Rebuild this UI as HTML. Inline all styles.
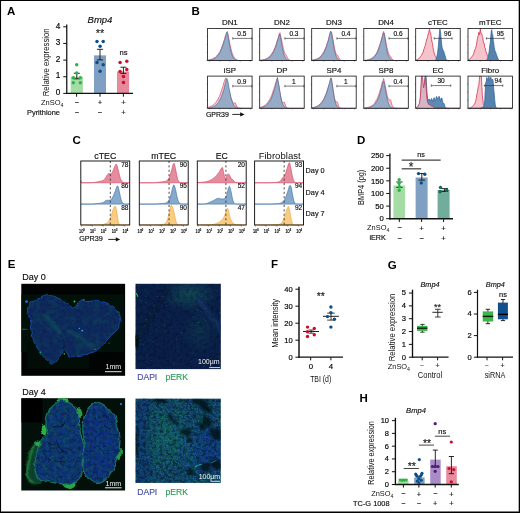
<!DOCTYPE html>
<html><head><meta charset="utf-8"><title>Figure</title>
<style>
html,body{margin:0;padding:0;background:#fff;}
body{width:520px;height:513px;overflow:hidden;position:relative;}
svg{position:absolute;left:0;top:0;display:block;font-family:"Liberation Sans", sans-serif;}
</style></head><body>
<svg width="520" height="513" viewBox="0 0 520 513">
<text x="7.00" y="15.30" font-size="11.5" text-anchor="start" font-weight="bold" font-style="normal" fill="#000" >A</text>
<text x="100.00" y="22.50" font-size="9.5" text-anchor="middle" font-weight="normal" font-style="italic" fill="#111"  stroke="#111" stroke-width="0.16">Bmp4</text>
<rect x="70.70" y="76.75" width="12.20" height="16.65" fill="#a3dca5" stroke="none" stroke-width="0.8" />
<rect x="94.00" y="55.35" width="12.00" height="38.05" fill="#7fa0c2" stroke="none" stroke-width="0.8" />
<rect x="117.00" y="71.51" width="12.10" height="21.89" fill="#e68a9c" stroke="none" stroke-width="0.8" />
<line x1="66.75" y1="24.50" x2="66.75" y2="94.00" stroke="#111" stroke-width="1.25" />
<line x1="66.15" y1="93.40" x2="133.00" y2="93.40" stroke="#111" stroke-width="1.25" />
<line x1="63.25" y1="93.40" x2="66.75" y2="93.40" stroke="#111" stroke-width="1.0" />
<text x="60.40" y="95.10" font-size="8.2" text-anchor="end" font-weight="normal" font-style="normal" fill="#000"  stroke="#000" stroke-width="0.16">0</text>
<line x1="63.25" y1="76.75" x2="66.75" y2="76.75" stroke="#111" stroke-width="1.0" />
<text x="60.40" y="78.45" font-size="8.2" text-anchor="end" font-weight="normal" font-style="normal" fill="#000"  stroke="#000" stroke-width="0.16">1</text>
<line x1="63.25" y1="60.10" x2="66.75" y2="60.10" stroke="#111" stroke-width="1.0" />
<text x="60.40" y="61.80" font-size="8.2" text-anchor="end" font-weight="normal" font-style="normal" fill="#000"  stroke="#000" stroke-width="0.16">2</text>
<line x1="63.25" y1="43.45" x2="66.75" y2="43.45" stroke="#111" stroke-width="1.0" />
<text x="60.40" y="45.15" font-size="8.2" text-anchor="end" font-weight="normal" font-style="normal" fill="#000"  stroke="#000" stroke-width="0.16">3</text>
<line x1="63.25" y1="26.80" x2="66.75" y2="26.80" stroke="#111" stroke-width="1.0" />
<text x="60.40" y="28.50" font-size="8.2" text-anchor="end" font-weight="normal" font-style="normal" fill="#000"  stroke="#000" stroke-width="0.16">4</text>
<line x1="76.60" y1="93.40" x2="76.60" y2="96.70" stroke="#111" stroke-width="1.0" />
<line x1="100.00" y1="93.40" x2="100.00" y2="96.70" stroke="#111" stroke-width="1.0" />
<line x1="123.40" y1="93.40" x2="123.40" y2="96.70" stroke="#111" stroke-width="1.0" />
<text transform="translate(48.90,62.30) rotate(-90) scale(0.8659,1)" font-size="9.0" text-anchor="middle" fill="#111">Relative expression</text>
<line x1="76.80" y1="73.30" x2="76.80" y2="78.80" stroke="#111" stroke-width="0.9" />
<line x1="73.80" y1="73.30" x2="79.80" y2="73.30" stroke="#111" stroke-width="0.9" />
<line x1="73.80" y1="78.80" x2="79.80" y2="78.80" stroke="#111" stroke-width="0.9" />
<line x1="100.00" y1="49.30" x2="100.00" y2="59.90" stroke="#111" stroke-width="0.9" />
<line x1="96.90" y1="49.30" x2="103.10" y2="49.30" stroke="#111" stroke-width="0.9" />
<line x1="96.90" y1="59.90" x2="103.10" y2="59.90" stroke="#111" stroke-width="0.9" />
<line x1="123.40" y1="67.20" x2="123.40" y2="73.40" stroke="#111" stroke-width="0.9" />
<line x1="120.40" y1="67.20" x2="126.40" y2="67.20" stroke="#111" stroke-width="0.9" />
<line x1="120.40" y1="73.40" x2="126.40" y2="73.40" stroke="#111" stroke-width="0.9" />
<circle cx="76.70" cy="64.80" r="1.75" fill="#2fb34a"/>
<circle cx="76.70" cy="73.00" r="1.75" fill="#2fb34a"/>
<circle cx="73.30" cy="77.70" r="1.75" fill="#2fb34a"/>
<circle cx="80.30" cy="77.70" r="1.75" fill="#2fb34a"/>
<circle cx="73.30" cy="82.70" r="1.75" fill="#2fb34a"/>
<circle cx="80.30" cy="82.70" r="1.75" fill="#2fb34a"/>
<circle cx="97.00" cy="41.40" r="1.75" fill="#0b4f8a"/>
<circle cx="103.20" cy="41.40" r="1.75" fill="#0b4f8a"/>
<circle cx="100.10" cy="46.20" r="1.75" fill="#0b4f8a"/>
<circle cx="97.00" cy="62.40" r="1.75" fill="#0b4f8a"/>
<circle cx="103.20" cy="64.80" r="1.75" fill="#0b4f8a"/>
<circle cx="100.10" cy="71.20" r="1.75" fill="#0b4f8a"/>
<circle cx="120.10" cy="62.40" r="1.75" fill="#c8102e"/>
<circle cx="126.80" cy="61.30" r="1.75" fill="#c8102e"/>
<circle cx="120.10" cy="71.50" r="1.75" fill="#c8102e"/>
<circle cx="126.80" cy="69.60" r="1.75" fill="#c8102e"/>
<circle cx="123.50" cy="76.50" r="1.75" fill="#c8102e"/>
<circle cx="123.50" cy="82.40" r="1.75" fill="#c8102e"/>
<text x="100.00" y="37.25" font-size="11" text-anchor="middle" font-weight="normal" font-style="normal" fill="#222" stroke="#222" stroke-width="0.15">**</text>
<text x="123.50" y="54.60" font-size="7.6" text-anchor="middle" font-weight="normal" font-style="normal" fill="#111"  stroke="#111" stroke-width="0.16">ns</text>
<text x="63.50" y="105.20" font-size="7.5" text-anchor="end" fill="#111">ZnSO<tspan font-size="5.25" dy="1.6">4</tspan></text>
<text x="59.90" y="114.80" font-size="7.4" text-anchor="end" font-weight="normal" font-style="normal" fill="#111"  stroke="#111" stroke-width="0.16">Pyrithione</text>
<text x="76.80" y="104.88" font-size="7.36" text-anchor="middle" font-weight="normal" font-style="normal" fill="#222"  stroke="#222" stroke-width="0.16">−</text>
<text x="76.80" y="114.98" font-size="7.36" text-anchor="middle" font-weight="normal" font-style="normal" fill="#222"  stroke="#222" stroke-width="0.16">−</text>
<text x="100.00" y="105.02" font-size="7.73" text-anchor="middle" font-weight="normal" font-style="normal" fill="#222"  stroke="#222" stroke-width="0.16">+</text>
<text x="100.00" y="114.98" font-size="7.36" text-anchor="middle" font-weight="normal" font-style="normal" fill="#222"  stroke="#222" stroke-width="0.16">−</text>
<text x="123.40" y="105.02" font-size="7.73" text-anchor="middle" font-weight="normal" font-style="normal" fill="#222"  stroke="#222" stroke-width="0.16">+</text>
<text x="123.40" y="115.12" font-size="7.73" text-anchor="middle" font-weight="normal" font-style="normal" fill="#222"  stroke="#222" stroke-width="0.16">+</text>
<text x="191.50" y="15.30" font-size="11.5" text-anchor="start" font-weight="bold" font-style="normal" fill="#000" >B</text>
<text x="229.85" y="24.80" font-size="7.9" text-anchor="middle" font-weight="normal" font-style="normal" fill="#111"  stroke="#111" stroke-width="0.16">DN1</text>
<clipPath id="cb00"><rect x="207.6" y="28.4" width="44.5" height="32.2"/></clipPath>
<g clip-path="url(#cb00)">
<path d="M207.60 60.70 L207.60 60.16 L208.09 60.08 L208.59 60.00 L209.08 59.90 L209.58 59.79 L210.07 59.71 L210.57 59.58 L211.06 59.37 L211.56 59.26 L212.05 59.08 L212.54 58.79 L213.04 58.62 L213.53 58.31 L214.03 58.08 L214.52 57.73 L215.02 57.48 L215.51 56.99 L216.01 56.50 L216.50 56.11 L216.99 55.53 L217.49 54.97 L217.98 54.56 L218.48 53.60 L218.97 52.92 L219.47 52.25 L219.96 51.52 L220.46 50.06 L220.95 49.27 L221.44 47.96 L221.94 46.61 L222.43 45.44 L222.93 43.85 L223.42 42.94 L223.92 40.96 L224.41 39.80 L224.91 37.51 L225.40 35.90 L225.89 35.44 L226.39 33.86 L226.88 32.41 L227.38 31.47 L227.87 34.14 L228.37 36.10 L228.86 39.02 L229.36 41.28 L229.85 43.88 L230.34 46.24 L230.84 48.21 L231.33 50.18 L231.83 51.76 L232.32 53.41 L232.82 54.65 L233.31 55.81 L233.81 56.74 L234.30 57.60 L234.79 58.32 L235.29 58.75 L235.78 59.17 L236.28 59.52 L236.77 59.81 L237.27 60.01 L237.76 60.19 L238.26 60.30 L238.75 60.41 L239.24 60.49 L239.74 60.54 L240.23 60.58 L240.73 60.61 L241.22 60.64 L241.72 60.65 L242.21 60.67 L242.71 60.68 L243.20 60.68 L243.69 60.69 L244.19 60.69 L244.68 60.69 L245.18 60.70 L245.67 60.70 L246.17 60.70 L246.66 60.70 L247.16 60.70 L247.65 60.70 L248.14 60.70 L248.64 60.70 L249.13 60.70 L249.63 60.70 L250.12 60.70 L250.62 60.70 L251.11 60.70 L251.61 60.70 L252.10 60.70 L252.10 60.70 Z" fill="#f5c3cb" stroke="#d9344f" stroke-width="0.6" stroke-linejoin="round" fill-opacity="1.0"/>
<path d="M207.60 60.70 L207.60 60.37 L208.09 60.32 L208.59 60.24 L209.08 60.19 L209.58 60.09 L210.07 60.00 L210.57 59.93 L211.06 59.81 L211.56 59.68 L212.05 59.52 L212.54 59.36 L213.04 59.17 L213.53 58.96 L214.03 58.68 L214.52 58.46 L215.02 58.17 L215.51 57.79 L216.01 57.50 L216.50 57.07 L216.99 56.43 L217.49 56.02 L217.98 55.43 L218.48 54.97 L218.97 54.11 L219.47 53.25 L219.96 52.66 L220.46 51.40 L220.95 50.34 L221.44 49.59 L221.94 47.96 L222.43 46.76 L222.93 45.14 L223.42 43.93 L223.92 41.94 L224.41 40.19 L224.91 39.35 L225.40 37.56 L225.89 34.88 L226.39 32.71 L226.88 32.50 L227.38 33.11 L227.87 35.15 L228.37 38.23 L228.86 41.01 L229.36 43.85 L229.85 46.44 L230.34 48.69 L230.84 51.03 L231.33 52.84 L231.83 54.27 L232.32 55.85 L232.82 56.79 L233.31 57.65 L233.81 58.42 L234.30 58.99 L234.79 59.37 L235.29 59.74 L235.78 60.00 L236.28 60.18 L236.77 60.32 L237.27 60.44 L237.76 60.51 L238.26 60.56 L238.75 60.60 L239.24 60.63 L239.74 60.65 L240.23 60.67 L240.73 60.68 L241.22 60.69 L241.72 60.69 L242.21 60.69 L242.71 60.70 L243.20 60.70 L243.69 60.70 L244.19 60.70 L244.68 60.70 L245.18 60.70 L245.67 60.70 L246.17 60.70 L246.66 60.70 L247.16 60.70 L247.65 60.70 L248.14 60.70 L248.64 60.70 L249.13 60.70 L249.63 60.70 L250.12 60.70 L250.62 60.70 L251.11 60.70 L251.61 60.70 L252.10 60.70 L252.10 60.70 Z" fill="#92aac6" stroke="#34679a" stroke-width="0.6" stroke-linejoin="round" fill-opacity="0.96"/>
</g>
<rect x="207.60" y="28.40" width="44.50" height="32.20" fill="none" stroke="#111" stroke-width="0.8" />
<line x1="209.60" y1="60.60" x2="209.60" y2="61.80" stroke="#333" stroke-width="0.4" />
<line x1="219.80" y1="60.60" x2="219.80" y2="61.80" stroke="#333" stroke-width="0.4" />
<line x1="230.00" y1="60.60" x2="230.00" y2="61.80" stroke="#333" stroke-width="0.4" />
<line x1="240.20" y1="60.60" x2="240.20" y2="61.80" stroke="#333" stroke-width="0.4" />
<line x1="250.40" y1="60.60" x2="250.40" y2="61.80" stroke="#333" stroke-width="0.4" />
<line x1="206.60" y1="60.60" x2="207.60" y2="60.60" stroke="#333" stroke-width="0.4" />
<line x1="206.60" y1="52.60" x2="207.60" y2="52.60" stroke="#333" stroke-width="0.4" />
<line x1="206.60" y1="44.60" x2="207.60" y2="44.60" stroke="#333" stroke-width="0.4" />
<line x1="206.60" y1="36.60" x2="207.60" y2="36.60" stroke="#333" stroke-width="0.4" />
<line x1="232.80" y1="38.40" x2="251.80" y2="38.40" stroke="#222" stroke-width="0.6" />
<line x1="232.80" y1="37.20" x2="232.80" y2="39.60" stroke="#222" stroke-width="0.6" />
<line x1="251.80" y1="37.20" x2="251.80" y2="39.60" stroke="#222" stroke-width="0.6" />
<text x="241.80" y="36.00" font-size="6.5" text-anchor="middle" font-weight="normal" font-style="normal" fill="#111"  stroke="#111" stroke-width="0.16">0.5</text>
<text x="281.95" y="24.80" font-size="7.9" text-anchor="middle" font-weight="normal" font-style="normal" fill="#111"  stroke="#111" stroke-width="0.16">DN2</text>
<clipPath id="cb01"><rect x="259.7" y="28.4" width="44.5" height="32.2"/></clipPath>
<g clip-path="url(#cb01)">
<path d="M259.70 60.70 L259.70 60.32 L260.19 60.29 L260.69 60.24 L261.18 60.14 L261.68 60.07 L262.17 59.97 L262.67 59.90 L263.16 59.76 L263.66 59.64 L264.15 59.55 L264.64 59.35 L265.14 59.17 L265.63 58.99 L266.13 58.78 L266.62 58.57 L267.12 58.29 L267.61 58.01 L268.11 57.70 L268.60 57.23 L269.09 56.88 L269.59 56.29 L270.08 55.99 L270.58 55.16 L271.07 54.60 L271.57 53.81 L272.06 53.06 L272.56 52.22 L273.05 51.49 L273.54 50.86 L274.04 49.35 L274.53 48.63 L275.03 47.33 L275.52 45.73 L276.02 44.46 L276.51 43.12 L277.01 41.00 L277.50 39.77 L277.99 38.50 L278.49 37.02 L278.98 34.52 L279.48 33.67 L279.97 32.67 L280.47 34.92 L280.96 37.30 L281.46 39.29 L281.95 41.53 L282.44 44.71 L282.94 46.51 L283.43 48.62 L283.93 50.63 L284.42 52.20 L284.92 53.70 L285.41 54.16 L285.91 54.61 L286.40 55.53 L286.89 56.41 L287.39 57.52 L287.88 58.49 L288.38 59.24 L288.87 59.70 L289.37 59.97 L289.86 60.19 L290.36 60.32 L290.85 60.42 L291.34 60.49 L291.84 60.55 L292.33 60.59 L292.83 60.62 L293.32 60.64 L293.82 60.66 L294.31 60.67 L294.81 60.68 L295.30 60.69 L295.79 60.69 L296.29 60.69 L296.78 60.70 L297.28 60.70 L297.77 60.70 L298.27 60.70 L298.76 60.70 L299.26 60.70 L299.75 60.70 L300.24 60.70 L300.74 60.70 L301.23 60.70 L301.73 60.70 L302.22 60.70 L302.72 60.70 L303.21 60.70 L303.71 60.70 L304.20 60.70 L304.20 60.70 Z" fill="#f5c3cb" stroke="#d9344f" stroke-width="0.6" stroke-linejoin="round" fill-opacity="1.0"/>
<path d="M259.70 60.70 L259.70 60.46 L260.19 60.42 L260.69 60.38 L261.18 60.33 L261.68 60.27 L262.17 60.21 L262.67 60.15 L263.16 60.05 L263.66 59.95 L264.15 59.87 L264.64 59.73 L265.14 59.59 L265.63 59.39 L266.13 59.20 L266.62 59.05 L267.12 58.76 L267.61 58.50 L268.11 58.28 L268.60 57.92 L269.09 57.62 L269.59 57.07 L270.08 56.63 L270.58 56.05 L271.07 55.49 L271.57 54.89 L272.06 54.15 L272.56 53.44 L273.05 52.80 L273.54 51.63 L274.04 50.95 L274.53 49.78 L275.03 48.13 L275.52 47.41 L276.02 46.01 L276.51 44.57 L277.01 42.20 L277.50 41.37 L277.99 39.93 L278.49 37.17 L278.98 36.59 L279.48 34.07 L279.97 34.62 L280.47 36.60 L280.96 39.25 L281.46 42.64 L281.95 45.31 L282.44 48.58 L282.94 50.44 L283.43 52.66 L283.93 54.32 L284.42 55.94 L284.92 56.93 L285.41 57.84 L285.91 58.68 L286.40 59.19 L286.89 59.59 L287.39 59.89 L287.88 60.15 L288.38 60.31 L288.87 60.43 L289.37 60.51 L289.86 60.57 L290.36 60.61 L290.85 60.64 L291.34 60.66 L291.84 60.67 L292.33 60.68 L292.83 60.69 L293.32 60.69 L293.82 60.70 L294.31 60.70 L294.81 60.70 L295.30 60.70 L295.79 60.70 L296.29 60.70 L296.78 60.70 L297.28 60.70 L297.77 60.70 L298.27 60.70 L298.76 60.70 L299.26 60.70 L299.75 60.70 L300.24 60.70 L300.74 60.70 L301.23 60.70 L301.73 60.70 L302.22 60.70 L302.72 60.70 L303.21 60.70 L303.71 60.70 L304.20 60.70 L304.20 60.70 Z" fill="#92aac6" stroke="#34679a" stroke-width="0.6" stroke-linejoin="round" fill-opacity="0.96"/>
</g>
<rect x="259.70" y="28.40" width="44.50" height="32.20" fill="none" stroke="#111" stroke-width="0.8" />
<line x1="261.70" y1="60.60" x2="261.70" y2="61.80" stroke="#333" stroke-width="0.4" />
<line x1="271.90" y1="60.60" x2="271.90" y2="61.80" stroke="#333" stroke-width="0.4" />
<line x1="282.10" y1="60.60" x2="282.10" y2="61.80" stroke="#333" stroke-width="0.4" />
<line x1="292.30" y1="60.60" x2="292.30" y2="61.80" stroke="#333" stroke-width="0.4" />
<line x1="302.50" y1="60.60" x2="302.50" y2="61.80" stroke="#333" stroke-width="0.4" />
<line x1="258.70" y1="60.60" x2="259.70" y2="60.60" stroke="#333" stroke-width="0.4" />
<line x1="258.70" y1="52.60" x2="259.70" y2="52.60" stroke="#333" stroke-width="0.4" />
<line x1="258.70" y1="44.60" x2="259.70" y2="44.60" stroke="#333" stroke-width="0.4" />
<line x1="258.70" y1="36.60" x2="259.70" y2="36.60" stroke="#333" stroke-width="0.4" />
<line x1="284.90" y1="38.40" x2="303.90" y2="38.40" stroke="#222" stroke-width="0.6" />
<line x1="284.90" y1="37.20" x2="284.90" y2="39.60" stroke="#222" stroke-width="0.6" />
<line x1="303.90" y1="37.20" x2="303.90" y2="39.60" stroke="#222" stroke-width="0.6" />
<text x="293.90" y="36.00" font-size="6.5" text-anchor="middle" font-weight="normal" font-style="normal" fill="#111"  stroke="#111" stroke-width="0.16">0.3</text>
<text x="333.95" y="24.80" font-size="7.9" text-anchor="middle" font-weight="normal" font-style="normal" fill="#111"  stroke="#111" stroke-width="0.16">DN3</text>
<clipPath id="cb02"><rect x="311.7" y="28.4" width="44.5" height="32.2"/></clipPath>
<g clip-path="url(#cb02)">
<path d="M311.70 60.70 L311.70 60.23 L312.19 60.16 L312.69 60.07 L313.18 59.97 L313.68 59.90 L314.17 59.77 L314.67 59.66 L315.16 59.49 L315.66 59.36 L316.15 59.21 L316.64 59.02 L317.14 58.82 L317.63 58.52 L318.13 58.26 L318.62 57.98 L319.12 57.61 L319.61 57.24 L320.11 56.71 L320.60 56.39 L321.09 55.63 L321.59 55.21 L322.08 54.52 L322.58 53.87 L323.07 52.94 L323.57 52.09 L324.06 51.30 L324.56 50.34 L325.05 49.10 L325.54 47.81 L326.04 46.90 L326.53 45.25 L327.03 43.56 L327.52 42.52 L328.02 41.19 L328.51 39.53 L329.01 37.15 L329.50 35.42 L329.99 33.20 L330.49 31.67 L330.98 31.33 L331.48 32.13 L331.97 34.19 L332.47 36.97 L332.96 39.16 L333.46 41.92 L333.95 44.70 L334.44 47.80 L334.94 49.63 L335.43 51.90 L335.93 53.36 L336.42 54.28 L336.92 55.09 L337.41 55.41 L337.91 55.65 L338.40 56.65 L338.89 57.74 L339.39 58.74 L339.88 59.49 L340.38 59.97 L340.87 60.21 L341.37 60.35 L341.86 60.45 L342.36 60.53 L342.85 60.57 L343.34 60.61 L343.84 60.64 L344.33 60.66 L344.83 60.67 L345.32 60.68 L345.82 60.69 L346.31 60.69 L346.81 60.69 L347.30 60.70 L347.79 60.70 L348.29 60.70 L348.78 60.70 L349.28 60.70 L349.77 60.70 L350.27 60.70 L350.76 60.70 L351.26 60.70 L351.75 60.70 L352.24 60.70 L352.74 60.70 L353.23 60.70 L353.73 60.70 L354.22 60.70 L354.72 60.70 L355.21 60.70 L355.71 60.70 L356.20 60.70 L356.20 60.70 Z" fill="#f5c3cb" stroke="#d9344f" stroke-width="0.6" stroke-linejoin="round" fill-opacity="1.0"/>
<path d="M311.70 60.70 L311.70 60.37 L312.19 60.32 L312.69 60.27 L313.18 60.19 L313.68 60.11 L314.17 60.04 L314.67 59.91 L315.16 59.81 L315.66 59.71 L316.15 59.51 L316.64 59.40 L317.14 59.19 L317.63 58.94 L318.13 58.71 L318.62 58.44 L319.12 58.12 L319.61 57.80 L320.11 57.44 L320.60 57.04 L321.09 56.59 L321.59 55.87 L322.08 55.24 L322.58 54.63 L323.07 53.81 L323.57 53.14 L324.06 52.29 L324.56 51.24 L325.05 49.84 L325.54 49.21 L326.04 47.59 L326.53 46.42 L327.03 44.44 L327.52 43.25 L328.02 41.59 L328.51 39.73 L329.01 37.71 L329.50 35.48 L329.99 34.26 L330.49 31.69 L330.98 31.68 L331.48 33.09 L331.97 36.11 L332.47 39.21 L332.96 41.65 L333.46 44.87 L333.95 48.17 L334.44 50.63 L334.94 52.62 L335.43 54.28 L335.93 55.75 L336.42 56.97 L336.92 57.93 L337.41 58.71 L337.91 59.22 L338.40 59.65 L338.89 59.93 L339.39 60.16 L339.88 60.33 L340.38 60.44 L340.87 60.52 L341.37 60.58 L341.86 60.62 L342.36 60.64 L342.85 60.66 L343.34 60.68 L343.84 60.68 L344.33 60.69 L344.83 60.69 L345.32 60.70 L345.82 60.70 L346.31 60.70 L346.81 60.70 L347.30 60.70 L347.79 60.70 L348.29 60.70 L348.78 60.70 L349.28 60.70 L349.77 60.70 L350.27 60.70 L350.76 60.70 L351.26 60.70 L351.75 60.70 L352.24 60.70 L352.74 60.70 L353.23 60.70 L353.73 60.70 L354.22 60.70 L354.72 60.70 L355.21 60.70 L355.71 60.70 L356.20 60.70 L356.20 60.70 Z" fill="#92aac6" stroke="#34679a" stroke-width="0.6" stroke-linejoin="round" fill-opacity="0.96"/>
</g>
<rect x="311.70" y="28.40" width="44.50" height="32.20" fill="none" stroke="#111" stroke-width="0.8" />
<line x1="313.70" y1="60.60" x2="313.70" y2="61.80" stroke="#333" stroke-width="0.4" />
<line x1="323.90" y1="60.60" x2="323.90" y2="61.80" stroke="#333" stroke-width="0.4" />
<line x1="334.10" y1="60.60" x2="334.10" y2="61.80" stroke="#333" stroke-width="0.4" />
<line x1="344.30" y1="60.60" x2="344.30" y2="61.80" stroke="#333" stroke-width="0.4" />
<line x1="354.50" y1="60.60" x2="354.50" y2="61.80" stroke="#333" stroke-width="0.4" />
<line x1="310.70" y1="60.60" x2="311.70" y2="60.60" stroke="#333" stroke-width="0.4" />
<line x1="310.70" y1="52.60" x2="311.70" y2="52.60" stroke="#333" stroke-width="0.4" />
<line x1="310.70" y1="44.60" x2="311.70" y2="44.60" stroke="#333" stroke-width="0.4" />
<line x1="310.70" y1="36.60" x2="311.70" y2="36.60" stroke="#333" stroke-width="0.4" />
<line x1="336.90" y1="38.40" x2="355.90" y2="38.40" stroke="#222" stroke-width="0.6" />
<line x1="336.90" y1="37.20" x2="336.90" y2="39.60" stroke="#222" stroke-width="0.6" />
<line x1="355.90" y1="37.20" x2="355.90" y2="39.60" stroke="#222" stroke-width="0.6" />
<text x="345.90" y="36.00" font-size="6.5" text-anchor="middle" font-weight="normal" font-style="normal" fill="#111"  stroke="#111" stroke-width="0.16">0.4</text>
<text x="386.05" y="24.80" font-size="7.9" text-anchor="middle" font-weight="normal" font-style="normal" fill="#111"  stroke="#111" stroke-width="0.16">DN4</text>
<clipPath id="cb03"><rect x="363.8" y="28.4" width="44.5" height="32.2"/></clipPath>
<g clip-path="url(#cb03)">
<path d="M363.80 60.70 L363.80 60.43 L364.29 60.39 L364.79 60.35 L365.28 60.29 L365.78 60.23 L366.27 60.16 L366.77 60.07 L367.26 59.95 L367.76 59.87 L368.25 59.72 L368.74 59.59 L369.24 59.47 L369.73 59.23 L370.23 59.05 L370.72 58.78 L371.22 58.54 L371.71 58.24 L372.21 57.97 L372.70 57.52 L373.19 57.07 L373.69 56.61 L374.18 56.20 L374.68 55.52 L375.17 54.97 L375.67 54.40 L376.16 53.66 L376.66 52.80 L377.15 51.80 L377.64 50.80 L378.14 49.46 L378.63 48.07 L379.13 46.85 L379.62 45.51 L380.12 43.74 L380.61 42.47 L381.11 40.57 L381.60 38.40 L382.09 37.04 L382.59 35.56 L383.08 32.66 L383.58 31.46 L384.07 32.72 L384.57 34.75 L385.06 37.02 L385.56 39.65 L386.05 42.79 L386.54 45.56 L387.04 47.74 L387.53 49.50 L388.03 51.76 L388.52 53.12 L389.02 54.35 L389.51 55.08 L390.01 55.63 L390.50 56.17 L390.99 57.07 L391.49 58.06 L391.98 58.90 L392.48 59.51 L392.97 59.88 L393.47 60.14 L393.96 60.29 L394.46 60.40 L394.95 60.48 L395.44 60.54 L395.94 60.59 L396.43 60.62 L396.93 60.64 L397.42 60.66 L397.92 60.67 L398.41 60.68 L398.91 60.69 L399.40 60.69 L399.89 60.69 L400.39 60.70 L400.88 60.70 L401.38 60.70 L401.87 60.70 L402.37 60.70 L402.86 60.70 L403.36 60.70 L403.85 60.70 L404.34 60.70 L404.84 60.70 L405.33 60.70 L405.83 60.70 L406.32 60.70 L406.82 60.70 L407.31 60.70 L407.81 60.70 L408.30 60.70 L408.30 60.70 Z" fill="#f5c3cb" stroke="#d9344f" stroke-width="0.6" stroke-linejoin="round" fill-opacity="1.0"/>
<path d="M363.80 60.70 L363.80 60.53 L364.29 60.50 L364.79 60.48 L365.28 60.44 L365.78 60.40 L366.27 60.34 L366.77 60.29 L367.26 60.22 L367.76 60.12 L368.25 60.01 L368.74 59.93 L369.24 59.77 L369.73 59.65 L370.23 59.46 L370.72 59.26 L371.22 59.03 L371.71 58.88 L372.21 58.57 L372.70 58.21 L373.19 57.78 L373.69 57.53 L374.18 57.02 L374.68 56.36 L375.17 55.97 L375.67 55.23 L376.16 54.51 L376.66 53.54 L377.15 52.49 L377.64 51.85 L378.14 50.40 L378.63 49.14 L379.13 47.69 L379.62 46.43 L380.12 44.49 L380.61 43.34 L381.11 41.49 L381.60 39.85 L382.09 37.18 L382.59 35.65 L383.08 34.15 L383.58 32.87 L384.07 33.38 L384.57 36.21 L385.06 39.14 L385.56 42.66 L386.05 45.54 L386.54 48.53 L387.04 50.57 L387.53 53.01 L388.03 54.54 L388.52 55.88 L389.02 57.06 L389.51 58.07 L390.01 58.74 L390.50 59.21 L390.99 59.64 L391.49 59.93 L391.98 60.16 L392.48 60.33 L392.97 60.44 L393.47 60.52 L393.96 60.58 L394.46 60.62 L394.95 60.65 L395.44 60.66 L395.94 60.68 L396.43 60.69 L396.93 60.69 L397.42 60.69 L397.92 60.70 L398.41 60.70 L398.91 60.70 L399.40 60.70 L399.89 60.70 L400.39 60.70 L400.88 60.70 L401.38 60.70 L401.87 60.70 L402.37 60.70 L402.86 60.70 L403.36 60.70 L403.85 60.70 L404.34 60.70 L404.84 60.70 L405.33 60.70 L405.83 60.70 L406.32 60.70 L406.82 60.70 L407.31 60.70 L407.81 60.70 L408.30 60.70 L408.30 60.70 Z" fill="#92aac6" stroke="#34679a" stroke-width="0.6" stroke-linejoin="round" fill-opacity="0.96"/>
</g>
<rect x="363.80" y="28.40" width="44.50" height="32.20" fill="none" stroke="#111" stroke-width="0.8" />
<line x1="365.80" y1="60.60" x2="365.80" y2="61.80" stroke="#333" stroke-width="0.4" />
<line x1="376.00" y1="60.60" x2="376.00" y2="61.80" stroke="#333" stroke-width="0.4" />
<line x1="386.20" y1="60.60" x2="386.20" y2="61.80" stroke="#333" stroke-width="0.4" />
<line x1="396.40" y1="60.60" x2="396.40" y2="61.80" stroke="#333" stroke-width="0.4" />
<line x1="406.60" y1="60.60" x2="406.60" y2="61.80" stroke="#333" stroke-width="0.4" />
<line x1="362.80" y1="60.60" x2="363.80" y2="60.60" stroke="#333" stroke-width="0.4" />
<line x1="362.80" y1="52.60" x2="363.80" y2="52.60" stroke="#333" stroke-width="0.4" />
<line x1="362.80" y1="44.60" x2="363.80" y2="44.60" stroke="#333" stroke-width="0.4" />
<line x1="362.80" y1="36.60" x2="363.80" y2="36.60" stroke="#333" stroke-width="0.4" />
<line x1="389.00" y1="38.40" x2="408.00" y2="38.40" stroke="#222" stroke-width="0.6" />
<line x1="389.00" y1="37.20" x2="389.00" y2="39.60" stroke="#222" stroke-width="0.6" />
<line x1="408.00" y1="37.20" x2="408.00" y2="39.60" stroke="#222" stroke-width="0.6" />
<text x="398.00" y="36.00" font-size="6.5" text-anchor="middle" font-weight="normal" font-style="normal" fill="#111"  stroke="#111" stroke-width="0.16">0.6</text>
<text x="437.95" y="24.80" font-size="7.9" text-anchor="middle" font-weight="normal" font-style="normal" fill="#111"  stroke="#111" stroke-width="0.16">cTEC</text>
<clipPath id="cb04"><rect x="415.7" y="28.4" width="44.5" height="32.2"/></clipPath>
<g clip-path="url(#cb04)">
<path d="M415.70 60.70 L415.70 60.13 L416.19 59.90 L416.69 59.82 L417.18 59.51 L417.68 59.41 L418.17 59.04 L418.67 58.77 L419.16 58.18 L419.66 57.77 L420.15 57.19 L420.64 56.47 L421.14 55.63 L421.63 55.16 L422.13 53.99 L422.62 53.07 L423.12 52.29 L423.61 49.99 L424.11 48.85 L424.60 46.81 L425.09 46.29 L425.59 43.75 L426.08 42.01 L426.58 39.26 L427.07 39.26 L427.57 36.47 L428.06 34.10 L428.56 34.05 L429.05 30.77 L429.54 29.32 L430.04 31.65 L430.53 32.72 L431.03 35.47 L431.52 39.58 L432.02 42.06 L432.51 43.45 L433.01 47.60 L433.50 49.85 L433.99 52.41 L434.49 54.00 L434.98 55.48 L435.48 56.19 L435.97 57.29 L436.47 58.00 L436.96 58.55 L437.46 59.06 L437.95 59.30 L438.44 59.58 L438.94 59.74 L439.43 59.78 L439.93 59.86 L440.42 59.91 L440.92 60.00 L441.41 60.01 L441.91 60.08 L442.40 60.07 L442.89 60.12 L443.39 60.21 L443.88 60.21 L444.38 60.30 L444.87 60.35 L445.37 60.36 L445.86 60.42 L446.36 60.45 L446.85 60.49 L447.34 60.53 L447.84 60.55 L448.33 60.58 L448.83 60.60 L449.32 60.62 L449.82 60.64 L450.31 60.65 L450.81 60.66 L451.30 60.67 L451.79 60.68 L452.29 60.68 L452.78 60.69 L453.28 60.69 L453.77 60.69 L454.27 60.70 L454.76 60.70 L455.26 60.70 L455.75 60.70 L456.24 60.70 L456.74 60.70 L457.23 60.70 L457.73 60.70 L458.22 60.70 L458.72 60.70 L459.21 60.70 L459.71 60.70 L460.20 60.70 L460.20 60.70 Z" fill="#f5c3cb" stroke="#d9344f" stroke-width="0.8" stroke-linejoin="round" fill-opacity="1.0"/>
<path d="M415.70 60.70 L415.70 60.70 L416.19 60.70 L416.69 60.70 L417.18 60.70 L417.68 60.70 L418.17 60.70 L418.67 60.70 L419.16 60.70 L419.66 60.70 L420.15 60.70 L420.64 60.70 L421.14 60.70 L421.63 60.70 L422.13 60.70 L422.62 60.70 L423.12 60.70 L423.61 60.70 L424.11 60.70 L424.60 60.70 L425.09 60.70 L425.59 60.70 L426.08 60.70 L426.58 60.70 L427.07 60.70 L427.57 60.70 L428.06 60.70 L428.56 60.70 L429.05 60.70 L429.54 60.70 L430.04 60.70 L430.53 60.70 L431.03 60.70 L431.52 60.70 L432.02 60.70 L432.51 60.70 L433.01 60.69 L433.50 60.68 L433.99 60.65 L434.49 60.57 L434.98 60.38 L435.48 60.02 L435.97 59.39 L436.47 58.13 L436.96 56.30 L437.46 53.66 L437.95 49.97 L438.44 45.55 L438.94 38.85 L439.43 32.91 L439.93 29.20 L440.42 31.39 L440.92 36.48 L441.41 41.95 L441.91 46.51 L442.40 48.99 L442.89 50.04 L443.39 50.42 L443.88 51.81 L444.38 53.43 L444.87 55.11 L445.37 57.02 L445.86 58.75 L446.36 59.77 L446.85 60.31 L447.34 60.55 L447.84 60.65 L448.33 60.69 L448.83 60.70 L449.32 60.70 L449.82 60.70 L450.31 60.70 L450.81 60.70 L451.30 60.70 L451.79 60.70 L452.29 60.70 L452.78 60.70 L453.28 60.70 L453.77 60.70 L454.27 60.70 L454.76 60.70 L455.26 60.70 L455.75 60.70 L456.24 60.70 L456.74 60.70 L457.23 60.70 L457.73 60.70 L458.22 60.70 L458.72 60.70 L459.21 60.70 L459.71 60.70 L460.20 60.70 L460.20 60.70 Z" fill="#4f7dab" stroke="#34679a" stroke-width="0.8" stroke-linejoin="round" fill-opacity="0.96"/>
</g>
<rect x="415.70" y="28.40" width="44.50" height="32.20" fill="none" stroke="#111" stroke-width="0.8" />
<line x1="417.70" y1="60.60" x2="417.70" y2="61.80" stroke="#333" stroke-width="0.4" />
<line x1="427.90" y1="60.60" x2="427.90" y2="61.80" stroke="#333" stroke-width="0.4" />
<line x1="438.10" y1="60.60" x2="438.10" y2="61.80" stroke="#333" stroke-width="0.4" />
<line x1="448.30" y1="60.60" x2="448.30" y2="61.80" stroke="#333" stroke-width="0.4" />
<line x1="458.50" y1="60.60" x2="458.50" y2="61.80" stroke="#333" stroke-width="0.4" />
<line x1="414.70" y1="60.60" x2="415.70" y2="60.60" stroke="#333" stroke-width="0.4" />
<line x1="414.70" y1="52.60" x2="415.70" y2="52.60" stroke="#333" stroke-width="0.4" />
<line x1="414.70" y1="44.60" x2="415.70" y2="44.60" stroke="#333" stroke-width="0.4" />
<line x1="414.70" y1="36.60" x2="415.70" y2="36.60" stroke="#333" stroke-width="0.4" />
<line x1="434.20" y1="38.40" x2="452.10" y2="38.40" stroke="#222" stroke-width="0.6" />
<line x1="434.20" y1="37.20" x2="434.20" y2="39.60" stroke="#222" stroke-width="0.6" />
<line x1="452.10" y1="37.20" x2="452.10" y2="39.60" stroke="#222" stroke-width="0.6" />
<text x="447.70" y="36.00" font-size="6.5" text-anchor="middle" font-weight="normal" font-style="normal" fill="#111"  stroke="#111" stroke-width="0.16">96</text>
<text x="490.25" y="24.80" font-size="7.9" text-anchor="middle" font-weight="normal" font-style="normal" fill="#111"  stroke="#111" stroke-width="0.16">mTEC</text>
<clipPath id="cb05"><rect x="468.0" y="28.4" width="44.5" height="32.2"/></clipPath>
<g clip-path="url(#cb05)">
<path d="M468.00 60.70 L468.00 59.95 L468.49 59.87 L468.99 59.61 L469.48 59.22 L469.98 59.01 L470.47 58.62 L470.97 57.80 L471.46 57.16 L471.96 56.84 L472.45 55.97 L472.94 55.14 L473.44 54.26 L473.93 52.91 L474.43 50.31 L474.92 50.41 L475.42 48.47 L475.91 46.79 L476.41 45.28 L476.90 41.86 L477.39 38.93 L477.89 36.34 L478.38 35.12 L478.88 32.30 L479.37 34.78 L479.87 32.23 L480.36 28.17 L480.86 33.46 L481.35 33.42 L481.84 33.83 L482.34 36.68 L482.83 37.59 L483.33 41.76 L483.82 43.31 L484.32 43.46 L484.81 47.88 L485.31 48.23 L485.80 51.51 L486.29 51.88 L486.79 53.81 L487.28 55.08 L487.78 56.51 L488.27 57.32 L488.77 57.53 L489.26 58.32 L489.76 58.70 L490.25 58.79 L490.74 59.04 L491.24 59.46 L491.73 59.43 L492.23 59.67 L492.72 59.83 L493.22 59.98 L493.71 60.05 L494.21 60.09 L494.70 60.25 L495.19 60.34 L495.69 60.41 L496.18 60.47 L496.68 60.51 L497.17 60.54 L497.67 60.60 L498.16 60.62 L498.66 60.64 L499.15 60.65 L499.64 60.67 L500.14 60.68 L500.63 60.69 L501.13 60.69 L501.62 60.69 L502.12 60.70 L502.61 60.70 L503.11 60.70 L503.60 60.70 L504.09 60.70 L504.59 60.70 L505.08 60.70 L505.58 60.70 L506.07 60.70 L506.57 60.70 L507.06 60.70 L507.56 60.70 L508.05 60.70 L508.54 60.70 L509.04 60.70 L509.53 60.70 L510.03 60.70 L510.52 60.70 L511.02 60.70 L511.51 60.70 L512.01 60.70 L512.50 60.70 L512.50 60.70 Z" fill="#f5c3cb" stroke="#d9344f" stroke-width="0.8" stroke-linejoin="round" fill-opacity="1.0"/>
<path d="M468.00 60.70 L468.00 60.70 L468.49 60.70 L468.99 60.70 L469.48 60.70 L469.98 60.70 L470.47 60.70 L470.97 60.70 L471.46 60.70 L471.96 60.70 L472.45 60.70 L472.94 60.70 L473.44 60.70 L473.93 60.70 L474.43 60.70 L474.92 60.70 L475.42 60.70 L475.91 60.70 L476.41 60.70 L476.90 60.70 L477.39 60.70 L477.89 60.70 L478.38 60.70 L478.88 60.70 L479.37 60.70 L479.87 60.70 L480.36 60.70 L480.86 60.70 L481.35 60.70 L481.84 60.70 L482.34 60.70 L482.83 60.70 L483.33 60.70 L483.82 60.69 L484.32 60.68 L484.81 60.66 L485.31 60.61 L485.80 60.49 L486.29 60.30 L486.79 59.92 L487.28 59.25 L487.78 58.01 L488.27 56.13 L488.77 53.89 L489.26 50.63 L489.76 46.11 L490.25 42.76 L490.74 37.12 L491.24 31.59 L491.73 29.61 L492.23 33.88 L492.72 34.57 L493.22 40.45 L493.71 42.97 L494.21 47.49 L494.70 49.98 L495.19 51.15 L495.69 52.20 L496.18 54.09 L496.68 55.20 L497.17 56.77 L497.67 58.19 L498.16 59.18 L498.66 59.83 L499.15 60.26 L499.64 60.50 L500.14 60.61 L500.63 60.67 L501.13 60.69 L501.62 60.70 L502.12 60.70 L502.61 60.70 L503.11 60.70 L503.60 60.70 L504.09 60.70 L504.59 60.70 L505.08 60.70 L505.58 60.70 L506.07 60.70 L506.57 60.70 L507.06 60.70 L507.56 60.70 L508.05 60.70 L508.54 60.70 L509.04 60.70 L509.53 60.70 L510.03 60.70 L510.52 60.70 L511.02 60.70 L511.51 60.70 L512.01 60.70 L512.50 60.70 L512.50 60.70 Z" fill="#4f7dab" stroke="#34679a" stroke-width="0.8" stroke-linejoin="round" fill-opacity="0.96"/>
</g>
<rect x="468.00" y="28.40" width="44.50" height="32.20" fill="none" stroke="#111" stroke-width="0.8" />
<line x1="470.00" y1="60.60" x2="470.00" y2="61.80" stroke="#333" stroke-width="0.4" />
<line x1="480.20" y1="60.60" x2="480.20" y2="61.80" stroke="#333" stroke-width="0.4" />
<line x1="490.40" y1="60.60" x2="490.40" y2="61.80" stroke="#333" stroke-width="0.4" />
<line x1="500.60" y1="60.60" x2="500.60" y2="61.80" stroke="#333" stroke-width="0.4" />
<line x1="510.80" y1="60.60" x2="510.80" y2="61.80" stroke="#333" stroke-width="0.4" />
<line x1="467.00" y1="60.60" x2="468.00" y2="60.60" stroke="#333" stroke-width="0.4" />
<line x1="467.00" y1="52.60" x2="468.00" y2="52.60" stroke="#333" stroke-width="0.4" />
<line x1="467.00" y1="44.60" x2="468.00" y2="44.60" stroke="#333" stroke-width="0.4" />
<line x1="467.00" y1="36.60" x2="468.00" y2="36.60" stroke="#333" stroke-width="0.4" />
<line x1="486.40" y1="38.40" x2="504.00" y2="38.40" stroke="#222" stroke-width="0.6" />
<line x1="486.40" y1="37.20" x2="486.40" y2="39.60" stroke="#222" stroke-width="0.6" />
<line x1="504.00" y1="37.20" x2="504.00" y2="39.60" stroke="#222" stroke-width="0.6" />
<text x="500.30" y="36.00" font-size="6.5" text-anchor="middle" font-weight="normal" font-style="normal" fill="#111"  stroke="#111" stroke-width="0.16">95</text>
<text x="229.85" y="73.10" font-size="7.9" text-anchor="middle" font-weight="normal" font-style="normal" fill="#111"  stroke="#111" stroke-width="0.16">iSP</text>
<clipPath id="cb10"><rect x="207.6" y="76.1" width="44.5" height="32.2"/></clipPath>
<g clip-path="url(#cb10)">
<path d="M207.60 108.40 L207.60 107.45 L208.09 107.34 L208.59 107.16 L209.08 107.02 L209.58 106.90 L210.07 106.72 L210.57 106.48 L211.06 106.30 L211.56 105.93 L212.05 105.74 L212.54 105.42 L213.04 105.05 L213.53 104.64 L214.03 104.24 L214.52 103.72 L215.02 103.20 L215.51 102.71 L216.01 102.22 L216.50 101.20 L216.99 100.58 L217.49 100.08 L217.98 99.04 L218.48 97.91 L218.97 96.72 L219.47 96.29 L219.96 95.20 L220.46 93.57 L220.95 92.30 L221.44 90.40 L221.94 88.96 L222.43 87.98 L222.93 86.27 L223.42 84.38 L223.92 82.22 L224.41 81.63 L224.91 79.73 L225.40 78.90 L225.89 77.83 L226.39 80.27 L226.88 80.54 L227.38 83.26 L227.87 85.37 L228.37 88.20 L228.86 90.15 L229.36 91.97 L229.85 93.61 L230.34 95.72 L230.84 97.58 L231.33 98.69 L231.83 100.24 L232.32 101.48 L232.82 102.54 L233.31 103.09 L233.81 103.02 L234.30 103.01 L234.79 102.63 L235.29 102.86 L235.78 103.88 L236.28 105.08 L236.77 106.24 L237.27 107.04 L237.76 107.49 L238.26 107.75 L238.75 107.90 L239.24 108.00 L239.74 108.09 L240.23 108.16 L240.73 108.20 L241.22 108.25 L241.72 108.28 L242.21 108.31 L242.71 108.33 L243.20 108.35 L243.69 108.36 L244.19 108.37 L244.68 108.38 L245.18 108.38 L245.67 108.39 L246.17 108.39 L246.66 108.39 L247.16 108.39 L247.65 108.40 L248.14 108.40 L248.64 108.40 L249.13 108.40 L249.63 108.40 L250.12 108.40 L250.62 108.40 L251.11 108.40 L251.61 108.40 L252.10 108.40 L252.10 108.40 Z" fill="#f5c3cb" stroke="#d9344f" stroke-width="0.6" stroke-linejoin="round" fill-opacity="1.0"/>
<path d="M207.60 108.40 L207.60 108.08 L208.09 108.02 L208.59 107.97 L209.08 107.89 L209.58 107.83 L210.07 107.73 L210.57 107.63 L211.06 107.54 L211.56 107.38 L212.05 107.26 L212.54 107.08 L213.04 106.89 L213.53 106.67 L214.03 106.45 L214.52 106.23 L215.02 105.83 L215.51 105.46 L216.01 105.14 L216.50 104.69 L216.99 104.28 L217.49 103.57 L217.98 103.02 L218.48 102.51 L218.97 101.54 L219.47 100.63 L219.96 100.03 L220.46 98.68 L220.95 97.88 L221.44 96.91 L221.94 95.23 L222.43 94.14 L222.93 92.28 L223.42 90.81 L223.92 89.65 L224.41 87.38 L224.91 85.07 L225.40 83.69 L225.89 81.70 L226.39 79.35 L226.88 78.59 L227.38 79.38 L227.87 81.33 L228.37 83.55 L228.86 87.14 L229.36 89.96 L229.85 91.88 L230.34 94.55 L230.84 96.97 L231.33 98.59 L231.83 100.36 L232.32 102.01 L232.82 103.13 L233.31 104.25 L233.81 105.14 L234.30 105.92 L234.79 106.51 L235.29 106.89 L235.78 107.24 L236.28 107.54 L236.77 107.75 L237.27 107.91 L237.76 108.05 L238.26 108.13 L238.75 108.21 L239.24 108.26 L239.74 108.30 L240.23 108.33 L240.73 108.35 L241.22 108.36 L241.72 108.38 L242.21 108.38 L242.71 108.39 L243.20 108.39 L243.69 108.39 L244.19 108.40 L244.68 108.40 L245.18 108.40 L245.67 108.40 L246.17 108.40 L246.66 108.40 L247.16 108.40 L247.65 108.40 L248.14 108.40 L248.64 108.40 L249.13 108.40 L249.63 108.40 L250.12 108.40 L250.62 108.40 L251.11 108.40 L251.61 108.40 L252.10 108.40 L252.10 108.40 Z" fill="#92aac6" stroke="#34679a" stroke-width="0.6" stroke-linejoin="round" fill-opacity="0.96"/>
</g>
<rect x="207.60" y="76.10" width="44.50" height="32.20" fill="none" stroke="#111" stroke-width="0.8" />
<line x1="209.60" y1="108.30" x2="209.60" y2="109.50" stroke="#333" stroke-width="0.4" />
<line x1="219.80" y1="108.30" x2="219.80" y2="109.50" stroke="#333" stroke-width="0.4" />
<line x1="230.00" y1="108.30" x2="230.00" y2="109.50" stroke="#333" stroke-width="0.4" />
<line x1="240.20" y1="108.30" x2="240.20" y2="109.50" stroke="#333" stroke-width="0.4" />
<line x1="250.40" y1="108.30" x2="250.40" y2="109.50" stroke="#333" stroke-width="0.4" />
<line x1="206.60" y1="108.30" x2="207.60" y2="108.30" stroke="#333" stroke-width="0.4" />
<line x1="206.60" y1="100.30" x2="207.60" y2="100.30" stroke="#333" stroke-width="0.4" />
<line x1="206.60" y1="92.30" x2="207.60" y2="92.30" stroke="#333" stroke-width="0.4" />
<line x1="206.60" y1="84.30" x2="207.60" y2="84.30" stroke="#333" stroke-width="0.4" />
<line x1="232.80" y1="86.10" x2="251.80" y2="86.10" stroke="#222" stroke-width="0.6" />
<line x1="232.80" y1="84.90" x2="232.80" y2="87.30" stroke="#222" stroke-width="0.6" />
<line x1="251.80" y1="84.90" x2="251.80" y2="87.30" stroke="#222" stroke-width="0.6" />
<text x="241.80" y="83.70" font-size="6.5" text-anchor="middle" font-weight="normal" font-style="normal" fill="#111"  stroke="#111" stroke-width="0.16">0.9</text>
<text x="281.95" y="73.10" font-size="7.9" text-anchor="middle" font-weight="normal" font-style="normal" fill="#111"  stroke="#111" stroke-width="0.16">DP</text>
<clipPath id="cb11"><rect x="259.7" y="76.1" width="44.5" height="32.2"/></clipPath>
<g clip-path="url(#cb11)">
<path d="M259.70 108.40 L259.70 107.46 L260.19 107.36 L260.69 107.23 L261.18 107.10 L261.68 106.87 L262.17 106.75 L262.67 106.50 L263.16 106.28 L263.66 106.06 L264.15 105.77 L264.64 105.32 L265.14 104.99 L265.63 104.60 L266.13 104.11 L266.62 103.84 L267.12 103.13 L267.61 102.52 L268.11 102.08 L268.60 101.28 L269.09 100.27 L269.59 99.75 L270.08 98.59 L270.58 97.97 L271.07 96.57 L271.57 95.71 L272.06 94.29 L272.56 93.09 L273.05 91.19 L273.54 89.80 L274.04 88.49 L274.53 86.62 L275.03 85.27 L275.52 83.00 L276.02 82.13 L276.51 80.01 L277.01 78.46 L277.50 78.71 L277.99 81.42 L278.49 84.00 L278.98 86.43 L279.48 90.05 L279.97 92.44 L280.47 95.39 L280.96 97.50 L281.46 99.66 L281.95 101.37 L282.44 102.59 L282.94 103.08 L283.43 102.67 L283.93 102.20 L284.42 102.28 L284.92 103.53 L285.41 105.05 L285.91 106.36 L286.40 107.36 L286.89 107.88 L287.39 108.10 L287.88 108.22 L288.38 108.28 L288.87 108.31 L289.37 108.34 L289.86 108.36 L290.36 108.37 L290.85 108.38 L291.34 108.39 L291.84 108.39 L292.33 108.40 L292.83 108.40 L293.32 108.40 L293.82 108.40 L294.31 108.40 L294.81 108.40 L295.30 108.40 L295.79 108.40 L296.29 108.40 L296.78 108.40 L297.28 108.40 L297.77 108.40 L298.27 108.40 L298.76 108.40 L299.26 108.40 L299.75 108.40 L300.24 108.40 L300.74 108.40 L301.23 108.40 L301.73 108.40 L302.22 108.40 L302.72 108.40 L303.21 108.40 L303.71 108.40 L304.20 108.40 L304.20 108.40 Z" fill="#f5c3cb" stroke="#d9344f" stroke-width="0.6" stroke-linejoin="round" fill-opacity="1.0"/>
<path d="M259.70 108.40 L259.70 107.89 L260.19 107.80 L260.69 107.73 L261.18 107.64 L261.68 107.51 L262.17 107.40 L262.67 107.24 L263.16 107.05 L263.66 106.86 L264.15 106.64 L264.64 106.43 L265.14 106.20 L265.63 105.89 L266.13 105.50 L266.62 105.14 L267.12 104.62 L267.61 104.21 L268.11 103.52 L268.60 102.95 L269.09 102.25 L269.59 101.46 L270.08 100.71 L270.58 99.84 L271.07 98.91 L271.57 97.98 L272.06 96.29 L272.56 95.19 L273.05 94.14 L273.54 91.86 L274.04 90.56 L274.53 88.79 L275.03 87.22 L275.52 85.79 L276.02 82.62 L276.51 82.02 L277.01 79.95 L277.50 77.46 L277.99 80.67 L278.49 82.84 L278.98 86.09 L279.48 89.65 L279.97 92.12 L280.47 95.47 L280.96 98.26 L281.46 100.15 L281.95 102.15 L282.44 103.39 L282.94 104.57 L283.43 105.52 L283.93 106.38 L284.42 106.87 L284.92 107.32 L285.41 107.62 L285.91 107.85 L286.40 108.02 L286.89 108.14 L287.39 108.22 L287.88 108.28 L288.38 108.31 L288.87 108.35 L289.37 108.36 L289.86 108.38 L290.36 108.38 L290.85 108.39 L291.34 108.39 L291.84 108.40 L292.33 108.40 L292.83 108.40 L293.32 108.40 L293.82 108.40 L294.31 108.40 L294.81 108.40 L295.30 108.40 L295.79 108.40 L296.29 108.40 L296.78 108.40 L297.28 108.40 L297.77 108.40 L298.27 108.40 L298.76 108.40 L299.26 108.40 L299.75 108.40 L300.24 108.40 L300.74 108.40 L301.23 108.40 L301.73 108.40 L302.22 108.40 L302.72 108.40 L303.21 108.40 L303.71 108.40 L304.20 108.40 L304.20 108.40 Z" fill="#92aac6" stroke="#34679a" stroke-width="0.6" stroke-linejoin="round" fill-opacity="0.96"/>
</g>
<rect x="259.70" y="76.10" width="44.50" height="32.20" fill="none" stroke="#111" stroke-width="0.8" />
<line x1="261.70" y1="108.30" x2="261.70" y2="109.50" stroke="#333" stroke-width="0.4" />
<line x1="271.90" y1="108.30" x2="271.90" y2="109.50" stroke="#333" stroke-width="0.4" />
<line x1="282.10" y1="108.30" x2="282.10" y2="109.50" stroke="#333" stroke-width="0.4" />
<line x1="292.30" y1="108.30" x2="292.30" y2="109.50" stroke="#333" stroke-width="0.4" />
<line x1="302.50" y1="108.30" x2="302.50" y2="109.50" stroke="#333" stroke-width="0.4" />
<line x1="258.70" y1="108.30" x2="259.70" y2="108.30" stroke="#333" stroke-width="0.4" />
<line x1="258.70" y1="100.30" x2="259.70" y2="100.30" stroke="#333" stroke-width="0.4" />
<line x1="258.70" y1="92.30" x2="259.70" y2="92.30" stroke="#333" stroke-width="0.4" />
<line x1="258.70" y1="84.30" x2="259.70" y2="84.30" stroke="#333" stroke-width="0.4" />
<line x1="284.90" y1="86.10" x2="303.90" y2="86.10" stroke="#222" stroke-width="0.6" />
<line x1="284.90" y1="84.90" x2="284.90" y2="87.30" stroke="#222" stroke-width="0.6" />
<line x1="303.90" y1="84.90" x2="303.90" y2="87.30" stroke="#222" stroke-width="0.6" />
<text x="293.90" y="83.70" font-size="6.5" text-anchor="middle" font-weight="normal" font-style="normal" fill="#111"  stroke="#111" stroke-width="0.16">1</text>
<text x="333.95" y="73.10" font-size="7.9" text-anchor="middle" font-weight="normal" font-style="normal" fill="#111"  stroke="#111" stroke-width="0.16">SP4</text>
<clipPath id="cb12"><rect x="311.7" y="76.1" width="44.5" height="32.2"/></clipPath>
<g clip-path="url(#cb12)">
<path d="M311.70 108.40 L311.70 107.80 L312.19 107.74 L312.69 107.66 L313.18 107.56 L313.68 107.46 L314.17 107.33 L314.67 107.16 L315.16 107.00 L315.66 106.86 L316.15 106.67 L316.64 106.47 L317.14 106.22 L317.63 105.90 L318.13 105.64 L318.62 105.19 L319.12 104.88 L319.61 104.52 L320.11 104.04 L320.60 103.66 L321.09 102.89 L321.59 102.27 L322.08 101.75 L322.58 100.87 L323.07 100.28 L323.57 99.45 L324.06 98.52 L324.56 97.54 L325.05 96.16 L325.54 94.93 L326.04 93.57 L326.53 92.80 L327.03 90.69 L327.52 89.47 L328.02 88.00 L328.51 86.19 L329.01 84.58 L329.50 83.23 L329.99 81.24 L330.49 79.21 L330.98 77.76 L331.48 78.70 L331.97 82.73 L332.47 85.05 L332.96 88.66 L333.46 92.09 L333.95 94.91 L334.44 98.10 L334.94 99.80 L335.43 101.17 L335.93 102.10 L336.42 101.89 L336.92 101.62 L337.41 102.34 L337.91 103.43 L338.40 105.10 L338.89 106.60 L339.39 107.50 L339.88 107.94 L340.38 108.13 L340.87 108.24 L341.37 108.29 L341.86 108.33 L342.36 108.35 L342.85 108.37 L343.34 108.38 L343.84 108.39 L344.33 108.39 L344.83 108.40 L345.32 108.40 L345.82 108.40 L346.31 108.40 L346.81 108.40 L347.30 108.40 L347.79 108.40 L348.29 108.40 L348.78 108.40 L349.28 108.40 L349.77 108.40 L350.27 108.40 L350.76 108.40 L351.26 108.40 L351.75 108.40 L352.24 108.40 L352.74 108.40 L353.23 108.40 L353.73 108.40 L354.22 108.40 L354.72 108.40 L355.21 108.40 L355.71 108.40 L356.20 108.40 L356.20 108.40 Z" fill="#f5c3cb" stroke="#d9344f" stroke-width="0.6" stroke-linejoin="round" fill-opacity="1.0"/>
<path d="M311.70 108.40 L311.70 107.92 L312.19 107.85 L312.69 107.74 L313.18 107.66 L313.68 107.55 L314.17 107.46 L314.67 107.36 L315.16 107.20 L315.66 107.07 L316.15 106.81 L316.64 106.67 L317.14 106.45 L317.63 106.11 L318.13 105.93 L318.62 105.50 L319.12 105.25 L319.61 104.79 L320.11 104.48 L320.60 103.80 L321.09 103.40 L321.59 102.84 L322.08 102.08 L322.58 101.38 L323.07 100.75 L323.57 99.97 L324.06 98.80 L324.56 98.13 L325.05 96.46 L325.54 95.65 L326.04 94.53 L326.53 93.03 L327.03 91.80 L327.52 90.05 L328.02 88.16 L328.51 86.62 L329.01 84.98 L329.50 83.28 L329.99 81.21 L330.49 79.04 L330.98 78.27 L331.48 79.04 L331.97 82.53 L332.47 86.51 L332.96 89.94 L333.46 92.63 L333.95 96.01 L334.44 98.70 L334.94 100.84 L335.43 102.54 L335.93 104.13 L336.42 105.26 L336.92 106.12 L337.41 106.80 L337.91 107.23 L338.40 107.59 L338.89 107.84 L339.39 108.02 L339.88 108.14 L340.38 108.23 L340.87 108.29 L341.37 108.32 L341.86 108.35 L342.36 108.37 L342.85 108.38 L343.34 108.39 L343.84 108.39 L344.33 108.40 L344.83 108.40 L345.32 108.40 L345.82 108.40 L346.31 108.40 L346.81 108.40 L347.30 108.40 L347.79 108.40 L348.29 108.40 L348.78 108.40 L349.28 108.40 L349.77 108.40 L350.27 108.40 L350.76 108.40 L351.26 108.40 L351.75 108.40 L352.24 108.40 L352.74 108.40 L353.23 108.40 L353.73 108.40 L354.22 108.40 L354.72 108.40 L355.21 108.40 L355.71 108.40 L356.20 108.40 L356.20 108.40 Z" fill="#92aac6" stroke="#34679a" stroke-width="0.6" stroke-linejoin="round" fill-opacity="0.96"/>
</g>
<rect x="311.70" y="76.10" width="44.50" height="32.20" fill="none" stroke="#111" stroke-width="0.8" />
<line x1="313.70" y1="108.30" x2="313.70" y2="109.50" stroke="#333" stroke-width="0.4" />
<line x1="323.90" y1="108.30" x2="323.90" y2="109.50" stroke="#333" stroke-width="0.4" />
<line x1="334.10" y1="108.30" x2="334.10" y2="109.50" stroke="#333" stroke-width="0.4" />
<line x1="344.30" y1="108.30" x2="344.30" y2="109.50" stroke="#333" stroke-width="0.4" />
<line x1="354.50" y1="108.30" x2="354.50" y2="109.50" stroke="#333" stroke-width="0.4" />
<line x1="310.70" y1="108.30" x2="311.70" y2="108.30" stroke="#333" stroke-width="0.4" />
<line x1="310.70" y1="100.30" x2="311.70" y2="100.30" stroke="#333" stroke-width="0.4" />
<line x1="310.70" y1="92.30" x2="311.70" y2="92.30" stroke="#333" stroke-width="0.4" />
<line x1="310.70" y1="84.30" x2="311.70" y2="84.30" stroke="#333" stroke-width="0.4" />
<line x1="336.90" y1="86.10" x2="355.90" y2="86.10" stroke="#222" stroke-width="0.6" />
<line x1="336.90" y1="84.90" x2="336.90" y2="87.30" stroke="#222" stroke-width="0.6" />
<line x1="355.90" y1="84.90" x2="355.90" y2="87.30" stroke="#222" stroke-width="0.6" />
<text x="345.90" y="83.70" font-size="6.5" text-anchor="middle" font-weight="normal" font-style="normal" fill="#111"  stroke="#111" stroke-width="0.16">1</text>
<text x="386.05" y="73.10" font-size="7.9" text-anchor="middle" font-weight="normal" font-style="normal" fill="#111"  stroke="#111" stroke-width="0.16">SP8</text>
<clipPath id="cb13"><rect x="363.8" y="76.1" width="44.5" height="32.2"/></clipPath>
<g clip-path="url(#cb13)">
<path d="M363.80 108.40 L363.80 108.11 L364.29 108.05 L364.79 108.01 L365.28 107.94 L365.78 107.86 L366.27 107.80 L366.77 107.69 L367.26 107.59 L367.76 107.47 L368.25 107.33 L368.74 107.18 L369.24 107.06 L369.73 106.85 L370.23 106.59 L370.72 106.29 L371.22 106.10 L371.71 105.73 L372.21 105.45 L372.70 104.91 L373.19 104.55 L373.69 104.02 L374.18 103.42 L374.68 102.97 L375.17 102.07 L375.67 101.26 L376.16 100.37 L376.66 99.72 L377.15 98.74 L377.64 97.69 L378.14 95.96 L378.63 94.99 L379.13 93.62 L379.62 91.97 L380.12 90.16 L380.61 88.88 L381.11 87.08 L381.60 84.65 L382.09 82.75 L382.59 81.68 L383.08 80.45 L383.58 78.53 L384.07 80.38 L384.57 82.64 L385.06 85.23 L385.56 86.94 L386.05 90.01 L386.54 92.54 L387.04 94.78 L387.53 96.53 L388.03 98.04 L388.52 99.40 L389.02 99.67 L389.51 99.78 L390.01 99.66 L390.50 99.91 L390.99 101.24 L391.49 103.14 L391.98 104.97 L392.48 106.23 L392.97 106.97 L393.47 107.37 L393.96 107.65 L394.46 107.81 L394.95 107.96 L395.44 108.05 L395.94 108.15 L396.43 108.21 L396.93 108.26 L397.42 108.29 L397.92 108.32 L398.41 108.34 L398.91 108.36 L399.40 108.37 L399.89 108.38 L400.39 108.38 L400.88 108.39 L401.38 108.39 L401.87 108.39 L402.37 108.40 L402.86 108.40 L403.36 108.40 L403.85 108.40 L404.34 108.40 L404.84 108.40 L405.33 108.40 L405.83 108.40 L406.32 108.40 L406.82 108.40 L407.31 108.40 L407.81 108.40 L408.30 108.40 L408.30 108.40 Z" fill="#f5c3cb" stroke="#d9344f" stroke-width="0.6" stroke-linejoin="round" fill-opacity="1.0"/>
<path d="M363.80 108.40 L363.80 108.24 L364.29 108.21 L364.79 108.18 L365.28 108.14 L365.78 108.10 L366.27 108.06 L366.77 108.01 L367.26 107.93 L367.76 107.85 L368.25 107.76 L368.74 107.66 L369.24 107.56 L369.73 107.43 L370.23 107.27 L370.72 107.09 L371.22 106.82 L371.71 106.61 L372.21 106.38 L372.70 106.01 L373.19 105.67 L373.69 105.38 L374.18 104.79 L374.68 104.41 L375.17 103.64 L375.67 103.25 L376.16 102.50 L376.66 101.73 L377.15 100.58 L377.64 99.60 L378.14 98.63 L378.63 97.72 L379.13 96.24 L379.62 94.60 L380.12 93.64 L380.61 91.17 L381.11 89.47 L381.60 87.50 L382.09 85.87 L382.59 84.06 L383.08 81.66 L383.58 81.23 L384.07 81.98 L384.57 84.66 L385.06 87.45 L385.56 89.77 L386.05 93.44 L386.54 95.61 L387.04 98.29 L387.53 100.14 L388.03 101.98 L388.52 103.48 L389.02 104.62 L389.51 105.70 L390.01 106.37 L390.50 106.90 L390.99 107.31 L391.49 107.61 L391.98 107.83 L392.48 108.01 L392.97 108.12 L393.47 108.21 L393.96 108.28 L394.46 108.32 L394.95 108.34 L395.44 108.36 L395.94 108.38 L396.43 108.38 L396.93 108.39 L397.42 108.39 L397.92 108.40 L398.41 108.40 L398.91 108.40 L399.40 108.40 L399.89 108.40 L400.39 108.40 L400.88 108.40 L401.38 108.40 L401.87 108.40 L402.37 108.40 L402.86 108.40 L403.36 108.40 L403.85 108.40 L404.34 108.40 L404.84 108.40 L405.33 108.40 L405.83 108.40 L406.32 108.40 L406.82 108.40 L407.31 108.40 L407.81 108.40 L408.30 108.40 L408.30 108.40 Z" fill="#92aac6" stroke="#34679a" stroke-width="0.6" stroke-linejoin="round" fill-opacity="0.96"/>
</g>
<rect x="363.80" y="76.10" width="44.50" height="32.20" fill="none" stroke="#111" stroke-width="0.8" />
<line x1="365.80" y1="108.30" x2="365.80" y2="109.50" stroke="#333" stroke-width="0.4" />
<line x1="376.00" y1="108.30" x2="376.00" y2="109.50" stroke="#333" stroke-width="0.4" />
<line x1="386.20" y1="108.30" x2="386.20" y2="109.50" stroke="#333" stroke-width="0.4" />
<line x1="396.40" y1="108.30" x2="396.40" y2="109.50" stroke="#333" stroke-width="0.4" />
<line x1="406.60" y1="108.30" x2="406.60" y2="109.50" stroke="#333" stroke-width="0.4" />
<line x1="362.80" y1="108.30" x2="363.80" y2="108.30" stroke="#333" stroke-width="0.4" />
<line x1="362.80" y1="100.30" x2="363.80" y2="100.30" stroke="#333" stroke-width="0.4" />
<line x1="362.80" y1="92.30" x2="363.80" y2="92.30" stroke="#333" stroke-width="0.4" />
<line x1="362.80" y1="84.30" x2="363.80" y2="84.30" stroke="#333" stroke-width="0.4" />
<line x1="389.00" y1="86.10" x2="408.00" y2="86.10" stroke="#222" stroke-width="0.6" />
<line x1="389.00" y1="84.90" x2="389.00" y2="87.30" stroke="#222" stroke-width="0.6" />
<line x1="408.00" y1="84.90" x2="408.00" y2="87.30" stroke="#222" stroke-width="0.6" />
<text x="398.00" y="83.70" font-size="6.5" text-anchor="middle" font-weight="normal" font-style="normal" fill="#111"  stroke="#111" stroke-width="0.16">0.4</text>
<text x="437.95" y="73.10" font-size="7.9" text-anchor="middle" font-weight="normal" font-style="normal" fill="#111"  stroke="#111" stroke-width="0.16">EC</text>
<clipPath id="cb14"><rect x="415.7" y="76.1" width="44.5" height="32.2"/></clipPath>
<g clip-path="url(#cb14)">
<path d="M415.70 108.40 L415.70 108.07 L416.19 107.89 L416.69 107.68 L417.18 107.37 L417.68 106.85 L418.17 106.32 L418.67 105.69 L419.16 104.75 L419.66 103.52 L420.15 100.95 L420.64 96.01 L421.14 88.46 L421.63 79.05 L422.13 77.36 L422.62 82.42 L423.12 89.42 L423.61 91.96 L424.11 88.62 L424.60 81.99 L425.09 75.47 L425.59 74.46 L426.08 77.09 L426.58 86.05 L427.07 93.94 L427.57 98.35 L428.06 100.35 L428.56 99.97 L429.05 99.02 L429.54 99.18 L430.04 101.22 L430.53 101.14 L431.03 99.48 L431.52 98.56 L432.02 99.34 L432.51 100.86 L433.01 101.78 L433.50 99.43 L433.99 97.67 L434.49 97.99 L434.98 100.10 L435.48 100.52 L435.97 99.16 L436.47 96.52 L436.96 96.93 L437.46 98.43 L437.95 99.88 L438.44 98.78 L438.94 96.29 L439.43 96.75 L439.93 98.90 L440.42 100.95 L440.92 99.68 L441.41 98.00 L441.91 98.07 L442.40 100.87 L442.89 102.46 L443.39 103.39 L443.88 103.20 L444.38 104.52 L444.87 106.42 L445.37 107.47 L445.86 107.87 L446.36 108.06 L446.85 108.22 L447.34 108.31 L447.84 108.37 L448.33 108.38 L448.83 108.39 L449.32 108.39 L449.82 108.40 L450.31 108.40 L450.81 108.40 L451.30 108.40 L451.79 108.40 L452.29 108.40 L452.78 108.40 L453.28 108.40 L453.77 108.40 L454.27 108.40 L454.76 108.40 L455.26 108.40 L455.75 108.40 L456.24 108.40 L456.74 108.40 L457.23 108.40 L457.73 108.40 L458.22 108.40 L458.72 108.40 L459.21 108.40 L459.71 108.40 L460.20 108.40 L460.20 108.40 Z" fill="#5f8ab4" stroke="#34679a" stroke-width="0.8" stroke-linejoin="round" fill-opacity="1.0"/>
<path d="M415.70 108.40 L415.70 108.13 L416.19 107.92 L416.69 107.68 L417.18 107.19 L417.68 106.67 L418.17 105.78 L418.67 104.76 L419.16 103.72 L419.66 101.58 L420.15 98.66 L420.64 92.85 L421.14 83.98 L421.63 73.10 L422.13 71.40 L422.62 77.69 L423.12 83.33 L423.61 87.85 L424.11 85.45 L424.60 82.10 L425.09 78.78 L425.59 79.56 L426.08 87.14 L426.58 94.76 L427.07 99.56 L427.57 101.96 L428.06 103.52 L428.56 104.00 L429.05 104.80 L429.54 104.84 L430.04 105.18 L430.53 105.34 L431.03 105.70 L431.52 106.02 L432.02 106.26 L432.51 106.46 L433.01 106.86 L433.50 107.13 L433.99 107.33 L434.49 107.57 L434.98 107.79 L435.48 107.97 L435.97 108.11 L436.47 108.20 L436.96 108.27 L437.46 108.32 L437.95 108.35 L438.44 108.37 L438.94 108.39 L439.43 108.39 L439.93 108.40 L440.42 108.40 L440.92 108.40 L441.41 108.40 L441.91 108.40 L442.40 108.40 L442.89 108.40 L443.39 108.40 L443.88 108.40 L444.38 108.40 L444.87 108.40 L445.37 108.40 L445.86 108.40 L446.36 108.40 L446.85 108.40 L447.34 108.40 L447.84 108.40 L448.33 108.40 L448.83 108.40 L449.32 108.40 L449.82 108.40 L450.31 108.40 L450.81 108.40 L451.30 108.40 L451.79 108.40 L452.29 108.40 L452.78 108.40 L453.28 108.40 L453.77 108.40 L454.27 108.40 L454.76 108.40 L455.26 108.40 L455.75 108.40 L456.24 108.40 L456.74 108.40 L457.23 108.40 L457.73 108.40 L458.22 108.40 L458.72 108.40 L459.21 108.40 L459.71 108.40 L460.20 108.40 L460.20 108.40 Z" fill="#f5c3cb" stroke="#d9344f" stroke-width="0.8" stroke-linejoin="round" fill-opacity="0.78"/>
</g>
<rect x="415.70" y="76.10" width="44.50" height="32.20" fill="none" stroke="#111" stroke-width="0.8" />
<line x1="417.70" y1="108.30" x2="417.70" y2="109.50" stroke="#333" stroke-width="0.4" />
<line x1="427.90" y1="108.30" x2="427.90" y2="109.50" stroke="#333" stroke-width="0.4" />
<line x1="438.10" y1="108.30" x2="438.10" y2="109.50" stroke="#333" stroke-width="0.4" />
<line x1="448.30" y1="108.30" x2="448.30" y2="109.50" stroke="#333" stroke-width="0.4" />
<line x1="458.50" y1="108.30" x2="458.50" y2="109.50" stroke="#333" stroke-width="0.4" />
<line x1="414.70" y1="108.30" x2="415.70" y2="108.30" stroke="#333" stroke-width="0.4" />
<line x1="414.70" y1="100.30" x2="415.70" y2="100.30" stroke="#333" stroke-width="0.4" />
<line x1="414.70" y1="92.30" x2="415.70" y2="92.30" stroke="#333" stroke-width="0.4" />
<line x1="414.70" y1="84.30" x2="415.70" y2="84.30" stroke="#333" stroke-width="0.4" />
<line x1="431.30" y1="85.60" x2="450.80" y2="85.60" stroke="#222" stroke-width="0.6" />
<line x1="431.30" y1="84.40" x2="431.30" y2="86.80" stroke="#222" stroke-width="0.6" />
<line x1="450.80" y1="84.40" x2="450.80" y2="86.80" stroke="#222" stroke-width="0.6" />
<text x="441.00" y="83.20" font-size="6.5" text-anchor="middle" font-weight="normal" font-style="normal" fill="#111"  stroke="#111" stroke-width="0.16">30</text>
<text x="490.25" y="73.10" font-size="7.9" text-anchor="middle" font-weight="normal" font-style="normal" fill="#111"  stroke="#111" stroke-width="0.16">Fibro</text>
<clipPath id="cb15"><rect x="468.0" y="76.1" width="44.5" height="32.2"/></clipPath>
<g clip-path="url(#cb15)">
<path d="M468.00 108.40 L468.00 108.36 L468.49 108.33 L468.99 108.27 L469.48 108.18 L469.98 108.04 L470.47 107.84 L470.97 107.61 L471.46 107.30 L471.96 106.94 L472.45 106.40 L472.94 106.05 L473.44 105.35 L473.93 104.98 L474.43 104.15 L474.92 103.18 L475.42 101.66 L475.91 100.20 L476.41 97.64 L476.90 94.07 L477.39 92.34 L477.89 88.80 L478.38 85.83 L478.88 85.24 L479.37 79.15 L479.87 74.37 L480.36 67.19 L480.86 69.94 L481.35 76.18 L481.84 86.29 L482.34 95.28 L482.83 99.96 L483.33 103.36 L483.82 105.66 L484.32 106.97 L484.81 107.72 L485.31 108.12 L485.80 108.29 L486.29 108.37 L486.79 108.39 L487.28 108.40 L487.78 108.40 L488.27 108.40 L488.77 108.40 L489.26 108.40 L489.76 108.40 L490.25 108.40 L490.74 108.40 L491.24 108.40 L491.73 108.40 L492.23 108.40 L492.72 108.40 L493.22 108.40 L493.71 108.40 L494.21 108.40 L494.70 108.40 L495.19 108.40 L495.69 108.40 L496.18 108.40 L496.68 108.40 L497.17 108.40 L497.67 108.40 L498.16 108.40 L498.66 108.40 L499.15 108.40 L499.64 108.40 L500.14 108.40 L500.63 108.40 L501.13 108.40 L501.62 108.40 L502.12 108.40 L502.61 108.40 L503.11 108.40 L503.60 108.40 L504.09 108.40 L504.59 108.40 L505.08 108.40 L505.58 108.40 L506.07 108.40 L506.57 108.40 L507.06 108.40 L507.56 108.40 L508.05 108.40 L508.54 108.40 L509.04 108.40 L509.53 108.40 L510.03 108.40 L510.52 108.40 L511.02 108.40 L511.51 108.40 L512.01 108.40 L512.50 108.40 L512.50 108.40 Z" fill="#f5c3cb" stroke="#d9344f" stroke-width="0.8" stroke-linejoin="round" fill-opacity="1.0"/>
<path d="M468.00 108.40 L468.00 108.40 L468.49 108.40 L468.99 108.40 L469.48 108.40 L469.98 108.40 L470.47 108.40 L470.97 108.40 L471.46 108.40 L471.96 108.40 L472.45 108.40 L472.94 108.40 L473.44 108.40 L473.93 108.40 L474.43 108.40 L474.92 108.40 L475.42 108.40 L475.91 108.40 L476.41 108.40 L476.90 108.40 L477.39 108.40 L477.89 108.40 L478.38 108.40 L478.88 108.39 L479.37 108.38 L479.87 108.33 L480.36 108.25 L480.86 108.09 L481.35 107.87 L481.84 107.61 L482.34 107.30 L482.83 107.17 L483.33 106.99 L483.82 106.86 L484.32 105.52 L484.81 99.69 L485.31 88.84 L485.80 82.24 L486.29 81.41 L486.79 77.46 L487.28 78.48 L487.78 80.62 L488.27 80.61 L488.77 76.65 L489.26 78.48 L489.76 80.40 L490.25 79.40 L490.74 77.19 L491.24 78.71 L491.73 79.45 L492.23 79.84 L492.72 79.22 L493.22 82.47 L493.71 88.98 L494.21 94.21 L494.70 99.83 L495.19 104.77 L495.69 106.79 L496.18 107.70 L496.68 108.13 L497.17 108.30 L497.67 108.36 L498.16 108.38 L498.66 108.39 L499.15 108.40 L499.64 108.40 L500.14 108.40 L500.63 108.40 L501.13 108.40 L501.62 108.40 L502.12 108.40 L502.61 108.40 L503.11 108.40 L503.60 108.40 L504.09 108.40 L504.59 108.40 L505.08 108.40 L505.58 108.40 L506.07 108.40 L506.57 108.40 L507.06 108.40 L507.56 108.40 L508.05 108.40 L508.54 108.40 L509.04 108.40 L509.53 108.40 L510.03 108.40 L510.52 108.40 L511.02 108.40 L511.51 108.40 L512.01 108.40 L512.50 108.40 L512.50 108.40 Z" fill="#4f7dab" stroke="#34679a" stroke-width="0.8" stroke-linejoin="round" fill-opacity="0.96"/>
</g>
<rect x="468.00" y="76.10" width="44.50" height="32.20" fill="none" stroke="#111" stroke-width="0.8" />
<line x1="470.00" y1="108.30" x2="470.00" y2="109.50" stroke="#333" stroke-width="0.4" />
<line x1="480.20" y1="108.30" x2="480.20" y2="109.50" stroke="#333" stroke-width="0.4" />
<line x1="490.40" y1="108.30" x2="490.40" y2="109.50" stroke="#333" stroke-width="0.4" />
<line x1="500.60" y1="108.30" x2="500.60" y2="109.50" stroke="#333" stroke-width="0.4" />
<line x1="510.80" y1="108.30" x2="510.80" y2="109.50" stroke="#333" stroke-width="0.4" />
<line x1="467.00" y1="108.30" x2="468.00" y2="108.30" stroke="#333" stroke-width="0.4" />
<line x1="467.00" y1="100.30" x2="468.00" y2="100.30" stroke="#333" stroke-width="0.4" />
<line x1="467.00" y1="92.30" x2="468.00" y2="92.30" stroke="#333" stroke-width="0.4" />
<line x1="467.00" y1="84.30" x2="468.00" y2="84.30" stroke="#333" stroke-width="0.4" />
<line x1="484.30" y1="85.60" x2="502.80" y2="85.60" stroke="#222" stroke-width="0.6" />
<line x1="484.30" y1="84.40" x2="484.30" y2="86.80" stroke="#222" stroke-width="0.6" />
<line x1="502.80" y1="84.40" x2="502.80" y2="86.80" stroke="#222" stroke-width="0.6" />
<text x="498.20" y="83.20" font-size="6.5" text-anchor="middle" font-weight="normal" font-style="normal" fill="#111"  stroke="#111" stroke-width="0.16">94</text>
<text x="205.90" y="116.80" font-size="7.0" text-anchor="start" font-weight="normal" font-style="normal" fill="#111"  stroke="#111" stroke-width="0.16">GPR39</text>
<line x1="232.30" y1="114.40" x2="241.50" y2="114.40" stroke="#111" stroke-width="0.9" />
<path d="M240.2 112.2 L244.6 114.4 L240.2 116.6 Z" fill="#111"/>
<text x="72.50" y="143.60" font-size="11.5" text-anchor="start" font-weight="bold" font-style="normal" fill="#000" >C</text>
<text x="105.25" y="158.70" font-size="8.8" text-anchor="middle" font-weight="normal" font-style="normal" fill="#111"  stroke="#111" stroke-width="0.16">cTEC</text>
<clipPath id="cc0"><rect x="80.8" y="161.0" width="48.9" height="64.0"/></clipPath>
<g clip-path="url(#cc0)">
<path d="M80.80 182.78 L80.80 180.66 L81.34 182.38 L81.89 182.78 L82.43 182.78 L82.97 182.78 L83.52 182.78 L84.06 182.78 L84.60 182.78 L85.15 182.78 L85.69 182.78 L86.23 182.77 L86.78 182.77 L87.32 182.77 L87.86 182.76 L88.41 182.75 L88.95 182.74 L89.49 182.73 L90.04 182.72 L90.58 182.70 L91.12 182.67 L91.67 182.65 L92.21 182.61 L92.75 182.57 L93.30 182.52 L93.84 182.44 L94.38 182.38 L94.93 182.31 L95.47 182.19 L96.01 182.11 L96.56 182.00 L97.10 181.90 L97.64 181.80 L98.19 181.68 L98.73 181.52 L99.27 181.45 L99.82 181.28 L100.36 181.22 L100.90 181.05 L101.45 181.01 L101.99 180.84 L102.53 180.70 L103.08 180.46 L103.62 180.06 L104.16 179.63 L104.71 178.99 L105.25 178.33 L105.79 177.45 L106.34 176.52 L106.88 175.37 L107.42 174.95 L107.97 174.18 L108.51 173.57 L109.05 173.56 L109.60 173.73 L110.14 173.38 L110.68 173.88 L111.23 173.73 L111.77 173.43 L112.31 172.48 L112.86 171.15 L113.40 170.20 L113.94 168.67 L114.49 166.69 L115.03 166.11 L115.57 165.25 L116.12 163.99 L116.66 164.96 L117.20 165.94 L117.75 168.29 L118.29 170.19 L118.83 172.41 L119.38 174.88 L119.92 176.94 L120.46 178.50 L121.01 179.82 L121.55 180.90 L122.09 181.58 L122.64 182.04 L123.18 182.35 L123.72 182.54 L124.27 182.65 L124.81 182.72 L125.35 182.75 L125.90 182.77 L126.44 182.78 L126.98 182.78 L127.53 182.78 L128.07 182.78 L128.61 182.78 L129.16 182.78 L129.70 182.78 L129.70 182.78 Z" fill="#e58c9e" stroke="#d8506a" stroke-width="0.7"/>
<path d="M80.80 204.12 L80.80 204.12 L81.34 204.12 L81.89 204.12 L82.43 204.12 L82.97 204.12 L83.52 204.12 L84.06 204.12 L84.60 204.12 L85.15 204.12 L85.69 204.12 L86.23 204.11 L86.78 204.11 L87.32 204.11 L87.86 204.11 L88.41 204.10 L88.95 204.10 L89.49 204.09 L90.04 204.08 L90.58 204.07 L91.12 204.06 L91.67 204.04 L92.21 204.01 L92.75 203.99 L93.30 203.96 L93.84 203.91 L94.38 203.87 L94.93 203.81 L95.47 203.76 L96.01 203.69 L96.56 203.63 L97.10 203.55 L97.64 203.49 L98.19 203.43 L98.73 203.35 L99.27 203.30 L99.82 203.26 L100.36 203.19 L100.90 203.13 L101.45 203.02 L101.99 202.86 L102.53 202.67 L103.08 202.46 L103.62 202.20 L104.16 201.83 L104.71 201.43 L105.25 201.01 L105.79 200.60 L106.34 200.48 L106.88 200.23 L107.42 200.21 L107.97 200.21 L108.51 200.26 L109.05 200.42 L109.60 200.34 L110.14 200.26 L110.68 199.89 L111.23 199.34 L111.77 198.86 L112.31 197.86 L112.86 196.87 L113.40 195.88 L113.94 194.59 L114.49 192.84 L115.03 191.68 L115.57 190.30 L116.12 188.71 L116.66 187.06 L117.20 186.04 L117.75 185.95 L118.29 187.25 L118.83 189.47 L119.38 191.85 L119.92 194.53 L120.46 197.29 L121.01 199.22 L121.55 200.95 L122.09 202.06 L122.64 202.90 L123.18 203.46 L123.72 203.76 L124.27 203.94 L124.81 204.03 L125.35 204.08 L125.90 204.10 L126.44 204.11 L126.98 204.11 L127.53 204.12 L128.07 204.12 L128.61 204.12 L129.16 204.12 L129.70 204.12 L129.70 204.12 Z" fill="#86a9cc" stroke="#4a7aaa" stroke-width="0.7"/>
<path d="M80.80 225.10 L80.80 225.10 L81.34 225.10 L81.89 225.10 L82.43 225.10 L82.97 225.10 L83.52 225.10 L84.06 225.10 L84.60 225.10 L85.15 225.10 L85.69 225.10 L86.23 225.10 L86.78 225.10 L87.32 225.10 L87.86 225.10 L88.41 225.10 L88.95 225.10 L89.49 225.10 L90.04 225.10 L90.58 225.10 L91.12 225.10 L91.67 225.10 L92.21 225.10 L92.75 225.10 L93.30 225.10 L93.84 225.10 L94.38 225.10 L94.93 225.10 L95.47 225.10 L96.01 225.10 L96.56 225.10 L97.10 225.09 L97.64 225.09 L98.19 225.07 L98.73 225.06 L99.27 225.04 L99.82 225.00 L100.36 224.95 L100.90 224.88 L101.45 224.80 L101.99 224.69 L102.53 224.58 L103.08 224.42 L103.62 224.30 L104.16 224.08 L104.71 223.94 L105.25 223.72 L105.79 223.54 L106.34 223.25 L106.88 223.01 L107.42 222.61 L107.97 222.20 L108.51 221.50 L109.05 220.73 L109.60 219.94 L110.14 218.58 L110.68 217.09 L111.23 215.88 L111.77 214.23 L112.31 211.91 L112.86 210.09 L113.40 209.28 L113.94 207.34 L114.49 206.30 L115.03 206.76 L115.57 206.54 L116.12 208.54 L116.66 210.93 L117.20 214.96 L117.75 218.75 L118.29 221.73 L118.83 223.45 L119.38 224.41 L119.92 224.85 L120.46 225.02 L121.01 225.08 L121.55 225.09 L122.09 225.10 L122.64 225.10 L123.18 225.10 L123.72 225.10 L124.27 225.10 L124.81 225.10 L125.35 225.10 L125.90 225.10 L126.44 225.10 L126.98 225.10 L127.53 225.10 L128.07 225.10 L128.61 225.10 L129.16 225.10 L129.70 225.10 L129.70 225.10 Z" fill="#f9cc84" stroke="#f2a63c" stroke-width="0.7"/>
</g>
<line x1="110.30" y1="161.00" x2="110.30" y2="225.00" stroke="#333" stroke-width="0.9" stroke-dasharray="2 2.4"/>
<rect x="80.80" y="161.00" width="48.90" height="64.00" fill="none" stroke="#111" stroke-width="0.95" />
<text x="128.40" y="166.90" font-size="6.5" text-anchor="end" font-weight="normal" font-style="normal" fill="#111"  stroke="#111" stroke-width="0.16">78</text>
<text x="128.40" y="188.23" font-size="6.5" text-anchor="end" font-weight="normal" font-style="normal" fill="#111"  stroke="#111" stroke-width="0.16">86</text>
<text x="128.40" y="209.57" font-size="6.5" text-anchor="end" font-weight="normal" font-style="normal" fill="#111"  stroke="#111" stroke-width="0.16">88</text>
<line x1="81.50" y1="225.00" x2="81.50" y2="226.60" stroke="#333" stroke-width="0.5" />
<text transform="translate(79.10,233.00) scale(0.64,1)" font-size="6" fill="#000" stroke="#000" stroke-width="0.22">10<tspan font-size="4" dy="-2.1">0</tspan></text>
<line x1="84.75" y1="225.00" x2="84.75" y2="225.90" stroke="#555" stroke-width="0.3" />
<line x1="86.71" y1="225.00" x2="86.71" y2="225.90" stroke="#555" stroke-width="0.3" />
<line x1="88.01" y1="225.00" x2="88.01" y2="225.90" stroke="#555" stroke-width="0.3" />
<line x1="89.09" y1="225.00" x2="89.09" y2="225.90" stroke="#555" stroke-width="0.3" />
<line x1="89.96" y1="225.00" x2="89.96" y2="225.90" stroke="#555" stroke-width="0.3" />
<line x1="90.72" y1="225.00" x2="90.72" y2="225.90" stroke="#555" stroke-width="0.3" />
<line x1="91.27" y1="225.00" x2="91.27" y2="225.90" stroke="#555" stroke-width="0.3" />
<line x1="91.81" y1="225.00" x2="91.81" y2="225.90" stroke="#555" stroke-width="0.3" />
<line x1="92.35" y1="225.00" x2="92.35" y2="226.60" stroke="#333" stroke-width="0.5" />
<text transform="translate(89.95,233.00) scale(0.64,1)" font-size="6" fill="#000" stroke="#000" stroke-width="0.22">10<tspan font-size="4" dy="-2.1">1</tspan></text>
<line x1="95.60" y1="225.00" x2="95.60" y2="225.90" stroke="#555" stroke-width="0.3" />
<line x1="97.56" y1="225.00" x2="97.56" y2="225.90" stroke="#555" stroke-width="0.3" />
<line x1="98.86" y1="225.00" x2="98.86" y2="225.90" stroke="#555" stroke-width="0.3" />
<line x1="99.94" y1="225.00" x2="99.94" y2="225.90" stroke="#555" stroke-width="0.3" />
<line x1="100.81" y1="225.00" x2="100.81" y2="225.90" stroke="#555" stroke-width="0.3" />
<line x1="101.57" y1="225.00" x2="101.57" y2="225.90" stroke="#555" stroke-width="0.3" />
<line x1="102.11" y1="225.00" x2="102.11" y2="225.90" stroke="#555" stroke-width="0.3" />
<line x1="102.66" y1="225.00" x2="102.66" y2="225.90" stroke="#555" stroke-width="0.3" />
<line x1="103.20" y1="225.00" x2="103.20" y2="226.60" stroke="#333" stroke-width="0.5" />
<text transform="translate(100.80,233.00) scale(0.64,1)" font-size="6" fill="#000" stroke="#000" stroke-width="0.22">10<tspan font-size="4" dy="-2.1">2</tspan></text>
<line x1="106.45" y1="225.00" x2="106.45" y2="225.90" stroke="#555" stroke-width="0.3" />
<line x1="108.41" y1="225.00" x2="108.41" y2="225.90" stroke="#555" stroke-width="0.3" />
<line x1="109.71" y1="225.00" x2="109.71" y2="225.90" stroke="#555" stroke-width="0.3" />
<line x1="110.80" y1="225.00" x2="110.80" y2="225.90" stroke="#555" stroke-width="0.3" />
<line x1="111.66" y1="225.00" x2="111.66" y2="225.90" stroke="#555" stroke-width="0.3" />
<line x1="112.42" y1="225.00" x2="112.42" y2="225.90" stroke="#555" stroke-width="0.3" />
<line x1="112.97" y1="225.00" x2="112.97" y2="225.90" stroke="#555" stroke-width="0.3" />
<line x1="113.51" y1="225.00" x2="113.51" y2="225.90" stroke="#555" stroke-width="0.3" />
<line x1="114.05" y1="225.00" x2="114.05" y2="226.60" stroke="#333" stroke-width="0.5" />
<text transform="translate(111.65,233.00) scale(0.64,1)" font-size="6" fill="#000" stroke="#000" stroke-width="0.22">10<tspan font-size="4" dy="-2.1">3</tspan></text>
<line x1="117.30" y1="225.00" x2="117.30" y2="225.90" stroke="#555" stroke-width="0.3" />
<line x1="119.26" y1="225.00" x2="119.26" y2="225.90" stroke="#555" stroke-width="0.3" />
<line x1="120.56" y1="225.00" x2="120.56" y2="225.90" stroke="#555" stroke-width="0.3" />
<line x1="121.64" y1="225.00" x2="121.64" y2="225.90" stroke="#555" stroke-width="0.3" />
<line x1="122.51" y1="225.00" x2="122.51" y2="225.90" stroke="#555" stroke-width="0.3" />
<line x1="123.27" y1="225.00" x2="123.27" y2="225.90" stroke="#555" stroke-width="0.3" />
<line x1="123.81" y1="225.00" x2="123.81" y2="225.90" stroke="#555" stroke-width="0.3" />
<line x1="124.36" y1="225.00" x2="124.36" y2="225.90" stroke="#555" stroke-width="0.3" />
<line x1="124.90" y1="225.00" x2="124.90" y2="226.60" stroke="#333" stroke-width="0.5" />
<text transform="translate(122.50,233.00) scale(0.64,1)" font-size="6" fill="#000" stroke="#000" stroke-width="0.22">10<tspan font-size="4" dy="-2.1">4</tspan></text>
<line x1="128.16" y1="225.00" x2="128.16" y2="225.90" stroke="#555" stroke-width="0.3" />
<text x="163.75" y="158.70" font-size="8.8" text-anchor="middle" font-weight="normal" font-style="normal" fill="#111"  stroke="#111" stroke-width="0.16">mTEC</text>
<clipPath id="cc1"><rect x="139.3" y="161.0" width="48.9" height="64.0"/></clipPath>
<g clip-path="url(#cc1)">
<path d="M139.30 182.78 L139.30 182.78 L139.84 182.78 L140.39 182.78 L140.93 182.78 L141.47 182.78 L142.02 182.78 L142.56 182.78 L143.10 182.78 L143.65 182.78 L144.19 182.78 L144.73 182.78 L145.28 182.78 L145.82 182.78 L146.36 182.78 L146.91 182.78 L147.45 182.78 L147.99 182.78 L148.54 182.78 L149.08 182.78 L149.62 182.77 L150.17 182.77 L150.71 182.77 L151.25 182.76 L151.80 182.75 L152.34 182.74 L152.88 182.73 L153.43 182.71 L153.97 182.69 L154.51 182.66 L155.06 182.63 L155.60 182.59 L156.14 182.55 L156.69 182.50 L157.23 182.45 L157.77 182.38 L158.32 182.32 L158.86 182.24 L159.40 182.19 L159.95 182.09 L160.49 182.01 L161.03 181.95 L161.58 181.91 L162.12 181.83 L162.66 181.72 L163.21 181.64 L163.75 181.58 L164.29 181.51 L164.84 181.41 L165.38 181.32 L165.92 181.11 L166.47 180.82 L167.01 180.59 L167.55 180.08 L168.10 179.43 L168.64 178.68 L169.18 177.75 L169.73 176.56 L170.27 174.85 L170.81 172.96 L171.36 171.00 L171.90 169.26 L172.44 166.88 L172.99 164.90 L173.53 163.97 L174.07 163.23 L174.62 164.79 L175.16 167.15 L175.70 170.10 L176.25 172.62 L176.79 175.49 L177.33 178.11 L177.88 179.86 L178.42 181.05 L178.96 181.84 L179.51 182.29 L180.05 182.55 L180.59 182.68 L181.14 182.74 L181.68 182.76 L182.22 182.78 L182.77 182.78 L183.31 182.78 L183.85 182.78 L184.40 182.78 L184.94 182.78 L185.48 182.78 L186.03 182.78 L186.57 182.78 L187.11 182.78 L187.66 182.78 L188.20 182.78 L188.20 182.78 Z" fill="#e58c9e" stroke="#d8506a" stroke-width="0.7"/>
<path d="M139.30 204.12 L139.30 204.12 L139.84 204.12 L140.39 204.12 L140.93 204.12 L141.47 204.12 L142.02 204.12 L142.56 204.12 L143.10 204.12 L143.65 204.12 L144.19 204.12 L144.73 204.12 L145.28 204.12 L145.82 204.12 L146.36 204.12 L146.91 204.12 L147.45 204.12 L147.99 204.11 L148.54 204.11 L149.08 204.11 L149.62 204.11 L150.17 204.11 L150.71 204.11 L151.25 204.10 L151.80 204.10 L152.34 204.09 L152.88 204.08 L153.43 204.07 L153.97 204.06 L154.51 204.04 L155.06 204.03 L155.60 204.00 L156.14 203.97 L156.69 203.94 L157.23 203.91 L157.77 203.88 L158.32 203.84 L158.86 203.79 L159.40 203.76 L159.95 203.72 L160.49 203.67 L161.03 203.61 L161.58 203.58 L162.12 203.52 L162.66 203.47 L163.21 203.43 L163.75 203.41 L164.29 203.32 L164.84 203.24 L165.38 203.13 L165.92 202.97 L166.47 202.75 L167.01 202.46 L167.55 202.00 L168.10 201.46 L168.64 200.78 L169.18 199.76 L169.73 198.29 L170.27 196.97 L170.81 195.11 L171.36 192.80 L171.90 190.69 L172.44 188.35 L172.99 186.62 L173.53 185.05 L174.07 185.22 L174.62 186.13 L175.16 188.10 L175.70 190.24 L176.25 192.96 L176.79 195.81 L177.33 197.85 L177.88 199.90 L178.42 201.28 L178.96 202.36 L179.51 203.03 L180.05 203.50 L180.59 203.76 L181.14 203.93 L181.68 204.02 L182.22 204.07 L182.77 204.10 L183.31 204.11 L183.85 204.11 L184.40 204.11 L184.94 204.12 L185.48 204.12 L186.03 204.12 L186.57 204.12 L187.11 204.12 L187.66 204.12 L188.20 204.12 L188.20 204.12 Z" fill="#86a9cc" stroke="#4a7aaa" stroke-width="0.7"/>
<path d="M139.30 225.10 L139.30 225.10 L139.84 225.10 L140.39 225.10 L140.93 225.10 L141.47 225.10 L142.02 225.10 L142.56 225.10 L143.10 225.10 L143.65 225.10 L144.19 225.10 L144.73 225.10 L145.28 225.10 L145.82 225.10 L146.36 225.10 L146.91 225.10 L147.45 225.10 L147.99 225.10 L148.54 225.10 L149.08 225.10 L149.62 225.10 L150.17 225.10 L150.71 225.10 L151.25 225.10 L151.80 225.10 L152.34 225.10 L152.88 225.10 L153.43 225.10 L153.97 225.10 L154.51 225.10 L155.06 225.09 L155.60 225.09 L156.14 225.08 L156.69 225.07 L157.23 225.05 L157.77 225.02 L158.32 224.99 L158.86 224.94 L159.40 224.89 L159.95 224.81 L160.49 224.75 L161.03 224.67 L161.58 224.60 L162.12 224.50 L162.66 224.40 L163.21 224.31 L163.75 224.17 L164.29 224.01 L164.84 223.75 L165.38 223.36 L165.92 222.74 L166.47 221.91 L167.01 220.72 L167.55 219.37 L168.10 217.64 L168.64 215.16 L169.18 212.86 L169.73 210.22 L170.27 207.86 L170.81 205.73 L171.36 205.18 L171.90 205.57 L172.44 207.14 L172.99 208.38 L173.53 210.44 L174.07 212.81 L174.62 215.88 L175.16 218.59 L175.70 220.62 L176.25 222.22 L176.79 223.50 L177.33 224.21 L177.88 224.67 L178.42 224.90 L178.96 225.01 L179.51 225.07 L180.05 225.09 L180.59 225.10 L181.14 225.10 L181.68 225.10 L182.22 225.10 L182.77 225.10 L183.31 225.10 L183.85 225.10 L184.40 225.10 L184.94 225.10 L185.48 225.10 L186.03 225.10 L186.57 225.10 L187.11 225.10 L187.66 225.10 L188.20 225.10 L188.20 225.10 Z" fill="#f9cc84" stroke="#f2a63c" stroke-width="0.7"/>
</g>
<line x1="169.05" y1="161.00" x2="169.05" y2="225.00" stroke="#333" stroke-width="0.9" stroke-dasharray="2 2.4"/>
<rect x="139.30" y="161.00" width="48.90" height="64.00" fill="none" stroke="#111" stroke-width="0.95" />
<text x="186.90" y="166.90" font-size="6.5" text-anchor="end" font-weight="normal" font-style="normal" fill="#111"  stroke="#111" stroke-width="0.16">90</text>
<text x="186.90" y="188.23" font-size="6.5" text-anchor="end" font-weight="normal" font-style="normal" fill="#111"  stroke="#111" stroke-width="0.16">95</text>
<text x="186.90" y="209.57" font-size="6.5" text-anchor="end" font-weight="normal" font-style="normal" fill="#111"  stroke="#111" stroke-width="0.16">90</text>
<line x1="140.00" y1="225.00" x2="140.00" y2="226.60" stroke="#333" stroke-width="0.5" />
<text transform="translate(137.60,233.00) scale(0.64,1)" font-size="6" fill="#000" stroke="#000" stroke-width="0.22">10<tspan font-size="4" dy="-2.1">0</tspan></text>
<line x1="143.25" y1="225.00" x2="143.25" y2="225.90" stroke="#555" stroke-width="0.3" />
<line x1="145.21" y1="225.00" x2="145.21" y2="225.90" stroke="#555" stroke-width="0.3" />
<line x1="146.51" y1="225.00" x2="146.51" y2="225.90" stroke="#555" stroke-width="0.3" />
<line x1="147.59" y1="225.00" x2="147.59" y2="225.90" stroke="#555" stroke-width="0.3" />
<line x1="148.46" y1="225.00" x2="148.46" y2="225.90" stroke="#555" stroke-width="0.3" />
<line x1="149.22" y1="225.00" x2="149.22" y2="225.90" stroke="#555" stroke-width="0.3" />
<line x1="149.76" y1="225.00" x2="149.76" y2="225.90" stroke="#555" stroke-width="0.3" />
<line x1="150.31" y1="225.00" x2="150.31" y2="225.90" stroke="#555" stroke-width="0.3" />
<line x1="150.85" y1="225.00" x2="150.85" y2="226.60" stroke="#333" stroke-width="0.5" />
<text transform="translate(148.45,233.00) scale(0.64,1)" font-size="6" fill="#000" stroke="#000" stroke-width="0.22">10<tspan font-size="4" dy="-2.1">1</tspan></text>
<line x1="154.10" y1="225.00" x2="154.10" y2="225.90" stroke="#555" stroke-width="0.3" />
<line x1="156.06" y1="225.00" x2="156.06" y2="225.90" stroke="#555" stroke-width="0.3" />
<line x1="157.36" y1="225.00" x2="157.36" y2="225.90" stroke="#555" stroke-width="0.3" />
<line x1="158.44" y1="225.00" x2="158.44" y2="225.90" stroke="#555" stroke-width="0.3" />
<line x1="159.31" y1="225.00" x2="159.31" y2="225.90" stroke="#555" stroke-width="0.3" />
<line x1="160.07" y1="225.00" x2="160.07" y2="225.90" stroke="#555" stroke-width="0.3" />
<line x1="160.62" y1="225.00" x2="160.62" y2="225.90" stroke="#555" stroke-width="0.3" />
<line x1="161.16" y1="225.00" x2="161.16" y2="225.90" stroke="#555" stroke-width="0.3" />
<line x1="161.70" y1="225.00" x2="161.70" y2="226.60" stroke="#333" stroke-width="0.5" />
<text transform="translate(159.30,233.00) scale(0.64,1)" font-size="6" fill="#000" stroke="#000" stroke-width="0.22">10<tspan font-size="4" dy="-2.1">2</tspan></text>
<line x1="164.95" y1="225.00" x2="164.95" y2="225.90" stroke="#555" stroke-width="0.3" />
<line x1="166.91" y1="225.00" x2="166.91" y2="225.90" stroke="#555" stroke-width="0.3" />
<line x1="168.21" y1="225.00" x2="168.21" y2="225.90" stroke="#555" stroke-width="0.3" />
<line x1="169.29" y1="225.00" x2="169.29" y2="225.90" stroke="#555" stroke-width="0.3" />
<line x1="170.16" y1="225.00" x2="170.16" y2="225.90" stroke="#555" stroke-width="0.3" />
<line x1="170.92" y1="225.00" x2="170.92" y2="225.90" stroke="#555" stroke-width="0.3" />
<line x1="171.46" y1="225.00" x2="171.46" y2="225.90" stroke="#555" stroke-width="0.3" />
<line x1="172.01" y1="225.00" x2="172.01" y2="225.90" stroke="#555" stroke-width="0.3" />
<line x1="172.55" y1="225.00" x2="172.55" y2="226.60" stroke="#333" stroke-width="0.5" />
<text transform="translate(170.15,233.00) scale(0.64,1)" font-size="6" fill="#000" stroke="#000" stroke-width="0.22">10<tspan font-size="4" dy="-2.1">3</tspan></text>
<line x1="175.81" y1="225.00" x2="175.81" y2="225.90" stroke="#555" stroke-width="0.3" />
<line x1="177.76" y1="225.00" x2="177.76" y2="225.90" stroke="#555" stroke-width="0.3" />
<line x1="179.06" y1="225.00" x2="179.06" y2="225.90" stroke="#555" stroke-width="0.3" />
<line x1="180.15" y1="225.00" x2="180.15" y2="225.90" stroke="#555" stroke-width="0.3" />
<line x1="181.01" y1="225.00" x2="181.01" y2="225.90" stroke="#555" stroke-width="0.3" />
<line x1="181.77" y1="225.00" x2="181.77" y2="225.90" stroke="#555" stroke-width="0.3" />
<line x1="182.31" y1="225.00" x2="182.31" y2="225.90" stroke="#555" stroke-width="0.3" />
<line x1="182.86" y1="225.00" x2="182.86" y2="225.90" stroke="#555" stroke-width="0.3" />
<line x1="183.40" y1="225.00" x2="183.40" y2="226.60" stroke="#333" stroke-width="0.5" />
<text transform="translate(181.00,233.00) scale(0.64,1)" font-size="6" fill="#000" stroke="#000" stroke-width="0.22">10<tspan font-size="4" dy="-2.1">4</tspan></text>
<line x1="186.66" y1="225.00" x2="186.66" y2="225.90" stroke="#555" stroke-width="0.3" />
<text x="221.75" y="158.70" font-size="8.8" text-anchor="middle" font-weight="normal" font-style="normal" fill="#111"  stroke="#111" stroke-width="0.16">EC</text>
<clipPath id="cc2"><rect x="197.3" y="161.0" width="48.9" height="64.0"/></clipPath>
<g clip-path="url(#cc2)">
<path d="M197.30 182.78 L197.30 182.59 L197.84 182.56 L198.39 182.54 L198.93 182.50 L199.47 182.47 L200.02 182.43 L200.56 182.40 L201.10 182.35 L201.65 182.31 L202.19 182.24 L202.73 182.18 L203.28 182.11 L203.82 182.02 L204.36 181.93 L204.91 181.88 L205.45 181.73 L205.99 181.65 L206.54 181.52 L207.08 181.42 L207.62 181.20 L208.17 181.10 L208.71 180.91 L209.25 180.71 L209.80 180.51 L210.34 180.26 L210.88 180.00 L211.43 179.68 L211.97 179.40 L212.51 178.98 L213.06 178.56 L213.60 178.15 L214.14 177.87 L214.69 177.31 L215.23 176.79 L215.77 176.24 L216.32 175.79 L216.86 175.27 L217.40 174.34 L217.95 173.69 L218.49 173.12 L219.03 172.15 L219.58 171.74 L220.12 170.40 L220.66 169.45 L221.21 168.52 L221.75 168.44 L222.29 167.34 L222.84 168.58 L223.38 171.57 L223.92 174.00 L224.47 176.44 L225.01 177.79 L225.55 178.23 L226.10 177.70 L226.64 176.48 L227.18 175.38 L227.73 174.30 L228.27 173.76 L228.81 174.39 L229.36 174.83 L229.90 175.93 L230.44 177.14 L230.99 178.12 L231.53 178.75 L232.07 179.12 L232.62 179.58 L233.16 180.15 L233.70 180.75 L234.25 181.42 L234.79 181.99 L235.33 182.37 L235.88 182.59 L236.42 182.71 L236.96 182.76 L237.51 182.78 L238.05 182.78 L238.59 182.78 L239.14 182.78 L239.68 182.78 L240.22 182.78 L240.77 182.78 L241.31 182.78 L241.85 182.78 L242.40 182.78 L242.94 182.78 L243.48 182.78 L244.03 182.78 L244.57 182.78 L245.11 182.78 L245.66 182.78 L246.20 182.78 L246.20 182.78 Z" fill="#e58c9e" stroke="#d8506a" stroke-width="0.7"/>
<path d="M197.30 204.12 L197.30 204.12 L197.84 204.12 L198.39 204.12 L198.93 204.12 L199.47 204.11 L200.02 204.11 L200.56 204.11 L201.10 204.10 L201.65 204.09 L202.19 204.08 L202.73 204.06 L203.28 204.03 L203.82 203.99 L204.36 203.93 L204.91 203.85 L205.45 203.76 L205.99 203.64 L206.54 203.49 L207.08 203.31 L207.62 203.13 L208.17 202.89 L208.71 202.66 L209.25 202.39 L209.80 202.17 L210.34 201.93 L210.88 201.67 L211.43 201.44 L211.97 201.16 L212.51 201.04 L213.06 200.79 L213.60 200.57 L214.14 200.21 L214.69 199.81 L215.23 199.56 L215.77 199.23 L216.32 198.84 L216.86 198.60 L217.40 198.56 L217.95 198.45 L218.49 198.29 L219.03 198.43 L219.58 198.42 L220.12 198.75 L220.66 198.81 L221.21 198.84 L221.75 199.07 L222.29 199.11 L222.84 198.87 L223.38 198.95 L223.92 198.58 L224.47 198.47 L225.01 198.03 L225.55 197.55 L226.10 196.59 L226.64 195.27 L227.18 193.50 L227.73 190.60 L228.27 188.93 L228.81 187.32 L229.36 186.19 L229.90 187.44 L230.44 189.07 L230.99 191.17 L231.53 194.03 L232.07 196.94 L232.62 199.24 L233.16 200.99 L233.70 202.31 L234.25 203.18 L234.79 203.66 L235.33 203.91 L235.88 204.03 L236.42 204.08 L236.96 204.11 L237.51 204.11 L238.05 204.12 L238.59 204.12 L239.14 204.12 L239.68 204.12 L240.22 204.12 L240.77 204.12 L241.31 204.12 L241.85 204.12 L242.40 204.12 L242.94 204.12 L243.48 204.12 L244.03 204.12 L244.57 204.12 L245.11 204.12 L245.66 204.12 L246.20 204.12 L246.20 204.12 Z" fill="#86a9cc" stroke="#4a7aaa" stroke-width="0.7"/>
<path d="M197.30 225.10 L197.30 225.10 L197.84 225.10 L198.39 225.10 L198.93 225.10 L199.47 225.10 L200.02 225.10 L200.56 225.10 L201.10 225.10 L201.65 225.10 L202.19 225.10 L202.73 225.10 L203.28 225.09 L203.82 225.09 L204.36 225.09 L204.91 225.08 L205.45 225.08 L205.99 225.07 L206.54 225.06 L207.08 225.05 L207.62 225.03 L208.17 225.01 L208.71 224.98 L209.25 224.95 L209.80 224.91 L210.34 224.86 L210.88 224.80 L211.43 224.74 L211.97 224.65 L212.51 224.55 L213.06 224.48 L213.60 224.32 L214.14 224.17 L214.69 224.02 L215.23 223.84 L215.77 223.69 L216.32 223.47 L216.86 223.30 L217.40 222.98 L217.95 222.73 L218.49 222.49 L219.03 222.25 L219.58 221.91 L220.12 221.51 L220.66 220.99 L221.21 220.65 L221.75 220.03 L222.29 219.65 L222.84 218.94 L223.38 218.14 L223.92 217.16 L224.47 215.76 L225.01 214.68 L225.55 213.24 L226.10 211.34 L226.64 209.88 L227.18 208.17 L227.73 208.90 L228.27 209.74 L228.81 211.95 L229.36 214.66 L229.90 217.14 L230.44 218.77 L230.99 220.14 L231.53 221.27 L232.07 222.09 L232.62 222.79 L233.16 223.18 L233.70 223.60 L234.25 223.92 L234.79 224.17 L235.33 224.34 L235.88 224.49 L236.42 224.62 L236.96 224.72 L237.51 224.79 L238.05 224.85 L238.59 224.91 L239.14 224.95 L239.68 224.98 L240.22 225.01 L240.77 225.03 L241.31 225.05 L241.85 225.06 L242.40 225.07 L242.94 225.08 L243.48 225.08 L244.03 225.09 L244.57 225.09 L245.11 225.09 L245.66 225.10 L246.20 225.10 L246.20 225.10 Z" fill="#f9cc84" stroke="#f2a63c" stroke-width="0.7"/>
</g>
<line x1="225.90" y1="161.00" x2="225.90" y2="225.00" stroke="#333" stroke-width="0.9" stroke-dasharray="2 2.4"/>
<rect x="197.30" y="161.00" width="48.90" height="64.00" fill="none" stroke="#111" stroke-width="0.95" />
<text x="244.90" y="166.90" font-size="6.5" text-anchor="end" font-weight="normal" font-style="normal" fill="#111"  stroke="#111" stroke-width="0.16">20</text>
<text x="244.90" y="188.23" font-size="6.5" text-anchor="end" font-weight="normal" font-style="normal" fill="#111"  stroke="#111" stroke-width="0.16">52</text>
<text x="244.90" y="209.57" font-size="6.5" text-anchor="end" font-weight="normal" font-style="normal" fill="#111"  stroke="#111" stroke-width="0.16">47</text>
<line x1="198.00" y1="225.00" x2="198.00" y2="226.60" stroke="#333" stroke-width="0.5" />
<text transform="translate(195.60,233.00) scale(0.64,1)" font-size="6" fill="#000" stroke="#000" stroke-width="0.22">10<tspan font-size="4" dy="-2.1">0</tspan></text>
<line x1="201.25" y1="225.00" x2="201.25" y2="225.90" stroke="#555" stroke-width="0.3" />
<line x1="203.21" y1="225.00" x2="203.21" y2="225.90" stroke="#555" stroke-width="0.3" />
<line x1="204.51" y1="225.00" x2="204.51" y2="225.90" stroke="#555" stroke-width="0.3" />
<line x1="205.59" y1="225.00" x2="205.59" y2="225.90" stroke="#555" stroke-width="0.3" />
<line x1="206.46" y1="225.00" x2="206.46" y2="225.90" stroke="#555" stroke-width="0.3" />
<line x1="207.22" y1="225.00" x2="207.22" y2="225.90" stroke="#555" stroke-width="0.3" />
<line x1="207.76" y1="225.00" x2="207.76" y2="225.90" stroke="#555" stroke-width="0.3" />
<line x1="208.31" y1="225.00" x2="208.31" y2="225.90" stroke="#555" stroke-width="0.3" />
<line x1="208.85" y1="225.00" x2="208.85" y2="226.60" stroke="#333" stroke-width="0.5" />
<text transform="translate(206.45,233.00) scale(0.64,1)" font-size="6" fill="#000" stroke="#000" stroke-width="0.22">10<tspan font-size="4" dy="-2.1">1</tspan></text>
<line x1="212.10" y1="225.00" x2="212.10" y2="225.90" stroke="#555" stroke-width="0.3" />
<line x1="214.06" y1="225.00" x2="214.06" y2="225.90" stroke="#555" stroke-width="0.3" />
<line x1="215.36" y1="225.00" x2="215.36" y2="225.90" stroke="#555" stroke-width="0.3" />
<line x1="216.44" y1="225.00" x2="216.44" y2="225.90" stroke="#555" stroke-width="0.3" />
<line x1="217.31" y1="225.00" x2="217.31" y2="225.90" stroke="#555" stroke-width="0.3" />
<line x1="218.07" y1="225.00" x2="218.07" y2="225.90" stroke="#555" stroke-width="0.3" />
<line x1="218.62" y1="225.00" x2="218.62" y2="225.90" stroke="#555" stroke-width="0.3" />
<line x1="219.16" y1="225.00" x2="219.16" y2="225.90" stroke="#555" stroke-width="0.3" />
<line x1="219.70" y1="225.00" x2="219.70" y2="226.60" stroke="#333" stroke-width="0.5" />
<text transform="translate(217.30,233.00) scale(0.64,1)" font-size="6" fill="#000" stroke="#000" stroke-width="0.22">10<tspan font-size="4" dy="-2.1">2</tspan></text>
<line x1="222.95" y1="225.00" x2="222.95" y2="225.90" stroke="#555" stroke-width="0.3" />
<line x1="224.91" y1="225.00" x2="224.91" y2="225.90" stroke="#555" stroke-width="0.3" />
<line x1="226.21" y1="225.00" x2="226.21" y2="225.90" stroke="#555" stroke-width="0.3" />
<line x1="227.29" y1="225.00" x2="227.29" y2="225.90" stroke="#555" stroke-width="0.3" />
<line x1="228.16" y1="225.00" x2="228.16" y2="225.90" stroke="#555" stroke-width="0.3" />
<line x1="228.92" y1="225.00" x2="228.92" y2="225.90" stroke="#555" stroke-width="0.3" />
<line x1="229.46" y1="225.00" x2="229.46" y2="225.90" stroke="#555" stroke-width="0.3" />
<line x1="230.01" y1="225.00" x2="230.01" y2="225.90" stroke="#555" stroke-width="0.3" />
<line x1="230.55" y1="225.00" x2="230.55" y2="226.60" stroke="#333" stroke-width="0.5" />
<text transform="translate(228.15,233.00) scale(0.64,1)" font-size="6" fill="#000" stroke="#000" stroke-width="0.22">10<tspan font-size="4" dy="-2.1">3</tspan></text>
<line x1="233.81" y1="225.00" x2="233.81" y2="225.90" stroke="#555" stroke-width="0.3" />
<line x1="235.76" y1="225.00" x2="235.76" y2="225.90" stroke="#555" stroke-width="0.3" />
<line x1="237.06" y1="225.00" x2="237.06" y2="225.90" stroke="#555" stroke-width="0.3" />
<line x1="238.15" y1="225.00" x2="238.15" y2="225.90" stroke="#555" stroke-width="0.3" />
<line x1="239.01" y1="225.00" x2="239.01" y2="225.90" stroke="#555" stroke-width="0.3" />
<line x1="239.77" y1="225.00" x2="239.77" y2="225.90" stroke="#555" stroke-width="0.3" />
<line x1="240.31" y1="225.00" x2="240.31" y2="225.90" stroke="#555" stroke-width="0.3" />
<line x1="240.86" y1="225.00" x2="240.86" y2="225.90" stroke="#555" stroke-width="0.3" />
<line x1="241.40" y1="225.00" x2="241.40" y2="226.60" stroke="#333" stroke-width="0.5" />
<text transform="translate(239.00,233.00) scale(0.64,1)" font-size="6" fill="#000" stroke="#000" stroke-width="0.22">10<tspan font-size="4" dy="-2.1">4</tspan></text>
<line x1="244.66" y1="225.00" x2="244.66" y2="225.90" stroke="#555" stroke-width="0.3" />
<text transform="translate(279.65,158.70) scale(1.0871,1)" font-size="8.8" text-anchor="middle" fill="#111">Fibroblast</text>
<clipPath id="cc3"><rect x="254.6" y="161.0" width="48.9" height="64.0"/></clipPath>
<g clip-path="url(#cc3)">
<path d="M254.60 182.78 L254.60 182.78 L255.14 182.78 L255.69 182.78 L256.23 182.78 L256.77 182.78 L257.32 182.78 L257.86 182.78 L258.40 182.78 L258.95 182.78 L259.49 182.78 L260.03 182.78 L260.58 182.78 L261.12 182.78 L261.66 182.78 L262.21 182.78 L262.75 182.78 L263.29 182.78 L263.84 182.78 L264.38 182.78 L264.92 182.78 L265.47 182.77 L266.01 182.77 L266.55 182.77 L267.10 182.76 L267.64 182.75 L268.18 182.75 L268.73 182.74 L269.27 182.72 L269.81 182.71 L270.36 182.69 L270.90 182.68 L271.44 182.65 L271.99 182.63 L272.53 182.60 L273.07 182.56 L273.62 182.54 L274.16 182.50 L274.70 182.47 L275.25 182.42 L275.79 182.38 L276.33 182.32 L276.88 182.27 L277.42 182.19 L277.96 182.10 L278.51 181.99 L279.05 181.84 L279.59 181.63 L280.14 181.23 L280.68 180.59 L281.22 179.87 L281.77 178.93 L282.31 178.22 L282.85 177.41 L283.40 177.09 L283.94 176.54 L284.48 175.58 L285.03 174.83 L285.57 173.53 L286.11 171.70 L286.66 169.96 L287.20 168.49 L287.74 166.53 L288.29 164.59 L288.83 163.23 L289.37 162.64 L289.92 163.60 L290.46 166.33 L291.00 168.77 L291.55 171.79 L292.09 174.96 L292.63 177.21 L293.18 179.34 L293.72 180.68 L294.26 181.62 L294.81 182.20 L295.35 182.50 L295.89 182.65 L296.44 182.73 L296.98 182.76 L297.52 182.78 L298.07 182.78 L298.61 182.78 L299.15 182.78 L299.70 182.78 L300.24 182.78 L300.78 182.78 L301.33 182.78 L301.87 182.78 L302.41 182.78 L302.96 182.78 L303.50 182.78 L303.50 182.78 Z" fill="#e58c9e" stroke="#d8506a" stroke-width="0.7"/>
<path d="M254.60 204.12 L254.60 204.12 L255.14 204.12 L255.69 204.12 L256.23 204.12 L256.77 204.12 L257.32 204.12 L257.86 204.12 L258.40 204.12 L258.95 204.12 L259.49 204.12 L260.03 204.12 L260.58 204.12 L261.12 204.12 L261.66 204.12 L262.21 204.12 L262.75 204.11 L263.29 204.11 L263.84 204.11 L264.38 204.11 L264.92 204.11 L265.47 204.11 L266.01 204.10 L266.55 204.10 L267.10 204.09 L267.64 204.09 L268.18 204.08 L268.73 204.07 L269.27 204.06 L269.81 204.04 L270.36 204.02 L270.90 204.01 L271.44 203.99 L271.99 203.96 L272.53 203.94 L273.07 203.91 L273.62 203.88 L274.16 203.84 L274.70 203.81 L275.25 203.78 L275.79 203.74 L276.33 203.70 L276.88 203.67 L277.42 203.61 L277.96 203.55 L278.51 203.50 L279.05 203.44 L279.59 203.34 L280.14 203.22 L280.68 203.06 L281.22 202.86 L281.77 202.53 L282.31 202.24 L282.85 201.81 L283.40 201.19 L283.94 200.63 L284.48 199.72 L285.03 198.66 L285.57 197.39 L286.11 196.28 L286.66 194.95 L287.20 192.77 L287.74 191.75 L288.29 189.73 L288.83 188.00 L289.37 186.05 L289.92 185.65 L290.46 185.50 L291.00 186.63 L291.55 188.94 L292.09 192.21 L292.63 194.98 L293.18 198.08 L293.72 200.31 L294.26 201.99 L294.81 202.96 L295.35 203.55 L295.89 203.87 L296.44 204.01 L296.98 204.08 L297.52 204.10 L298.07 204.11 L298.61 204.12 L299.15 204.12 L299.70 204.12 L300.24 204.12 L300.78 204.12 L301.33 204.12 L301.87 204.12 L302.41 204.12 L302.96 204.12 L303.50 204.12 L303.50 204.12 Z" fill="#86a9cc" stroke="#4a7aaa" stroke-width="0.7"/>
<path d="M254.60 225.10 L254.60 225.10 L255.14 225.10 L255.69 225.10 L256.23 225.10 L256.77 225.10 L257.32 225.10 L257.86 225.10 L258.40 225.10 L258.95 225.10 L259.49 225.10 L260.03 225.10 L260.58 225.10 L261.12 225.10 L261.66 225.10 L262.21 225.10 L262.75 225.10 L263.29 225.10 L263.84 225.10 L264.38 225.10 L264.92 225.09 L265.47 225.09 L266.01 225.09 L266.55 225.08 L267.10 225.08 L267.64 225.07 L268.18 225.06 L268.73 225.05 L269.27 225.04 L269.81 225.03 L270.36 225.01 L270.90 224.99 L271.44 224.97 L271.99 224.95 L272.53 224.92 L273.07 224.90 L273.62 224.87 L274.16 224.83 L274.70 224.81 L275.25 224.77 L275.79 224.72 L276.33 224.68 L276.88 224.63 L277.42 224.60 L277.96 224.51 L278.51 224.43 L279.05 224.33 L279.59 224.12 L280.14 223.95 L280.68 223.57 L281.22 223.26 L281.77 222.74 L282.31 221.99 L282.85 221.09 L283.40 220.03 L283.94 218.67 L284.48 217.50 L285.03 215.54 L285.57 214.02 L286.11 211.71 L286.66 210.17 L287.20 208.50 L287.74 207.84 L288.29 206.37 L288.83 207.64 L289.37 209.61 L289.92 212.20 L290.46 215.11 L291.00 218.31 L291.55 220.69 L292.09 222.46 L292.63 223.69 L293.18 224.39 L293.72 224.76 L294.26 224.95 L294.81 225.04 L295.35 225.08 L295.89 225.09 L296.44 225.10 L296.98 225.10 L297.52 225.10 L298.07 225.10 L298.61 225.10 L299.15 225.10 L299.70 225.10 L300.24 225.10 L300.78 225.10 L301.33 225.10 L301.87 225.10 L302.41 225.10 L302.96 225.10 L303.50 225.10 L303.50 225.10 Z" fill="#f9cc84" stroke="#f2a63c" stroke-width="0.7"/>
</g>
<line x1="284.15" y1="161.00" x2="284.15" y2="225.00" stroke="#333" stroke-width="0.9" stroke-dasharray="2 2.4"/>
<rect x="254.60" y="161.00" width="48.90" height="64.00" fill="none" stroke="#111" stroke-width="0.95" />
<text x="302.20" y="166.90" font-size="6.5" text-anchor="end" font-weight="normal" font-style="normal" fill="#111"  stroke="#111" stroke-width="0.16">93</text>
<text x="302.20" y="188.23" font-size="6.5" text-anchor="end" font-weight="normal" font-style="normal" fill="#111"  stroke="#111" stroke-width="0.16">94</text>
<text x="302.20" y="209.57" font-size="6.5" text-anchor="end" font-weight="normal" font-style="normal" fill="#111"  stroke="#111" stroke-width="0.16">92</text>
<line x1="255.30" y1="225.00" x2="255.30" y2="226.60" stroke="#333" stroke-width="0.5" />
<text transform="translate(252.90,233.00) scale(0.64,1)" font-size="6" fill="#000" stroke="#000" stroke-width="0.22">10<tspan font-size="4" dy="-2.1">0</tspan></text>
<line x1="258.56" y1="225.00" x2="258.56" y2="225.90" stroke="#555" stroke-width="0.3" />
<line x1="260.51" y1="225.00" x2="260.51" y2="225.90" stroke="#555" stroke-width="0.3" />
<line x1="261.81" y1="225.00" x2="261.81" y2="225.90" stroke="#555" stroke-width="0.3" />
<line x1="262.89" y1="225.00" x2="262.89" y2="225.90" stroke="#555" stroke-width="0.3" />
<line x1="263.76" y1="225.00" x2="263.76" y2="225.90" stroke="#555" stroke-width="0.3" />
<line x1="264.52" y1="225.00" x2="264.52" y2="225.90" stroke="#555" stroke-width="0.3" />
<line x1="265.06" y1="225.00" x2="265.06" y2="225.90" stroke="#555" stroke-width="0.3" />
<line x1="265.61" y1="225.00" x2="265.61" y2="225.90" stroke="#555" stroke-width="0.3" />
<line x1="266.15" y1="225.00" x2="266.15" y2="226.60" stroke="#333" stroke-width="0.5" />
<text transform="translate(263.75,233.00) scale(0.64,1)" font-size="6" fill="#000" stroke="#000" stroke-width="0.22">10<tspan font-size="4" dy="-2.1">1</tspan></text>
<line x1="269.40" y1="225.00" x2="269.40" y2="225.90" stroke="#555" stroke-width="0.3" />
<line x1="271.36" y1="225.00" x2="271.36" y2="225.90" stroke="#555" stroke-width="0.3" />
<line x1="272.66" y1="225.00" x2="272.66" y2="225.90" stroke="#555" stroke-width="0.3" />
<line x1="273.75" y1="225.00" x2="273.75" y2="225.90" stroke="#555" stroke-width="0.3" />
<line x1="274.61" y1="225.00" x2="274.61" y2="225.90" stroke="#555" stroke-width="0.3" />
<line x1="275.37" y1="225.00" x2="275.37" y2="225.90" stroke="#555" stroke-width="0.3" />
<line x1="275.91" y1="225.00" x2="275.91" y2="225.90" stroke="#555" stroke-width="0.3" />
<line x1="276.46" y1="225.00" x2="276.46" y2="225.90" stroke="#555" stroke-width="0.3" />
<line x1="277.00" y1="225.00" x2="277.00" y2="226.60" stroke="#333" stroke-width="0.5" />
<text transform="translate(274.60,233.00) scale(0.64,1)" font-size="6" fill="#000" stroke="#000" stroke-width="0.22">10<tspan font-size="4" dy="-2.1">2</tspan></text>
<line x1="280.25" y1="225.00" x2="280.25" y2="225.90" stroke="#555" stroke-width="0.3" />
<line x1="282.21" y1="225.00" x2="282.21" y2="225.90" stroke="#555" stroke-width="0.3" />
<line x1="283.51" y1="225.00" x2="283.51" y2="225.90" stroke="#555" stroke-width="0.3" />
<line x1="284.60" y1="225.00" x2="284.60" y2="225.90" stroke="#555" stroke-width="0.3" />
<line x1="285.46" y1="225.00" x2="285.46" y2="225.90" stroke="#555" stroke-width="0.3" />
<line x1="286.22" y1="225.00" x2="286.22" y2="225.90" stroke="#555" stroke-width="0.3" />
<line x1="286.76" y1="225.00" x2="286.76" y2="225.90" stroke="#555" stroke-width="0.3" />
<line x1="287.31" y1="225.00" x2="287.31" y2="225.90" stroke="#555" stroke-width="0.3" />
<line x1="287.85" y1="225.00" x2="287.85" y2="226.60" stroke="#333" stroke-width="0.5" />
<text transform="translate(285.45,233.00) scale(0.64,1)" font-size="6" fill="#000" stroke="#000" stroke-width="0.22">10<tspan font-size="4" dy="-2.1">3</tspan></text>
<line x1="291.10" y1="225.00" x2="291.10" y2="225.90" stroke="#555" stroke-width="0.3" />
<line x1="293.06" y1="225.00" x2="293.06" y2="225.90" stroke="#555" stroke-width="0.3" />
<line x1="294.36" y1="225.00" x2="294.36" y2="225.90" stroke="#555" stroke-width="0.3" />
<line x1="295.44" y1="225.00" x2="295.44" y2="225.90" stroke="#555" stroke-width="0.3" />
<line x1="296.31" y1="225.00" x2="296.31" y2="225.90" stroke="#555" stroke-width="0.3" />
<line x1="297.07" y1="225.00" x2="297.07" y2="225.90" stroke="#555" stroke-width="0.3" />
<line x1="297.61" y1="225.00" x2="297.61" y2="225.90" stroke="#555" stroke-width="0.3" />
<line x1="298.16" y1="225.00" x2="298.16" y2="225.90" stroke="#555" stroke-width="0.3" />
<line x1="298.70" y1="225.00" x2="298.70" y2="226.60" stroke="#333" stroke-width="0.5" />
<text transform="translate(296.30,233.00) scale(0.64,1)" font-size="6" fill="#000" stroke="#000" stroke-width="0.22">10<tspan font-size="4" dy="-2.1">4</tspan></text>
<line x1="301.95" y1="225.00" x2="301.95" y2="225.90" stroke="#555" stroke-width="0.3" />
<text x="305.60" y="172.90" font-size="7.3" text-anchor="start" font-weight="normal" font-style="normal" fill="#111"  stroke="#111" stroke-width="0.16">Day 0</text>
<text x="305.60" y="194.50" font-size="7.3" text-anchor="start" font-weight="normal" font-style="normal" fill="#111"  stroke="#111" stroke-width="0.16">Day 4</text>
<text x="305.60" y="216.10" font-size="7.3" text-anchor="start" font-weight="normal" font-style="normal" fill="#111"  stroke="#111" stroke-width="0.16">Day 7</text>
<text x="79.20" y="241.30" font-size="7.2" text-anchor="start" font-weight="normal" font-style="normal" fill="#111"  stroke="#111" stroke-width="0.16">GPR39</text>
<line x1="108.20" y1="239.40" x2="117.00" y2="239.40" stroke="#111" stroke-width="0.9" />
<path d="M115.8 237.2 L120.2 239.4 L115.8 241.6 Z" fill="#111"/>
<text x="357.00" y="143.60" font-size="11.5" text-anchor="start" font-weight="bold" font-style="normal" fill="#000" >D</text>
<rect x="393.40" y="185.50" width="11.70" height="33.20" fill="#a3dca5" stroke="none" stroke-width="0.8" />
<rect x="415.60" y="177.50" width="12.00" height="41.20" fill="#7fa0c2" stroke="none" stroke-width="0.8" />
<rect x="437.60" y="190.00" width="12.00" height="28.70" fill="#72ad9c" stroke="none" stroke-width="0.8" />
<line x1="389.90" y1="153.50" x2="389.90" y2="219.40" stroke="#111" stroke-width="1.3" />
<line x1="389.25" y1="218.70" x2="453.00" y2="218.70" stroke="#111" stroke-width="1.4" />
<line x1="386.20" y1="218.70" x2="389.90" y2="218.70" stroke="#111" stroke-width="1.0" />
<text x="383.80" y="221.40" font-size="7.7" text-anchor="end" font-weight="normal" font-style="normal" fill="#000"  stroke="#000" stroke-width="0.16">0</text>
<line x1="386.20" y1="206.08" x2="389.90" y2="206.08" stroke="#111" stroke-width="1.0" />
<text x="383.80" y="208.78" font-size="7.7" text-anchor="end" font-weight="normal" font-style="normal" fill="#000"  stroke="#000" stroke-width="0.16">50</text>
<line x1="386.20" y1="193.46" x2="389.90" y2="193.46" stroke="#111" stroke-width="1.0" />
<text x="383.80" y="196.16" font-size="7.7" text-anchor="end" font-weight="normal" font-style="normal" fill="#000"  stroke="#000" stroke-width="0.16">100</text>
<line x1="386.20" y1="180.84" x2="389.90" y2="180.84" stroke="#111" stroke-width="1.0" />
<text x="383.80" y="183.54" font-size="7.7" text-anchor="end" font-weight="normal" font-style="normal" fill="#000"  stroke="#000" stroke-width="0.16">150</text>
<line x1="386.20" y1="168.22" x2="389.90" y2="168.22" stroke="#111" stroke-width="1.0" />
<text x="383.80" y="170.92" font-size="7.7" text-anchor="end" font-weight="normal" font-style="normal" fill="#000"  stroke="#000" stroke-width="0.16">200</text>
<line x1="386.20" y1="155.60" x2="389.90" y2="155.60" stroke="#111" stroke-width="1.0" />
<text x="383.80" y="158.30" font-size="7.7" text-anchor="end" font-weight="normal" font-style="normal" fill="#000"  stroke="#000" stroke-width="0.16">250</text>
<line x1="399.30" y1="218.70" x2="399.30" y2="222.00" stroke="#111" stroke-width="1.0" />
<line x1="421.60" y1="218.70" x2="421.60" y2="222.00" stroke="#111" stroke-width="1.0" />
<line x1="443.60" y1="218.70" x2="443.60" y2="222.00" stroke="#111" stroke-width="1.0" />
<text transform="translate(364.10,187.30) rotate(-90) scale(0.8466,1)" font-size="8.7" text-anchor="middle" fill="#111">BMP4 (pg)</text>
<line x1="399.40" y1="182.00" x2="399.40" y2="187.40" stroke="#111" stroke-width="0.9" />
<line x1="396.30" y1="182.00" x2="402.50" y2="182.00" stroke="#111" stroke-width="0.9" />
<line x1="396.30" y1="187.40" x2="402.50" y2="187.40" stroke="#111" stroke-width="0.9" />
<line x1="421.80" y1="173.50" x2="421.80" y2="180.10" stroke="#111" stroke-width="0.9" />
<line x1="418.50" y1="173.50" x2="425.10" y2="173.50" stroke="#111" stroke-width="0.9" />
<line x1="418.50" y1="180.10" x2="425.10" y2="180.10" stroke="#111" stroke-width="0.9" />
<line x1="444.60" y1="188.60" x2="444.60" y2="191.40" stroke="#111" stroke-width="0.9" />
<line x1="441.20" y1="188.60" x2="448.00" y2="188.60" stroke="#111" stroke-width="0.9" />
<line x1="441.20" y1="191.40" x2="448.00" y2="191.40" stroke="#111" stroke-width="0.9" />
<circle cx="399.20" cy="179.60" r="1.7" fill="#2fb34a"/>
<circle cx="399.10" cy="183.30" r="1.7" fill="#2fb34a"/>
<circle cx="399.40" cy="186.80" r="1.7" fill="#2fb34a"/>
<circle cx="399.20" cy="190.20" r="1.7" fill="#2fb34a"/>
<circle cx="418.50" cy="173.60" r="1.7" fill="#0b4f8a"/>
<circle cx="424.80" cy="174.20" r="1.7" fill="#0b4f8a"/>
<circle cx="421.30" cy="182.90" r="1.7" fill="#0b4f8a"/>
<circle cx="440.50" cy="187.40" r="1.7" fill="#0f6b55"/>
<circle cx="440.10" cy="191.80" r="1.7" fill="#0f6b55"/>
<circle cx="446.80" cy="190.20" r="1.7" fill="#0f6b55"/>
<line x1="401.70" y1="160.00" x2="440.70" y2="160.00" stroke="#444" stroke-width="1.25" />
<line x1="401.70" y1="168.80" x2="421.20" y2="168.80" stroke="#444" stroke-width="1.25" />
<text x="421.00" y="157.00" font-size="7.2" text-anchor="middle" font-weight="normal" font-style="normal" fill="#111"  stroke="#111" stroke-width="0.16">ns</text>
<text x="411.20" y="171.00" font-size="12" text-anchor="middle" font-weight="normal" font-style="normal" fill="#222" stroke="#222" stroke-width="0.15">*</text>
<text x="389.30" y="230.40" font-size="7.4" text-anchor="end" fill="#111">ZnSO<tspan font-size="5.18" dy="1.6">4</tspan></text>
<text x="385.80" y="240.20" font-size="7.2" text-anchor="end" font-weight="normal" font-style="normal" fill="#111"  stroke="#111" stroke-width="0.16">iERK</text>
<text x="399.60" y="230.48" font-size="7.36" text-anchor="middle" font-weight="normal" font-style="normal" fill="#222"  stroke="#222" stroke-width="0.16">−</text>
<text x="399.60" y="240.78" font-size="7.36" text-anchor="middle" font-weight="normal" font-style="normal" fill="#222"  stroke="#222" stroke-width="0.16">−</text>
<text x="421.60" y="230.62" font-size="7.73" text-anchor="middle" font-weight="normal" font-style="normal" fill="#222"  stroke="#222" stroke-width="0.16">+</text>
<text x="421.60" y="240.78" font-size="7.36" text-anchor="middle" font-weight="normal" font-style="normal" fill="#222"  stroke="#222" stroke-width="0.16">−</text>
<text x="443.60" y="230.62" font-size="7.73" text-anchor="middle" font-weight="normal" font-style="normal" fill="#222"  stroke="#222" stroke-width="0.16">+</text>
<text x="443.60" y="240.92" font-size="7.73" text-anchor="middle" font-weight="normal" font-style="normal" fill="#222"  stroke="#222" stroke-width="0.16">+</text>
<text x="7.80" y="267.60" font-size="11.5" text-anchor="start" font-weight="bold" font-style="normal" fill="#000" >E</text>
<text x="22.30" y="279.80" font-size="9.0" text-anchor="start" font-weight="normal" font-style="normal" fill="#111"  stroke="#111" stroke-width="0.16">Day 0</text>
<text x="22.30" y="395.00" font-size="9.0" text-anchor="start" font-weight="normal" font-style="normal" fill="#111"  stroke="#111" stroke-width="0.16">Day 4</text>
<defs>
<filter id="nzA" x="0" y="0" width="100%" height="100%" color-interpolation-filters="sRGB">
 <feTurbulence type="fractalNoise" baseFrequency="0.28" numOctaves="3" seed="4" result="n"/>
 <feColorMatrix in="n" type="matrix" values="0 0 0 0 0.07  0 0 0 0 0.40  0 0 0 0 0.30  0 2.6 0 0 -1.0"/>
</filter>
<filter id="nzB" x="0" y="0" width="100%" height="100%" color-interpolation-filters="sRGB">
 <feTurbulence type="fractalNoise" baseFrequency="0.6" numOctaves="2" seed="11" result="n"/>
 <feColorMatrix in="n" type="matrix" values="0 0 0 0 0.12  0 0 0 0 0.62  0 0 0 0 0.32  0 3.4 0 0 -1.35"/>
 <feGaussianBlur stdDeviation="0.35"/>
</filter>
<filter id="nzD" x="0" y="0" width="100%" height="100%" color-interpolation-filters="sRGB">
 <feTurbulence type="fractalNoise" baseFrequency="0.3" numOctaves="3" seed="23" result="n"/>
 <feColorMatrix in="n" type="matrix" values="0 0 0 0 0.0  0 0 0 0 0.03  0 0 0 0 0.08  2.8 0 0 0 -1.25"/>
</filter>
<filter id="nzL" x="0" y="0" width="100%" height="100%" color-interpolation-filters="sRGB">
 <feTurbulence type="fractalNoise" baseFrequency="0.18" numOctaves="3" seed="5" result="n"/>
 <feColorMatrix in="n" type="matrix" values="0 0 0 0 0.08  0 0 0 0 0.28  0 0 0 0 0.78  0 0 2.4 0 -0.95"/>
</filter>
<filter id="nzT" x="0" y="0" width="100%" height="100%" color-interpolation-filters="sRGB">
 <feTurbulence type="fractalNoise" baseFrequency="0.12" numOctaves="2" seed="9" result="n"/>
 <feColorMatrix in="n" type="matrix" values="0 0 0 0 0.06  0 0 0 0 0.36  0 0 0 0 0.34  0 2.4 0 0 -0.95"/>
</filter>
<filter id="org" x="-5%" y="-5%" width="110%" height="110%">
 <feTurbulence type="fractalNoise" baseFrequency="0.09" numOctaves="3" seed="2" result="t"/>
 <feDisplacementMap in="SourceGraphic" in2="t" scale="5" xChannelSelector="R" yChannelSelector="G" result="d"/>
 <feGaussianBlur in="d" stdDeviation="0.35"/>
</filter>
<filter id="org2" x="-5%" y="-5%" width="110%" height="110%">
 <feTurbulence type="fractalNoise" baseFrequency="0.12" numOctaves="3" seed="8" result="t"/>
 <feDisplacementMap in="SourceGraphic" in2="t" scale="3" xChannelSelector="R" yChannelSelector="G" result="d"/>
 <feGaussianBlur in="d" stdDeviation="0.3"/>
</filter>
<filter id="bl1"><feGaussianBlur stdDeviation="0.9"/></filter>
<filter id="bl05"><feGaussianBlur stdDeviation="0.4"/></filter>
<filter id="bl2"><feGaussianBlur stdDeviation="1.6"/></filter>
<filter id="bl4"><feGaussianBlur stdDeviation="4"/></filter>
<radialGradient id="gglow" cx="0.5" cy="0.5" r="0.5"><stop offset="0" stop-color="#1f8a6a" stop-opacity="0.65"/><stop offset="1" stop-color="#1f8a6a" stop-opacity="0"/></radialGradient>
</defs>
<clipPath id="ci1"><rect x="21.3" y="283.8" width="103.8" height="92.0"/></clipPath>
<rect x="21.3" y="283.8" width="103.8" height="92.0" fill="#010402"/>
<g clip-path="url(#ci1)">
<rect x="21.3" y="294.3" width="102.8" height="58.0" fill="#02100a"/>
<rect x="27.3" y="341.8" width="62" height="27" fill="#020d08"/>
<clipPath id="ct1"><path d="M27.69 312.31 C27.26 309.72 27.73 307.14 28.34 305.41 C28.95 303.69 29.49 303.15 31.35 301.97 C33.22 300.78 36.56 299.38 39.54 298.31 C42.52 297.23 45.82 295.40 49.23 295.51 C52.64 295.61 56.59 297.41 60.00 298.95 C63.41 300.50 67.29 303.33 69.69 304.77 C72.10 306.20 72.89 308.11 74.43 307.57 C75.97 307.03 77.59 302.79 78.95 301.54 C80.32 300.28 81.36 300.03 82.61 300.03 C83.87 300.03 84.87 301.36 86.49 301.54 C88.11 301.72 89.90 301.04 92.31 301.11 C94.71 301.18 97.87 301.18 100.92 301.97 C103.97 302.76 107.81 304.19 110.61 305.85 C113.41 307.50 116.00 309.65 117.72 311.88 C119.44 314.10 120.88 316.43 120.95 319.20 C121.02 321.96 119.87 325.66 118.15 328.46 C116.43 331.26 113.13 333.31 110.61 336.00 C108.10 338.69 105.59 342.10 103.07 344.61 C100.56 347.13 98.23 349.46 95.54 351.07 C92.84 352.69 90.15 353.52 86.92 354.31 C83.69 355.10 79.02 355.45 76.15 355.81 C73.28 356.17 71.31 357.07 69.69 356.46 C68.08 355.85 67.47 353.34 66.46 352.15 C65.45 350.97 64.38 349.17 63.66 349.35 C62.94 349.53 63.12 351.51 62.15 353.23 C61.18 354.95 59.75 357.90 57.84 359.69 C55.94 361.48 52.78 364.07 50.74 364.00 C48.69 363.93 47.43 361.41 45.57 359.26 C43.70 357.11 41.44 353.87 39.54 351.07 C37.64 348.27 35.41 345.69 34.15 342.46 C32.90 339.23 32.54 335.28 32.00 331.69 C31.46 328.10 31.64 324.15 30.92 320.92 C30.20 317.69 28.12 314.89 27.69 312.31 Z"/></clipPath>
<g filter="url(#org2)">
<path d="M27.69 312.31 C27.26 309.72 27.73 307.14 28.34 305.41 C28.95 303.69 29.49 303.15 31.35 301.97 C33.22 300.78 36.56 299.38 39.54 298.31 C42.52 297.23 45.82 295.40 49.23 295.51 C52.64 295.61 56.59 297.41 60.00 298.95 C63.41 300.50 67.29 303.33 69.69 304.77 C72.10 306.20 72.89 308.11 74.43 307.57 C75.97 307.03 77.59 302.79 78.95 301.54 C80.32 300.28 81.36 300.03 82.61 300.03 C83.87 300.03 84.87 301.36 86.49 301.54 C88.11 301.72 89.90 301.04 92.31 301.11 C94.71 301.18 97.87 301.18 100.92 301.97 C103.97 302.76 107.81 304.19 110.61 305.85 C113.41 307.50 116.00 309.65 117.72 311.88 C119.44 314.10 120.88 316.43 120.95 319.20 C121.02 321.96 119.87 325.66 118.15 328.46 C116.43 331.26 113.13 333.31 110.61 336.00 C108.10 338.69 105.59 342.10 103.07 344.61 C100.56 347.13 98.23 349.46 95.54 351.07 C92.84 352.69 90.15 353.52 86.92 354.31 C83.69 355.10 79.02 355.45 76.15 355.81 C73.28 356.17 71.31 357.07 69.69 356.46 C68.08 355.85 67.47 353.34 66.46 352.15 C65.45 350.97 64.38 349.17 63.66 349.35 C62.94 349.53 63.12 351.51 62.15 353.23 C61.18 354.95 59.75 357.90 57.84 359.69 C55.94 361.48 52.78 364.07 50.74 364.00 C48.69 363.93 47.43 361.41 45.57 359.26 C43.70 357.11 41.44 353.87 39.54 351.07 C37.64 348.27 35.41 345.69 34.15 342.46 C32.90 339.23 32.54 335.28 32.00 331.69 C31.46 328.10 31.64 324.15 30.92 320.92 C30.20 317.69 28.12 314.89 27.69 312.31 Z" fill="#0b2b5e" stroke="#174aa6" stroke-width="1.0" filter="url(#bl05)"/>
<g clip-path="url(#ct1)">
<rect x="21.3" y="283.8" width="103.8" height="92.0" filter="url(#nzT)" opacity="0.3"/>
<rect x="21.3" y="283.8" width="103.8" height="92.0" filter="url(#nzD)" opacity="0.2"/>
<path d="M43.85 314.46 C44.92 315.54 48.15 318.59 50.31 320.92 C52.46 323.26 54.97 326.31 56.77 328.46 C58.56 330.61 60.36 332.95 61.08 333.84" fill="none" stroke="#1c6a5a" stroke-width="3" opacity="0.55" filter="url(#bl2)"/>
<path d="M67.54 330.61 C68.97 331.33 72.92 332.95 76.15 334.92 C79.38 336.90 84.05 340.13 86.92 342.46 C89.79 344.79 92.31 347.84 93.38 348.92" fill="none" stroke="#1c6a5a" stroke-width="2.5" opacity="0.5" filter="url(#bl2)"/>
</g>
<path d="M63.23 338.15 C63.37 338.87 64.05 340.59 64.09 342.46 C64.13 344.33 63.55 348.20 63.44 349.35" fill="none" stroke="#020812" stroke-width="0.7" opacity="0.55"/>
</g>
<circle cx="74.43" cy="301.54" r="1.0" fill="#2fd060"/>
<circle cx="82.18" cy="330.61" r="0.9" fill="#3aa0ff"/>
<circle cx="79.38" cy="328.46" r="0.6" fill="#30d070"/>
<circle cx="64.31" cy="353.87" r="0.8" fill="#28b850"/>
<circle cx="40.61" cy="352.15" r="0.6" fill="#30d070"/>
<circle cx="26.62" cy="301.54" r="1.4" fill="#2a6ad8"/>
<circle cx="24.03" cy="329.11" r="0.5" fill="#1fa040"/>
<circle cx="109.10" cy="343.11" r="0.7" fill="#2a6ad8"/>
<circle cx="83.69" cy="299.81" r="0.9" fill="#1f8a50"/>
<circle cx="95.11" cy="349.35" r="0.6" fill="#28b850"/>
<line x1="21.88" y1="329.32" x2="27.69" y2="329.32" stroke="#1a8a3a" stroke-width="0.6"/>
</g>
<text x="113.3" y="369.2" font-size="7" text-anchor="middle" fill="#f4f4f4">1mm</text>
<line x1="105" y1="371.7" x2="121.6" y2="371.7" stroke="#fff" stroke-width="0.9"/>
<clipPath id="ci2"><rect x="135.5" y="283.8" width="85.3" height="85.3"/></clipPath>
<rect x="135.5" y="283.8" width="85.3" height="85.3" fill="#0a2049"/>
<g clip-path="url(#ci2)">
<ellipse cx="189.35" cy="294.33" rx="28" ry="18" fill="url(#gglow)" opacity="0.55"/>
<ellipse cx="199.59" cy="331.17" rx="18" ry="22" fill="url(#gglow)" opacity="0.25"/>
<path d="M168.89 288.19 C166.84 291.26 160.70 300.13 156.61 306.61 C152.51 313.09 147.74 321.62 144.33 327.07 C140.92 332.53 137.50 337.31 136.14 339.35" fill="none" stroke="#071c34" stroke-width="4" opacity="0.8" filter="url(#bl2)"/>
<path d="M197.54 296.37 C199.25 299.10 204.36 307.97 207.77 312.75 C211.18 317.52 215.62 321.62 218.01 325.03 C220.39 328.44 221.42 331.85 222.10 333.21" fill="none" stroke="#12386a" stroke-width="5" opacity="0.7" filter="url(#bl2)"/>
<ellipse cx="136.14" cy="341.40" rx="2.2" ry="7" fill="#020806" filter="url(#bl1)"/>
<ellipse cx="156.61" cy="351.63" rx="7" ry="4" fill="#081c44" opacity="0.8" filter="url(#bl2)"/>
<rect x="135.5" y="283.8" width="85.3" height="85.3" filter="url(#nzD)" opacity="0.3"/>
<circle cx="163.1" cy="296.7" r="0.45" fill="#27a060" opacity="0.52"/>
<circle cx="205.6" cy="291.8" r="0.45" fill="#27a060" opacity="0.53"/>
<circle cx="178.8" cy="287.0" r="0.35" fill="#27a060" opacity="0.69"/>
<circle cx="156.0" cy="330.8" r="0.3" fill="#27a060" opacity="0.87"/>
<circle cx="146.1" cy="302.8" r="0.45" fill="#27a060" opacity="0.76"/>
<circle cx="140.8" cy="333.7" r="0.3" fill="#27a060" opacity="0.94"/>
<circle cx="139.5" cy="357.0" r="0.35" fill="#27a060" opacity="0.69"/>
<circle cx="181.6" cy="332.5" r="0.45" fill="#27a060" opacity="0.87"/>
<circle cx="150.9" cy="333.4" r="0.45" fill="#27a060" opacity="0.58"/>
<circle cx="143.8" cy="344.5" r="0.45" fill="#27a060" opacity="0.53"/>
<circle cx="153.1" cy="341.8" r="0.35" fill="#27a060" opacity="0.85"/>
<circle cx="175.2" cy="362.6" r="0.35" fill="#27a060" opacity="0.63"/>
<circle cx="203.3" cy="343.4" r="0.3" fill="#27a060" opacity="0.54"/>
<circle cx="161.1" cy="326.0" r="0.35" fill="#27a060" opacity="0.83"/>
<circle cx="160.1" cy="367.4" r="0.3" fill="#27a060" opacity="0.73"/>
<circle cx="149.6" cy="313.0" r="0.35" fill="#27a060" opacity="0.69"/>
<circle cx="217.6" cy="290.4" r="0.45" fill="#27a060" opacity="0.76"/>
<circle cx="210.2" cy="310.6" r="0.45" fill="#27a060" opacity="0.66"/>
<circle cx="177.9" cy="351.8" r="0.3" fill="#27a060" opacity="0.88"/>
<circle cx="216.1" cy="324.2" r="0.45" fill="#27a060" opacity="0.53"/>
<circle cx="197.9" cy="310.2" r="0.45" fill="#27a060" opacity="0.95"/>
<circle cx="205.6" cy="308.1" r="0.35" fill="#27a060" opacity="0.90"/>
<circle cx="165.1" cy="364.0" r="0.35" fill="#27a060" opacity="0.58"/>
<circle cx="145.5" cy="288.8" r="0.35" fill="#27a060" opacity="0.56"/>
<circle cx="156.6" cy="317.1" r="0.35" fill="#27a060" opacity="0.54"/>
<circle cx="173.8" cy="330.7" r="0.3" fill="#27a060" opacity="0.87"/>
<circle cx="209.2" cy="307.5" r="0.35" fill="#27a060" opacity="0.94"/>
<circle cx="193.7" cy="316.3" r="0.3" fill="#27a060" opacity="0.57"/>
<circle cx="150.5" cy="303.6" r="0.3" fill="#27a060" opacity="0.51"/>
<circle cx="206.4" cy="299.4" r="0.35" fill="#27a060" opacity="0.50"/>
<circle cx="171.2" cy="315.3" r="0.45" fill="#27a060" opacity="0.64"/>
<circle cx="146.2" cy="357.1" r="0.45" fill="#27a060" opacity="0.79"/>
<circle cx="198.6" cy="322.8" r="0.45" fill="#27a060" opacity="0.86"/>
<circle cx="169.0" cy="317.8" r="0.3" fill="#27a060" opacity="0.72"/>
<circle cx="169.7" cy="300.1" r="0.3" fill="#27a060" opacity="0.70"/>
<circle cx="144.9" cy="335.0" r="0.3" fill="#27a060" opacity="0.50"/>
<circle cx="148.4" cy="292.5" r="0.35" fill="#27a060" opacity="0.78"/>
<circle cx="141.5" cy="301.5" r="0.35" fill="#27a060" opacity="0.57"/>
<circle cx="157.0" cy="313.4" r="0.35" fill="#27a060" opacity="0.71"/>
<circle cx="145.3" cy="325.4" r="0.35" fill="#27a060" opacity="0.72"/>
<circle cx="162.1" cy="296.1" r="0.45" fill="#27a060" opacity="0.65"/>
<circle cx="158.1" cy="354.5" r="0.3" fill="#27a060" opacity="0.73"/>
<circle cx="153.0" cy="365.0" r="0.35" fill="#27a060" opacity="0.57"/>
<circle cx="181.8" cy="286.1" r="0.45" fill="#27a060" opacity="0.63"/>
<circle cx="190.3" cy="291.6" r="0.35" fill="#27a060" opacity="0.73"/>
<circle cx="213.0" cy="314.1" r="0.3" fill="#27a060" opacity="0.74"/>
<circle cx="202.0" cy="311.9" r="0.3" fill="#27a060" opacity="0.78"/>
<circle cx="202.8" cy="348.5" r="0.3" fill="#27a060" opacity="0.86"/>
<circle cx="205.3" cy="346.9" r="0.3" fill="#27a060" opacity="0.59"/>
<circle cx="177.5" cy="346.2" r="0.3" fill="#27a060" opacity="0.86"/>
<circle cx="175.8" cy="300.3" r="0.45" fill="#27a060" opacity="0.93"/>
<circle cx="173.6" cy="363.7" r="0.35" fill="#27a060" opacity="0.93"/>
<circle cx="166.6" cy="302.6" r="0.3" fill="#27a060" opacity="0.71"/>
<circle cx="164.3" cy="325.0" r="0.45" fill="#27a060" opacity="0.88"/>
<circle cx="176.4" cy="339.5" r="0.45" fill="#27a060" opacity="0.54"/>
<circle cx="191.8" cy="361.4" r="0.45" fill="#27a060" opacity="0.84"/>
<circle cx="176.3" cy="299.0" r="0.45" fill="#27a060" opacity="0.65"/>
<circle cx="203.8" cy="366.7" r="0.35" fill="#27a060" opacity="0.71"/>
<circle cx="198.9" cy="291.0" r="0.3" fill="#27a060" opacity="0.58"/>
<circle cx="146.3" cy="296.7" r="0.35" fill="#27a060" opacity="0.86"/>
<circle cx="148.0" cy="354.3" r="0.35" fill="#27a060" opacity="0.80"/>
<circle cx="165.4" cy="330.6" r="0.3" fill="#27a060" opacity="0.51"/>
<circle cx="203.7" cy="345.8" r="0.3" fill="#27a060" opacity="0.74"/>
<circle cx="215.1" cy="320.8" r="0.3" fill="#27a060" opacity="0.87"/>
<circle cx="153.5" cy="305.3" r="0.35" fill="#27a060" opacity="0.73"/>
<circle cx="200.6" cy="311.6" r="0.45" fill="#27a060" opacity="0.69"/>
<circle cx="146.7" cy="361.4" r="0.35" fill="#27a060" opacity="0.90"/>
<circle cx="192.0" cy="353.3" r="0.45" fill="#27a060" opacity="0.69"/>
<circle cx="213.8" cy="326.6" r="0.45" fill="#27a060" opacity="0.57"/>
<circle cx="179.0" cy="358.3" r="0.3" fill="#27a060" opacity="0.77"/>
<circle cx="201.7" cy="296.6" r="0.3" fill="#27a060" opacity="0.71"/>
<circle cx="197.4" cy="331.3" r="0.35" fill="#27a060" opacity="0.81"/>
<circle cx="180.8" cy="325.0" r="0.3" fill="#27a060" opacity="0.90"/>
<circle cx="140.3" cy="300.1" r="0.3" fill="#27a060" opacity="0.85"/>
<circle cx="178.8" cy="331.7" r="0.3" fill="#27a060" opacity="0.70"/>
<circle cx="187.7" cy="326.9" r="0.45" fill="#27a060" opacity="0.59"/>
<circle cx="159.1" cy="327.1" r="0.35" fill="#27a060" opacity="0.73"/>
<circle cx="156.6" cy="328.4" r="0.35" fill="#27a060" opacity="0.92"/>
<circle cx="211.7" cy="301.1" r="0.35" fill="#27a060" opacity="0.56"/>
<circle cx="145.9" cy="321.5" r="0.3" fill="#27a060" opacity="0.80"/>
<circle cx="172.0" cy="301.9" r="0.35" fill="#27a060" opacity="0.85"/>
<circle cx="212.0" cy="297.0" r="0.45" fill="#27a060" opacity="0.79"/>
<circle cx="166.7" cy="305.4" r="0.3" fill="#27a060" opacity="0.94"/>
<circle cx="154.2" cy="365.0" r="0.35" fill="#27a060" opacity="0.90"/>
<circle cx="149.4" cy="340.8" r="0.3" fill="#27a060" opacity="0.57"/>
<circle cx="172.3" cy="327.8" r="0.35" fill="#27a060" opacity="0.69"/>
<circle cx="165.9" cy="291.7" r="0.35" fill="#27a060" opacity="0.51"/>
<circle cx="182.8" cy="321.4" r="0.3" fill="#27a060" opacity="0.67"/>
<circle cx="179.6" cy="309.0" r="0.3" fill="#27a060" opacity="0.55"/>
<circle cx="213.9" cy="303.3" r="0.3" fill="#27a060" opacity="0.54"/>
<circle cx="158.7" cy="361.1" r="0.3" fill="#27a060" opacity="0.62"/>
<circle cx="146.6" cy="319.8" r="0.45" fill="#27a060" opacity="0.87"/>
<circle cx="157.6" cy="296.5" r="0.45" fill="#27a060" opacity="0.76"/>
<circle cx="195.2" cy="291.4" r="0.3" fill="#27a060" opacity="0.86"/>
<circle cx="151.1" cy="360.2" r="0.35" fill="#27a060" opacity="0.92"/>
<circle cx="189.6" cy="352.2" r="0.3" fill="#27a060" opacity="0.77"/>
<circle cx="154.5" cy="306.4" r="0.3" fill="#27a060" opacity="0.70"/>
<circle cx="164.4" cy="331.0" r="0.35" fill="#27a060" opacity="0.78"/>
<circle cx="139.2" cy="344.3" r="0.3" fill="#27a060" opacity="0.94"/>
<circle cx="157.8" cy="299.3" r="0.35" fill="#27a060" opacity="0.78"/>
<circle cx="180.8" cy="301.4" r="0.35" fill="#27a060" opacity="0.73"/>
<circle cx="150.7" cy="313.4" r="0.3" fill="#27a060" opacity="0.95"/>
<circle cx="138.7" cy="285.4" r="0.45" fill="#27a060" opacity="0.75"/>
<circle cx="151.7" cy="324.3" r="0.35" fill="#27a060" opacity="0.55"/>
<circle cx="205.4" cy="320.7" r="0.35" fill="#27a060" opacity="0.75"/>
<circle cx="211.3" cy="366.6" r="0.35" fill="#27a060" opacity="0.81"/>
<circle cx="219.3" cy="313.0" r="0.45" fill="#27a060" opacity="0.83"/>
<circle cx="147.4" cy="368.2" r="0.3" fill="#27a060" opacity="0.88"/>
<circle cx="136.7" cy="337.2" r="0.35" fill="#27a060" opacity="0.69"/>
<circle cx="140.2" cy="340.5" r="0.35" fill="#27a060" opacity="0.89"/>
<circle cx="192.7" cy="307.8" r="0.3" fill="#27a060" opacity="0.81"/>
<circle cx="139.4" cy="299.6" r="0.35" fill="#27a060" opacity="0.70"/>
<circle cx="158.0" cy="365.8" r="0.45" fill="#27a060" opacity="0.65"/>
<circle cx="138.4" cy="359.1" r="0.3" fill="#27a060" opacity="0.66"/>
<circle cx="135.6" cy="316.4" r="0.35" fill="#27a060" opacity="0.63"/>
<circle cx="191.5" cy="305.0" r="0.3" fill="#27a060" opacity="0.54"/>
<circle cx="205.2" cy="296.1" r="0.45" fill="#27a060" opacity="0.52"/>
<circle cx="137.4" cy="309.8" r="0.3" fill="#27a060" opacity="0.54"/>
<circle cx="217.2" cy="356.6" r="0.3" fill="#27a060" opacity="0.80"/>
<circle cx="196.6" cy="358.8" r="0.35" fill="#27a060" opacity="0.84"/>
<path d="M135.5 292.69 l1.6 2.2 l0.8 1.8" stroke="#22c040" stroke-width="1.1" fill="none"/>
</g>
<text x="208.8" y="364.0" font-size="7" text-anchor="middle" fill="#f4f4f4">100µm</text>
<line x1="209.2" y1="367.6" x2="220" y2="367.6" stroke="#e8e8f0" stroke-width="0.9"/>
<clipPath id="ci3"><rect x="21.3" y="398.2" width="103.8" height="92.3"/></clipPath>
<rect x="21.3" y="398.2" width="103.8" height="92.3" fill="#03100a"/>
<g clip-path="url(#ci3)">
<rect x="21.3" y="398.2" width="21.2" height="24.2" fill="#000"/>
<g filter="url(#org)">
<path d="M40.22 441.88 C39.38 441.16 35.70 443.03 34.04 445.06 C32.39 447.09 31.39 451.31 30.30 454.05 C29.21 456.80 28.21 458.73 27.49 461.54 C26.77 464.35 25.93 467.85 25.99 470.91 C26.05 473.97 26.62 477.71 27.87 479.90 C29.11 482.08 31.20 483.48 33.48 484.01 C35.76 484.55 40.51 484.33 41.54 483.08 C42.57 481.83 40.60 478.55 39.66 476.52 C38.73 474.50 36.70 473.09 35.92 470.91 C35.14 468.72 34.83 465.91 34.98 463.42 C35.14 460.92 36.17 458.27 36.85 455.93 C37.54 453.58 38.54 451.71 39.10 449.37 C39.66 447.03 41.07 442.60 40.22 441.88 Z" fill="#14583e" opacity="0.7" filter="url(#bl05)"/>
<path d="M34.61 445.06 C33.89 446.56 31.49 451.31 30.30 454.05 C29.11 456.80 28.21 458.73 27.49 461.54 C26.77 464.35 25.93 467.85 25.99 470.91 C26.05 473.97 26.62 477.71 27.87 479.90 C29.11 482.08 32.55 483.33 33.48 484.01" fill="none" stroke="#2fb84c" stroke-width="1.5" stroke-linecap="round" filter="url(#bl1)"/>
<path d="M31.24 457.80 C31.55 458.73 33.05 461.23 33.11 463.42 C33.17 465.60 31.45 468.41 31.61 470.91 C31.77 473.40 33.64 477.15 34.04 478.40" fill="none" stroke="#0c3a30" stroke-width="1.6" opacity="0.8" filter="url(#bl05)"/>
<path d="M40.22 425.96 C40.91 424.87 42.91 423.62 43.97 424.09 C45.03 424.56 46.28 427.05 46.59 428.77 C46.90 430.49 46.59 433.45 45.84 434.39 C45.09 435.33 43.10 435.01 42.10 434.39 C41.10 433.77 40.16 432.05 39.85 430.64 C39.54 429.24 39.54 427.05 40.22 425.96 Z" fill="#2fbf4c" opacity="0.92" filter="url(#bl05)"/>
<path d="M56.52 401.24 C56.20 400.62 58.61 399.06 60.26 398.62 C61.92 398.18 65.29 398.12 66.44 398.62 C67.60 399.12 67.91 400.99 67.19 401.62 C66.47 402.24 63.91 402.43 62.13 402.37 C60.36 402.30 56.83 401.87 56.52 401.24 Z" fill="#33c650" opacity="0.92" filter="url(#bl05)"/>
<path d="M77.12 407.61 C77.49 406.71 79.21 407.17 79.93 408.36 C80.64 409.55 81.49 413.10 81.42 414.73 C81.36 416.35 80.17 418.25 79.55 418.10 C78.93 417.94 78.08 415.54 77.68 413.79 C77.27 412.04 76.74 408.52 77.12 407.61 Z" fill="#2aa84c" opacity="0.92" filter="url(#bl05)"/>
<path d="M62.13 484.01 C62.45 483.23 65.57 483.33 67.75 483.08 C69.94 482.83 73.84 482.05 75.24 482.52 C76.65 482.99 76.80 484.83 76.18 485.89 C75.56 486.95 73.21 488.57 71.50 488.88 C69.78 489.20 67.44 488.57 65.88 487.76 C64.32 486.95 61.82 484.80 62.13 484.01 Z" fill="#2db54c" opacity="0.92" filter="url(#bl05)"/>
<path d="M34.04 442.82 C34.04 441.88 36.70 440.63 37.79 440.57 C38.88 440.51 40.60 441.51 40.60 442.44 C40.60 443.38 38.88 446.12 37.79 446.19 C36.70 446.25 34.04 443.75 34.04 442.82 Z" fill="#2fae55" opacity="0.92" filter="url(#bl05)"/>
<path d="M118.80 448.84 C119.37 447.84 121.53 449.81 121.81 451.43 C122.10 453.04 121.09 457.53 120.52 458.54 C119.95 459.54 118.65 459.07 118.37 457.46 C118.08 455.84 118.22 449.85 118.80 448.84 Z" fill="#2aa84c" opacity="0.9" filter="url(#bl05)"/>
<clipPath id="ct3"><path d="M54.64 403.49 C56.20 402.40 58.08 400.99 60.26 400.68 C62.45 400.37 65.41 400.68 67.75 401.62 C70.09 402.55 72.59 404.11 74.31 406.30 C76.02 408.48 77.18 411.76 78.05 414.73 C78.93 417.69 79.18 420.97 79.55 424.09 C79.93 427.21 79.77 430.64 80.30 433.45 C80.83 436.26 82.02 438.29 82.73 440.94 C83.45 443.60 84.45 446.56 84.61 449.37 C84.76 452.18 83.98 454.83 83.67 457.80 C83.36 460.76 83.20 464.04 82.73 467.16 C82.27 470.28 81.95 474.03 80.86 476.52 C79.77 479.02 78.21 480.89 76.18 482.14 C74.15 483.39 71.19 483.77 68.69 484.01 C66.19 484.26 63.70 483.89 61.20 483.64 C58.70 483.39 56.20 482.92 53.71 482.52 C51.21 482.11 48.56 481.89 46.22 481.21 C43.88 480.52 41.38 479.80 39.66 478.40 C37.95 476.99 36.76 474.96 35.92 472.78 C35.07 470.59 34.61 467.79 34.61 465.29 C34.61 462.79 35.23 460.29 35.92 457.80 C36.60 455.30 38.10 452.49 38.73 450.31 C39.35 448.12 39.19 446.41 39.66 444.69 C40.13 442.97 40.44 441.41 41.54 440.01 C42.63 438.60 45.12 437.51 46.22 436.26 C47.31 435.01 48.09 433.92 48.09 432.52 C48.09 431.11 46.53 429.86 46.22 427.84 C45.91 425.81 45.91 422.84 46.22 420.34 C46.53 417.85 47.31 415.04 48.09 412.85 C48.87 410.67 49.81 408.80 50.90 407.24 C51.99 405.68 53.08 404.58 54.64 403.49 Z"/><path d="M86.92 410.08 C88.36 407.74 90.15 405.77 92.31 404.69 C94.46 403.62 97.33 403.08 99.84 403.62 C102.36 404.15 105.05 405.77 107.38 407.92 C109.72 410.08 112.05 413.31 113.84 416.54 C115.64 419.77 117.15 423.72 118.15 427.31 C119.16 430.90 119.69 434.49 119.87 438.08 C120.05 441.67 119.69 445.25 119.23 448.84 C118.76 452.43 118.15 456.02 117.07 459.61 C116.00 463.20 114.56 467.15 112.77 470.38 C110.97 473.61 108.64 476.84 106.30 479.00 C103.97 481.15 101.28 482.95 98.77 483.30 C96.25 483.66 93.38 482.59 91.23 481.15 C89.07 479.72 87.10 477.56 85.84 474.69 C84.59 471.82 84.23 467.51 83.69 463.92 C83.15 460.33 82.43 456.56 82.61 453.15 C82.79 449.74 84.73 447.05 84.77 443.46 C84.80 439.87 83.01 435.74 82.83 431.61 C82.65 427.49 83.01 422.28 83.69 418.69 C84.37 415.10 85.49 412.41 86.92 410.08 Z"/></clipPath>
<path d="M54.64 403.49 C56.20 402.40 58.08 400.99 60.26 400.68 C62.45 400.37 65.41 400.68 67.75 401.62 C70.09 402.55 72.59 404.11 74.31 406.30 C76.02 408.48 77.18 411.76 78.05 414.73 C78.93 417.69 79.18 420.97 79.55 424.09 C79.93 427.21 79.77 430.64 80.30 433.45 C80.83 436.26 82.02 438.29 82.73 440.94 C83.45 443.60 84.45 446.56 84.61 449.37 C84.76 452.18 83.98 454.83 83.67 457.80 C83.36 460.76 83.20 464.04 82.73 467.16 C82.27 470.28 81.95 474.03 80.86 476.52 C79.77 479.02 78.21 480.89 76.18 482.14 C74.15 483.39 71.19 483.77 68.69 484.01 C66.19 484.26 63.70 483.89 61.20 483.64 C58.70 483.39 56.20 482.92 53.71 482.52 C51.21 482.11 48.56 481.89 46.22 481.21 C43.88 480.52 41.38 479.80 39.66 478.40 C37.95 476.99 36.76 474.96 35.92 472.78 C35.07 470.59 34.61 467.79 34.61 465.29 C34.61 462.79 35.23 460.29 35.92 457.80 C36.60 455.30 38.10 452.49 38.73 450.31 C39.35 448.12 39.19 446.41 39.66 444.69 C40.13 442.97 40.44 441.41 41.54 440.01 C42.63 438.60 45.12 437.51 46.22 436.26 C47.31 435.01 48.09 433.92 48.09 432.52 C48.09 431.11 46.53 429.86 46.22 427.84 C45.91 425.81 45.91 422.84 46.22 420.34 C46.53 417.85 47.31 415.04 48.09 412.85 C48.87 410.67 49.81 408.80 50.90 407.24 C51.99 405.68 53.08 404.58 54.64 403.49 Z" fill="#0d3078" stroke="#1d7a62" stroke-width="1.3" filter="url(#bl05)"/>
<path d="M86.92 410.08 C88.36 407.74 90.15 405.77 92.31 404.69 C94.46 403.62 97.33 403.08 99.84 403.62 C102.36 404.15 105.05 405.77 107.38 407.92 C109.72 410.08 112.05 413.31 113.84 416.54 C115.64 419.77 117.15 423.72 118.15 427.31 C119.16 430.90 119.69 434.49 119.87 438.08 C120.05 441.67 119.69 445.25 119.23 448.84 C118.76 452.43 118.15 456.02 117.07 459.61 C116.00 463.20 114.56 467.15 112.77 470.38 C110.97 473.61 108.64 476.84 106.30 479.00 C103.97 481.15 101.28 482.95 98.77 483.30 C96.25 483.66 93.38 482.59 91.23 481.15 C89.07 479.72 87.10 477.56 85.84 474.69 C84.59 471.82 84.23 467.51 83.69 463.92 C83.15 460.33 82.43 456.56 82.61 453.15 C82.79 449.74 84.73 447.05 84.77 443.46 C84.80 439.87 83.01 435.74 82.83 431.61 C82.65 427.49 83.01 422.28 83.69 418.69 C84.37 415.10 85.49 412.41 86.92 410.08 Z" fill="#0c2f80" stroke="#1d7668" stroke-width="1.3" filter="url(#bl05)"/>
<g clip-path="url(#ct3)">
<rect x="21.3" y="398.2" width="103.8" height="92.3" filter="url(#nzA)" opacity="0.55"/>
<rect x="21.3" y="398.2" width="103.8" height="92.3" filter="url(#nzL)" opacity="0.15"/>
<rect x="21.3" y="398.2" width="103.8" height="92.3" filter="url(#nzD)" opacity="0.4"/>
<path d="M52.77 427.46 C53.55 427.15 55.89 426.15 57.45 425.59 C59.01 425.03 60.89 424.65 62.13 424.09 C63.38 423.53 64.48 422.53 64.94 422.22" fill="none" stroke="#030c16" stroke-width="0.9" opacity="0.75" filter="url(#bl05)"/>
<path d="M48.09 442.82 C49.03 442.97 51.99 443.28 53.71 443.75 C55.42 444.22 56.67 444.47 58.39 445.63 C60.11 446.78 63.07 449.84 64.01 450.68" fill="none" stroke="#030c16" stroke-width="0.9" opacity="0.75" filter="url(#bl05)"/>
<path d="M56.52 461.92 C57.30 461.86 59.79 461.36 61.20 461.54 C62.60 461.73 64.32 462.79 64.94 463.04" fill="none" stroke="#030c16" stroke-width="0.9" opacity="0.75" filter="url(#bl05)"/>
<path d="M42.47 452.18 C43.41 453.12 46.69 456.24 48.09 457.80 C49.49 459.36 50.43 460.92 50.90 461.54" fill="none" stroke="#030c16" stroke-width="0.9" opacity="0.75" filter="url(#bl05)"/>
<path d="M60.26 452.18 C60.89 451.87 62.92 450.31 64.01 450.31 C65.10 450.31 66.35 451.87 66.82 452.18" fill="none" stroke="#030c16" stroke-width="0.9" opacity="0.75" filter="url(#bl05)"/>
<path d="M102.00 416.54 C102.72 416.36 105.41 415.10 106.30 415.46 C107.20 415.82 107.20 418.15 107.38 418.69" fill="none" stroke="#030c16" stroke-width="0.8" opacity="0.7" filter="url(#bl05)"/>
<path d="M104.15 425.15 C105.23 425.51 109.18 427.13 110.61 427.31 C112.05 427.49 112.41 426.41 112.77 426.23" fill="none" stroke="#030c16" stroke-width="0.8" opacity="0.7" filter="url(#bl05)"/>
</g>
</g>
<circle cx="120.95" cy="404.05" r="1.1" fill="#2a7af0"/>
</g>
<text x="113.3" y="485.7" font-size="7" text-anchor="middle" fill="#f4f4f4">1mm</text>
<line x1="105" y1="487.8" x2="121.6" y2="487.8" stroke="#fff" stroke-width="0.9"/>
<clipPath id="ci4"><rect x="135.6" y="398.7" width="85.1" height="84.2"/></clipPath>
<rect x="135.6" y="398.7" width="85.1" height="84.2" fill="#0f3862"/>
<g clip-path="url(#ci4)">
<ellipse cx="166.59" cy="436.45" rx="30" ry="38" fill="url(#gglow)" opacity="0.6"/>
<ellipse cx="202.61" cy="448.46" rx="22" ry="20" fill="#1244a0" opacity="0.35" filter="url(#bl4)"/>
<rect x="135.6" y="398.7" width="85.1" height="84.2" filter="url(#nzL)" opacity="0.35"/>
<rect x="135.6" y="398.7" width="85.1" height="84.2" filter="url(#nzB)" opacity="0.42"/>
<rect x="135.6" y="398.7" width="14" height="84.2" fill="#0c2f78" opacity="0.45" filter="url(#bl4)"/>
<rect x="197.6" y="428.7" width="24" height="40" fill="#0c2f88" opacity="0.4" filter="url(#bl4)"/>
<rect x="135.6" y="398.7" width="85.1" height="84.2" filter="url(#nzD)" opacity="0.55"/>
<path d="M153.21 398.72 C153.84 398.09 157.44 398.14 159.73 398.37 C162.02 398.60 165.85 399.17 166.93 400.09 C168.02 401.00 167.16 403.35 166.25 403.86 C165.33 404.38 163.16 403.46 161.44 403.17 C159.73 402.89 157.33 402.89 155.96 402.15 C154.58 401.40 152.58 399.34 153.21 398.72 Z" fill="#03100f" opacity="0.72" filter="url(#bl1)"/>
<path d="M191.98 399.06 C192.98 398.34 196.78 398.34 199.18 398.72 C201.58 399.09 204.95 400.00 206.38 401.29 C207.81 402.57 208.39 405.66 207.76 406.43 C207.13 407.21 204.27 406.21 202.61 405.92 C200.95 405.63 199.38 405.20 197.81 404.72 C196.24 404.23 194.15 403.95 193.18 403.00 C192.20 402.06 190.98 399.77 191.98 399.06 Z" fill="#03100f" opacity="0.72" filter="url(#bl1)"/>
<path d="M200.04 404.72 C200.32 403.66 204.13 404.52 206.04 405.23 C207.96 405.95 210.82 407.75 211.53 409.01 C212.24 410.26 211.53 412.35 210.33 412.78 C209.13 413.21 206.04 412.92 204.33 411.58 C202.61 410.24 199.75 405.78 200.04 404.72 Z" fill="#03100f" opacity="0.72" filter="url(#bl1)"/>
<path d="M167.62 414.15 C168.11 413.35 171.16 413.70 172.08 414.50 C172.99 415.30 173.59 418.15 173.11 418.96 C172.62 419.76 170.08 420.10 169.16 419.30 C168.25 418.50 167.13 414.95 167.62 414.15 Z" fill="#03100f" opacity="0.72" filter="url(#bl1)"/>
<path d="M172.08 419.64 C172.65 418.98 175.68 419.41 176.54 420.16 C177.40 420.90 177.80 423.44 177.22 424.10 C176.65 424.76 173.97 424.84 173.11 424.10 C172.25 423.36 171.51 420.30 172.08 419.64 Z" fill="#03100f" opacity="0.72" filter="url(#bl1)"/>
<path d="M202.95 417.58 C203.81 416.24 208.04 416.38 209.47 417.24 C210.90 418.10 211.53 421.10 211.53 422.73 C211.53 424.36 210.67 426.59 209.47 427.02 C208.27 427.45 205.41 426.87 204.33 425.30 C203.24 423.73 202.10 418.93 202.95 417.58 Z" fill="#03100f" opacity="0.72" filter="url(#bl1)"/>
<path d="M199.18 423.07 C199.55 422.07 202.38 422.64 203.47 423.59 C204.55 424.53 206.07 427.73 205.70 428.73 C205.33 429.73 202.32 430.53 201.24 429.59 C200.15 428.65 198.81 424.07 199.18 423.07 Z" fill="#03100f" opacity="0.72" filter="url(#bl1)"/>
<path d="M180.31 430.45 C180.80 429.62 182.94 428.88 184.60 428.73 C186.26 428.59 189.20 428.53 190.26 429.59 C191.32 430.65 191.75 434.08 190.95 435.08 C190.15 436.08 187.00 435.82 185.46 435.59 C183.91 435.36 182.54 434.56 181.68 433.71 C180.83 432.85 179.83 431.28 180.31 430.45 Z" fill="#03100f" opacity="0.72" filter="url(#bl1)"/>
<path d="M187.17 437.48 C187.83 436.85 191.12 437.19 191.98 437.82 C192.83 438.45 192.98 440.62 192.32 441.25 C191.66 441.88 188.89 442.23 188.03 441.60 C187.17 440.97 186.52 438.11 187.17 437.48 Z" fill="#03100f" opacity="0.72" filter="url(#bl1)"/>
<path d="M209.81 429.59 C210.44 428.45 212.79 428.59 214.62 428.73 C216.45 428.88 219.76 428.59 220.79 430.45 C221.82 432.31 221.82 438.45 220.79 439.88 C219.76 441.31 216.28 439.74 214.62 439.02 C212.96 438.31 211.64 437.17 210.84 435.59 C210.04 434.02 209.19 430.73 209.81 429.59 Z" fill="#03100f" opacity="0.72" filter="url(#bl1)"/>
<path d="M199.52 464.24 C200.15 463.09 204.33 463.18 206.04 463.55 C207.76 463.92 209.47 465.27 209.81 466.47 C210.16 467.67 209.36 470.10 208.10 470.76 C206.84 471.41 203.70 471.50 202.27 470.41 C200.84 469.33 198.89 465.38 199.52 464.24 Z" fill="#03100f" opacity="0.72" filter="url(#bl1)"/>
<path d="M209.47 460.81 C210.47 459.75 214.45 459.38 216.33 459.61 C218.22 459.84 220.05 460.61 220.79 462.18 C221.54 463.75 221.82 467.95 220.79 469.04 C219.76 470.13 216.36 469.21 214.62 468.70 C212.87 468.18 211.19 467.27 210.33 465.95 C209.47 464.64 208.47 461.87 209.47 460.81 Z" fill="#03100f" opacity="0.72" filter="url(#bl1)"/>
<path d="M187.17 469.04 C187.69 468.13 191.18 467.98 192.32 468.70 C193.46 469.41 194.55 472.41 194.03 473.33 C193.52 474.24 190.38 474.90 189.23 474.19 C188.09 473.47 186.66 469.96 187.17 469.04 Z" fill="#03100f" opacity="0.72" filter="url(#bl1)"/>
<path d="M135.37 431.31 C135.77 427.59 137.43 429.30 137.77 433.02 C138.12 436.74 137.83 449.89 137.43 453.60 C137.03 457.32 135.72 459.04 135.37 455.32 C135.03 451.60 134.97 435.02 135.37 431.31 Z" fill="#03100f" opacity="0.72" filter="url(#bl1)"/>
<path d="M194.89 466.98 C195.46 466.70 197.18 465.72 198.32 465.27 C199.47 464.81 201.18 464.41 201.75 464.24" stroke="#25b0a0" stroke-width="1.2" fill="none" opacity="0.8" filter="url(#bl05)"/>
<path d="M210.33 463.04 C210.90 462.84 212.76 462.32 213.76 461.84 C214.76 461.35 215.90 460.41 216.33 460.12" stroke="#22a090" stroke-width="1.0" fill="none" opacity="0.7" filter="url(#bl05)"/>
</g>
<text x="209.4" y="478.9" font-size="7" text-anchor="middle" fill="#f4f4f4">100µm</text>
<line x1="210.6" y1="481.3" x2="220" y2="481.3" stroke="#e8e8f0" stroke-width="0.9"/>
<text x="137.20" y="379.80" font-size="8.6" text-anchor="start" font-weight="normal" font-style="normal" fill="#4b52a8"  stroke="#4b52a8" stroke-width="0.16">DAPI</text>
<text x="165.50" y="379.80" font-size="8.6" text-anchor="start" font-weight="normal" font-style="normal" fill="#2f9e5a"  stroke="#2f9e5a" stroke-width="0.16">pERK</text>
<text x="137.20" y="494.50" font-size="8.6" text-anchor="start" font-weight="normal" font-style="normal" fill="#4b52a8"  stroke="#4b52a8" stroke-width="0.16">DAPI</text>
<text x="165.50" y="494.50" font-size="8.6" text-anchor="start" font-weight="normal" font-style="normal" fill="#2f9e5a"  stroke="#2f9e5a" stroke-width="0.16">pERK</text>
<text x="271.00" y="268.00" font-size="11.5" text-anchor="start" font-weight="bold" font-style="normal" fill="#000" >F</text>
<line x1="299.00" y1="286.70" x2="299.00" y2="357.80" stroke="#111" stroke-width="1.45" />
<line x1="298.30" y1="357.20" x2="343.00" y2="357.20" stroke="#111" stroke-width="1.25" />
<line x1="295.40" y1="357.20" x2="299.00" y2="357.20" stroke="#111" stroke-width="1.0" />
<text x="292.70" y="359.60" font-size="7.6" text-anchor="end" font-weight="normal" font-style="normal" fill="#000"  stroke="#000" stroke-width="0.16">0</text>
<line x1="295.40" y1="340.20" x2="299.00" y2="340.20" stroke="#111" stroke-width="1.0" />
<text x="292.70" y="342.60" font-size="7.6" text-anchor="end" font-weight="normal" font-style="normal" fill="#000"  stroke="#000" stroke-width="0.16">10</text>
<line x1="295.40" y1="323.20" x2="299.00" y2="323.20" stroke="#111" stroke-width="1.0" />
<text x="292.70" y="325.60" font-size="7.6" text-anchor="end" font-weight="normal" font-style="normal" fill="#000"  stroke="#000" stroke-width="0.16">20</text>
<line x1="295.40" y1="306.20" x2="299.00" y2="306.20" stroke="#111" stroke-width="1.0" />
<text x="292.70" y="308.60" font-size="7.6" text-anchor="end" font-weight="normal" font-style="normal" fill="#000"  stroke="#000" stroke-width="0.16">30</text>
<line x1="295.40" y1="289.20" x2="299.00" y2="289.20" stroke="#111" stroke-width="1.0" />
<text x="292.70" y="291.60" font-size="7.6" text-anchor="end" font-weight="normal" font-style="normal" fill="#000"  stroke="#000" stroke-width="0.16">40</text>
<line x1="310.70" y1="357.20" x2="310.70" y2="360.30" stroke="#111" stroke-width="1.0" />
<line x1="330.90" y1="357.20" x2="330.90" y2="360.30" stroke="#111" stroke-width="1.0" />
<text x="310.90" y="369.20" font-size="7.8" text-anchor="middle" font-weight="normal" font-style="normal" fill="#000"  stroke="#000" stroke-width="0.16">0</text>
<text x="331.00" y="369.20" font-size="7.8" text-anchor="middle" font-weight="normal" font-style="normal" fill="#000"  stroke="#000" stroke-width="0.16">4</text>
<text transform="translate(320.70,381.80) scale(0.7759,1)" font-size="8.9" text-anchor="middle" fill="#111">TBI (d)</text>
<text transform="translate(278.40,323.40) rotate(-90) scale(0.8539,1)" font-size="8.9" text-anchor="middle" fill="#111">Mean intensity</text>
<text x="320.80" y="300.07" font-size="10.5" text-anchor="middle" font-weight="normal" font-style="normal" fill="#222" stroke="#222" stroke-width="0.15">**</text>
<line x1="303.00" y1="331.50" x2="319.00" y2="331.50" stroke="#222" stroke-width="1.0" />
<line x1="311.10" y1="330.00" x2="311.10" y2="333.20" stroke="#111" stroke-width="0.8" />
<line x1="308.50" y1="330.00" x2="313.70" y2="330.00" stroke="#111" stroke-width="0.8" />
<line x1="308.50" y1="333.20" x2="313.70" y2="333.20" stroke="#111" stroke-width="0.8" />
<line x1="323.00" y1="316.30" x2="338.90" y2="316.30" stroke="#222" stroke-width="1.0" />
<line x1="331.00" y1="313.10" x2="331.00" y2="320.10" stroke="#111" stroke-width="0.8" />
<line x1="327.20" y1="313.10" x2="334.80" y2="313.10" stroke="#111" stroke-width="0.8" />
<line x1="327.20" y1="320.10" x2="334.80" y2="320.10" stroke="#111" stroke-width="0.8" />
<circle cx="307.50" cy="327.10" r="1.7" fill="#c8102e"/>
<circle cx="314.30" cy="328.50" r="1.7" fill="#c8102e"/>
<circle cx="307.50" cy="331.80" r="1.7" fill="#c8102e"/>
<circle cx="314.30" cy="334.70" r="1.7" fill="#c8102e"/>
<circle cx="307.50" cy="336.50" r="1.7" fill="#c8102e"/>
<circle cx="330.90" cy="307.00" r="1.7" fill="#0b4f8a"/>
<circle cx="330.90" cy="312.80" r="1.7" fill="#0b4f8a"/>
<circle cx="327.50" cy="316.60" r="1.7" fill="#0b4f8a"/>
<circle cx="334.40" cy="319.30" r="1.7" fill="#0b4f8a"/>
<circle cx="330.90" cy="327.10" r="1.7" fill="#0b4f8a"/>
<text x="387.70" y="268.60" font-size="11.5" text-anchor="start" font-weight="bold" font-style="normal" fill="#000" >G</text>
<text x="430.00" y="286.50" font-size="7.3" text-anchor="middle" font-weight="normal" font-style="italic" fill="#111"  stroke="#111" stroke-width="0.16">Bmp4</text>
<text x="495.40" y="286.50" font-size="7.3" text-anchor="middle" font-weight="normal" font-style="italic" fill="#111"  stroke="#111" stroke-width="0.16">Bmp4</text>
<line x1="412.50" y1="289.70" x2="412.50" y2="357.80" stroke="#111" stroke-width="1.35" />
<line x1="411.85" y1="357.20" x2="448.60" y2="357.20" stroke="#111" stroke-width="1.25" />
<line x1="408.90" y1="357.20" x2="412.50" y2="357.20" stroke="#111" stroke-width="1.0" />
<text x="405.90" y="359.60" font-size="7.6" text-anchor="end" font-weight="normal" font-style="normal" fill="#000"  stroke="#000" stroke-width="0.16">0</text>
<line x1="408.90" y1="344.37" x2="412.50" y2="344.37" stroke="#111" stroke-width="1.0" />
<text x="405.90" y="346.77" font-size="7.6" text-anchor="end" font-weight="normal" font-style="normal" fill="#000"  stroke="#000" stroke-width="0.16">1</text>
<line x1="408.90" y1="331.54" x2="412.50" y2="331.54" stroke="#111" stroke-width="1.0" />
<text x="405.90" y="333.94" font-size="7.6" text-anchor="end" font-weight="normal" font-style="normal" fill="#000"  stroke="#000" stroke-width="0.16">2</text>
<line x1="408.90" y1="318.71" x2="412.50" y2="318.71" stroke="#111" stroke-width="1.0" />
<text x="405.90" y="321.11" font-size="7.6" text-anchor="end" font-weight="normal" font-style="normal" fill="#000"  stroke="#000" stroke-width="0.16">3</text>
<line x1="408.90" y1="305.88" x2="412.50" y2="305.88" stroke="#111" stroke-width="1.0" />
<text x="405.90" y="308.28" font-size="7.6" text-anchor="end" font-weight="normal" font-style="normal" fill="#000"  stroke="#000" stroke-width="0.16">4</text>
<line x1="408.90" y1="293.05" x2="412.50" y2="293.05" stroke="#111" stroke-width="1.0" />
<text x="405.90" y="295.45" font-size="7.6" text-anchor="end" font-weight="normal" font-style="normal" fill="#000"  stroke="#000" stroke-width="0.16">5</text>
<line x1="422.20" y1="357.20" x2="422.20" y2="360.30" stroke="#111" stroke-width="1.0" />
<line x1="437.60" y1="357.20" x2="437.60" y2="360.30" stroke="#111" stroke-width="1.0" />
<text transform="translate(394.90,327.50) rotate(-90) scale(0.9008,1)" font-size="8.6" text-anchor="middle" fill="#111">Relative expression</text>
<line x1="422.40" y1="324.40" x2="422.40" y2="332.20" stroke="#111" stroke-width="0.8" />
<rect x="417.00" y="325.80" width="10.40" height="5.10" fill="#3cb54a" stroke="none" stroke-width="0.8" />
<line x1="417.00" y1="328.20" x2="427.40" y2="328.20" stroke="#0a1a0a" stroke-width="1.3" />
<line x1="420.30" y1="324.40" x2="424.60" y2="324.40" stroke="#111" stroke-width="0.8" />
<line x1="420.30" y1="332.20" x2="424.60" y2="332.20" stroke="#111" stroke-width="0.8" />
<line x1="437.80" y1="309.30" x2="437.80" y2="317.00" stroke="#111" stroke-width="0.8" />
<line x1="435.00" y1="309.30" x2="440.60" y2="309.30" stroke="#111" stroke-width="0.8" />
<line x1="435.00" y1="317.00" x2="440.60" y2="317.00" stroke="#111" stroke-width="0.8" />
<line x1="432.40" y1="312.30" x2="442.70" y2="312.30" stroke="#111" stroke-width="0.9" />
<text x="437.50" y="309.85" font-size="9" text-anchor="middle" font-weight="normal" font-style="normal" fill="#222" stroke="#222" stroke-width="0.15">**</text>
<text x="422.20" y="368.11" font-size="6.56" text-anchor="middle" font-weight="normal" font-style="normal" fill="#222"  stroke="#222" stroke-width="0.16">−</text>
<text x="437.60" y="368.24" font-size="6.89" text-anchor="middle" font-weight="normal" font-style="normal" fill="#222"  stroke="#222" stroke-width="0.16">+</text>
<text x="410.00" y="369.30" font-size="7.4" text-anchor="end" fill="#111">ZnSO<tspan font-size="5.18" dy="1.6">4</tspan></text>
<text transform="translate(430.00,378.10) scale(0.7885,1)" font-size="9.6" text-anchor="middle" fill="#111">Control</text>
<line x1="477.50" y1="289.70" x2="477.50" y2="357.80" stroke="#111" stroke-width="1.2" />
<line x1="476.85" y1="357.20" x2="513.00" y2="357.20" stroke="#111" stroke-width="1.25" />
<line x1="473.90" y1="357.20" x2="477.50" y2="357.20" stroke="#111" stroke-width="1.0" />
<text x="471.70" y="359.60" font-size="7.6" text-anchor="end" font-weight="normal" font-style="normal" fill="#000"  stroke="#000" stroke-width="0.16">0</text>
<line x1="473.90" y1="335.60" x2="477.50" y2="335.60" stroke="#111" stroke-width="1.0" />
<text x="471.70" y="338.00" font-size="7.6" text-anchor="end" font-weight="normal" font-style="normal" fill="#000"  stroke="#000" stroke-width="0.16">2</text>
<line x1="473.90" y1="314.00" x2="477.50" y2="314.00" stroke="#111" stroke-width="1.0" />
<text x="471.70" y="316.40" font-size="7.6" text-anchor="end" font-weight="normal" font-style="normal" fill="#000"  stroke="#000" stroke-width="0.16">4</text>
<line x1="473.90" y1="292.40" x2="477.50" y2="292.40" stroke="#111" stroke-width="1.0" />
<text x="471.70" y="294.80" font-size="7.6" text-anchor="end" font-weight="normal" font-style="normal" fill="#000"  stroke="#000" stroke-width="0.16">6</text>
<line x1="487.00" y1="357.20" x2="487.00" y2="360.30" stroke="#111" stroke-width="1.0" />
<line x1="502.60" y1="357.20" x2="502.60" y2="360.30" stroke="#111" stroke-width="1.0" />
<line x1="487.90" y1="309.30" x2="487.90" y2="323.70" stroke="#111" stroke-width="0.9" />
<line x1="485.70" y1="309.30" x2="490.10" y2="309.30" stroke="#111" stroke-width="0.9" />
<line x1="485.70" y1="323.70" x2="490.10" y2="323.70" stroke="#111" stroke-width="0.9" />
<rect x="482.70" y="311.40" width="10.50" height="10.10" fill="#3cb54a" stroke="none" stroke-width="0.8" />
<line x1="482.70" y1="316.40" x2="493.20" y2="316.40" stroke="#071a07" stroke-width="1.4" />
<line x1="503.00" y1="299.50" x2="503.00" y2="320.60" stroke="#111" stroke-width="0.9" />
<line x1="500.90" y1="299.50" x2="505.10" y2="299.50" stroke="#111" stroke-width="0.9" />
<line x1="500.90" y1="320.60" x2="505.10" y2="320.60" stroke="#111" stroke-width="0.9" />
<rect x="497.90" y="302.60" width="10.00" height="16.70" fill="#134f8c" stroke="none" stroke-width="0.8" />
<line x1="497.90" y1="314.40" x2="507.90" y2="314.40" stroke="#000" stroke-width="1.4" />
<text x="503.00" y="297.40" font-size="7.4" text-anchor="middle" font-weight="normal" font-style="normal" fill="#111"  stroke="#111" stroke-width="0.16">ns</text>
<text x="487.00" y="368.11" font-size="6.56" text-anchor="middle" font-weight="normal" font-style="normal" fill="#222"  stroke="#222" stroke-width="0.16">−</text>
<text x="502.60" y="368.24" font-size="6.89" text-anchor="middle" font-weight="normal" font-style="normal" fill="#222"  stroke="#222" stroke-width="0.16">+</text>
<text transform="translate(495.00,378.10) scale(0.7573,1)" font-size="9.6" text-anchor="middle" fill="#111">siRNA</text>
<text x="359.60" y="402.40" font-size="11.5" text-anchor="start" font-weight="bold" font-style="normal" fill="#000" >H</text>
<text x="416.00" y="412.80" font-size="7.6" text-anchor="middle" font-weight="normal" font-style="italic" fill="#111"  stroke="#111" stroke-width="0.16">Bmp4</text>
<rect x="398.10" y="481.00" width="10.50" height="3.50" fill="#a3dca5" stroke="none" stroke-width="0.8" />
<rect x="414.20" y="477.40" width="10.40" height="7.10" fill="#7fa0c2" stroke="none" stroke-width="0.8" />
<rect x="430.20" y="459.60" width="10.50" height="24.90" fill="#a98cc6" stroke="none" stroke-width="0.8" />
<rect x="446.20" y="466.20" width="10.60" height="18.30" fill="#e68a9c" stroke="none" stroke-width="0.8" />
<line x1="395.40" y1="417.80" x2="395.40" y2="485.10" stroke="#111" stroke-width="1.35" />
<line x1="394.75" y1="484.50" x2="458.80" y2="484.50" stroke="#111" stroke-width="1.3" />
<line x1="391.90" y1="484.50" x2="395.40" y2="484.50" stroke="#111" stroke-width="1.0" />
<text x="389.00" y="487.00" font-size="7.5" text-anchor="end" font-weight="normal" font-style="normal" fill="#000"  stroke="#000" stroke-width="0.16">0</text>
<line x1="391.90" y1="471.72" x2="395.40" y2="471.72" stroke="#111" stroke-width="1.0" />
<text x="389.00" y="474.22" font-size="7.5" text-anchor="end" font-weight="normal" font-style="normal" fill="#000"  stroke="#000" stroke-width="0.16">2</text>
<line x1="391.90" y1="458.94" x2="395.40" y2="458.94" stroke="#111" stroke-width="1.0" />
<text x="389.00" y="461.44" font-size="7.5" text-anchor="end" font-weight="normal" font-style="normal" fill="#000"  stroke="#000" stroke-width="0.16">4</text>
<line x1="391.90" y1="446.16" x2="395.40" y2="446.16" stroke="#111" stroke-width="1.0" />
<text x="389.00" y="448.66" font-size="7.5" text-anchor="end" font-weight="normal" font-style="normal" fill="#000"  stroke="#000" stroke-width="0.16">6</text>
<line x1="391.90" y1="433.38" x2="395.40" y2="433.38" stroke="#111" stroke-width="1.0" />
<text x="389.00" y="435.88" font-size="7.5" text-anchor="end" font-weight="normal" font-style="normal" fill="#000"  stroke="#000" stroke-width="0.16">8</text>
<line x1="391.90" y1="420.60" x2="395.40" y2="420.60" stroke="#111" stroke-width="1.0" />
<text x="389.00" y="423.10" font-size="7.5" text-anchor="end" font-weight="normal" font-style="normal" fill="#000"  stroke="#000" stroke-width="0.16">10</text>
<line x1="403.40" y1="484.50" x2="403.40" y2="487.60" stroke="#111" stroke-width="1.0" />
<line x1="418.90" y1="484.50" x2="418.90" y2="487.60" stroke="#111" stroke-width="1.0" />
<line x1="435.20" y1="484.50" x2="435.20" y2="487.60" stroke="#111" stroke-width="1.0" />
<line x1="451.30" y1="484.50" x2="451.30" y2="487.60" stroke="#111" stroke-width="1.0" />
<text transform="translate(374.30,453.00) rotate(-90) scale(0.8704,1)" font-size="8.4" text-anchor="middle" fill="#111">Relative expression</text>
<line x1="435.30" y1="450.10" x2="435.30" y2="467.00" stroke="#111" stroke-width="0.9" />
<line x1="432.80" y1="450.10" x2="437.80" y2="450.10" stroke="#111" stroke-width="0.9" />
<line x1="432.80" y1="467.00" x2="437.80" y2="467.00" stroke="#111" stroke-width="0.9" />
<line x1="451.40" y1="456.50" x2="451.40" y2="473.70" stroke="#111" stroke-width="0.9" />
<line x1="448.80" y1="456.50" x2="454.00" y2="456.50" stroke="#111" stroke-width="0.9" />
<line x1="448.80" y1="473.70" x2="454.00" y2="473.70" stroke="#111" stroke-width="0.9" />
<circle cx="400.00" cy="480.00" r="1.45" fill="#2fb34a"/>
<circle cx="401.60" cy="480.20" r="1.45" fill="#2fb34a"/>
<circle cx="403.20" cy="479.90" r="1.45" fill="#2fb34a"/>
<circle cx="404.80" cy="480.20" r="1.45" fill="#2fb34a"/>
<circle cx="406.40" cy="480.00" r="1.45" fill="#2fb34a"/>
<circle cx="402.40" cy="480.40" r="1.45" fill="#2fb34a"/>
<circle cx="419.30" cy="459.60" r="1.55" fill="#0b4f8a"/>
<circle cx="415.70" cy="474.00" r="1.55" fill="#0b4f8a"/>
<circle cx="422.00" cy="473.20" r="1.55" fill="#0b4f8a"/>
<circle cx="417.30" cy="476.30" r="1.55" fill="#0b4f8a"/>
<circle cx="420.40" cy="476.30" r="1.55" fill="#0b4f8a"/>
<circle cx="418.90" cy="478.60" r="1.55" fill="#0b4f8a"/>
<circle cx="417.30" cy="481.00" r="1.55" fill="#0b4f8a"/>
<circle cx="421.20" cy="480.20" r="1.55" fill="#0b4f8a"/>
<circle cx="418.90" cy="482.80" r="1.55" fill="#0b4f8a"/>
<circle cx="416.40" cy="475.20" r="1.55" fill="#0b4f8a"/>
<circle cx="421.40" cy="474.80" r="1.55" fill="#0b4f8a"/>
<circle cx="435.20" cy="423.70" r="1.6" fill="#4b1f78"/>
<circle cx="432.40" cy="466.50" r="1.6" fill="#4b1f78"/>
<circle cx="435.20" cy="466.20" r="1.6" fill="#4b1f78"/>
<circle cx="438.00" cy="466.50" r="1.6" fill="#4b1f78"/>
<circle cx="435.20" cy="471.30" r="1.6" fill="#4b1f78"/>
<circle cx="451.30" cy="442.00" r="1.6" fill="#c8102e"/>
<circle cx="449.00" cy="468.50" r="1.6" fill="#c8102e"/>
<circle cx="453.70" cy="469.60" r="1.6" fill="#c8102e"/>
<circle cx="451.30" cy="481.80" r="1.6" fill="#c8102e"/>
<line x1="403.70" y1="468.50" x2="418.90" y2="468.50" stroke="#444" stroke-width="1.0" />
<text x="411.80" y="470.38" font-size="10.5" text-anchor="middle" font-weight="normal" font-style="normal" fill="#222" stroke="#222" stroke-width="0.15">**</text>
<line x1="418.90" y1="445.10" x2="434.00" y2="445.10" stroke="#444" stroke-width="1.0" />
<text x="427.10" y="446.97" font-size="10.5" text-anchor="middle" font-weight="normal" font-style="normal" fill="#222" stroke="#222" stroke-width="0.15">**</text>
<line x1="434.90" y1="436.20" x2="450.00" y2="436.20" stroke="#444" stroke-width="1.0" />
<text x="442.30" y="434.20" font-size="7.5" text-anchor="middle" font-weight="normal" font-style="normal" fill="#111"  stroke="#111" stroke-width="0.16">ns</text>
<text x="393.40" y="496.40" font-size="7.4" text-anchor="end" fill="#111">ZnSO<tspan font-size="5.18" dy="1.6">4</tspan></text>
<text x="389.60" y="506.10" font-size="7.4" text-anchor="end" font-weight="normal" font-style="normal" fill="#111"  stroke="#111" stroke-width="0.16">TC-G 1008</text>
<text x="403.30" y="496.38" font-size="7.04" text-anchor="middle" font-weight="normal" font-style="normal" fill="#222"  stroke="#222" stroke-width="0.16">−</text>
<text x="403.30" y="506.28" font-size="7.04" text-anchor="middle" font-weight="normal" font-style="normal" fill="#222"  stroke="#222" stroke-width="0.16">−</text>
<text x="418.90" y="496.51" font-size="7.39" text-anchor="middle" font-weight="normal" font-style="normal" fill="#222"  stroke="#222" stroke-width="0.16">+</text>
<text x="418.90" y="506.28" font-size="7.04" text-anchor="middle" font-weight="normal" font-style="normal" fill="#222"  stroke="#222" stroke-width="0.16">−</text>
<text x="435.20" y="496.38" font-size="7.04" text-anchor="middle" font-weight="normal" font-style="normal" fill="#222"  stroke="#222" stroke-width="0.16">−</text>
<text x="435.20" y="506.41" font-size="7.39" text-anchor="middle" font-weight="normal" font-style="normal" fill="#222"  stroke="#222" stroke-width="0.16">+</text>
<text x="451.30" y="496.51" font-size="7.39" text-anchor="middle" font-weight="normal" font-style="normal" fill="#222"  stroke="#222" stroke-width="0.16">+</text>
<text x="451.30" y="506.41" font-size="7.39" text-anchor="middle" font-weight="normal" font-style="normal" fill="#222"  stroke="#222" stroke-width="0.16">+</text>
<path d="M0 0H520V513H0Z M1.05 1.05V511.6H518.7V1.05Z" fill="#000" fill-rule="evenodd"/>
</svg>
</body></html>
